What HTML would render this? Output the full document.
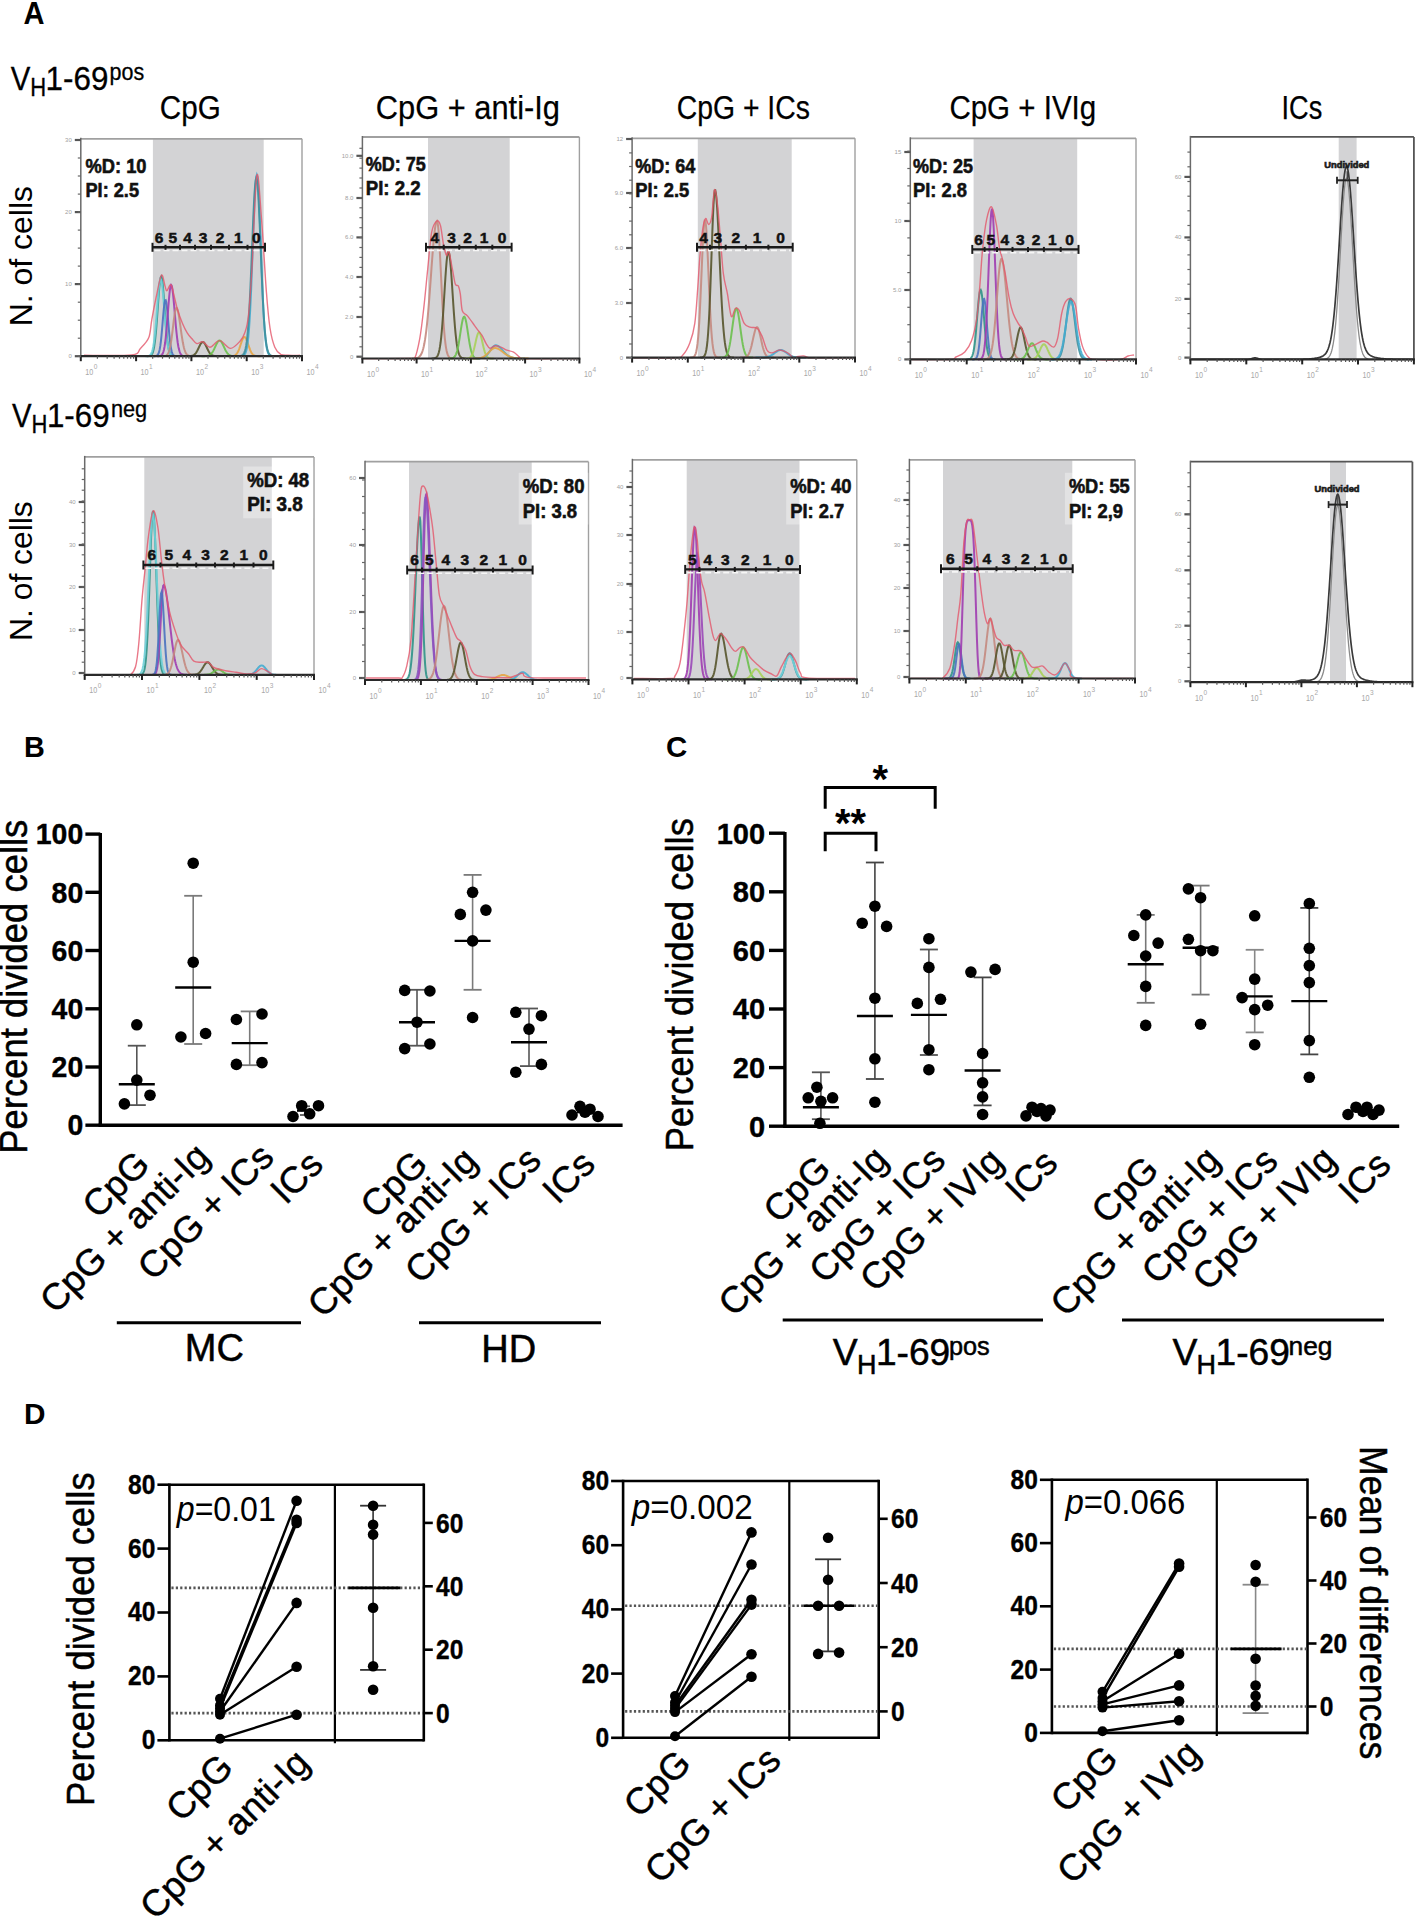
<!DOCTYPE html>
<html><head><meta charset="utf-8"><title>Figure</title>
<style>
html,body{margin:0;padding:0;background:#fff;}
body{width:1417px;height:1917px;overflow:hidden;}
svg{display:block;font-family:"Liberation Sans", sans-serif;}
</style></head>
<body>
<svg width="1417" height="1917" viewBox="0 0 1417 1917">
<rect width="1417" height="1917" fill="#fff"/>
<text x="23.6" y="24.0" font-size="30.5" font-weight="bold" text-anchor="start" fill="#000" textLength="21" lengthAdjust="spacingAndGlyphs">A</text>
<text x="10.8" y="90.2" font-size="33" text-anchor="start" fill="#000" textLength="19.6" lengthAdjust="spacingAndGlyphs" stroke="#000" stroke-width="0.3">V</text>
<text x="30.3" y="96.3" font-size="25" text-anchor="start" fill="#000" textLength="15.9" lengthAdjust="spacingAndGlyphs" stroke="#000" stroke-width="0.3">H</text>
<text x="45.6" y="90.2" font-size="33" text-anchor="start" fill="#000" textLength="62.8" lengthAdjust="spacingAndGlyphs" stroke="#000" stroke-width="0.3">1-69</text>
<text x="109.6" y="80.0" font-size="23.4" text-anchor="start" fill="#000" textLength="34.6" lengthAdjust="spacingAndGlyphs" stroke="#000" stroke-width="0.3">pos</text>
<text x="12.1" y="427.2" font-size="33" text-anchor="start" fill="#000" textLength="19.6" lengthAdjust="spacingAndGlyphs" stroke="#000" stroke-width="0.3">V</text>
<text x="31.6" y="433.3" font-size="25" text-anchor="start" fill="#000" textLength="15.9" lengthAdjust="spacingAndGlyphs" stroke="#000" stroke-width="0.3">H</text>
<text x="46.9" y="427.2" font-size="33" text-anchor="start" fill="#000" textLength="62.8" lengthAdjust="spacingAndGlyphs" stroke="#000" stroke-width="0.3">1-69</text>
<text x="110.9" y="417.0" font-size="23.4" text-anchor="start" fill="#000" textLength="36.3" lengthAdjust="spacingAndGlyphs" stroke="#000" stroke-width="0.3">neg</text>
<text x="159.8" y="118.9" font-size="34" text-anchor="start" fill="#000" textLength="60.9" lengthAdjust="spacingAndGlyphs" stroke="#000" stroke-width="0.25">CpG</text>
<text x="375.8" y="118.9" font-size="34" text-anchor="start" fill="#000" textLength="184.19999999999996" lengthAdjust="spacingAndGlyphs" stroke="#000" stroke-width="0.25">CpG + anti-Ig</text>
<text x="676.7" y="118.9" font-size="34" text-anchor="start" fill="#000" textLength="133.20000000000007" lengthAdjust="spacingAndGlyphs" stroke="#000" stroke-width="0.25">CpG + ICs</text>
<text x="949.4" y="118.9" font-size="34" text-anchor="start" fill="#000" textLength="146.79999999999998" lengthAdjust="spacingAndGlyphs" stroke="#000" stroke-width="0.25">CpG + IVIg</text>
<text x="1281.5" y="118.9" font-size="34" text-anchor="start" fill="#000" textLength="40.69999999999995" lengthAdjust="spacingAndGlyphs" stroke="#000" stroke-width="0.25">ICs</text>
<text transform="translate(32.3,326.2) rotate(-90)" font-size="31" fill="#000" textLength="140.2" lengthAdjust="spacingAndGlyphs">N. of cells</text>
<text transform="translate(32.3,641) rotate(-90)" font-size="31" fill="#000" textLength="139.8" lengthAdjust="spacingAndGlyphs">N. of cells</text>
<rect x="152.9" y="138.8" width="110.8" height="217.4" fill="#d3d3d5"/>
<line x1="80.8" y1="138.8" x2="302.0" y2="138.8" stroke="#a0a0a0" stroke-width="1.8"/>
<line x1="302.0" y1="138.8" x2="302.0" y2="356.2" stroke="#a0a0a0" stroke-width="1.4"/>
<path d="M146.9,356.2 L147.5,356.2 L148.1,356.2 L148.7,356.1 L149.3,356.0 L149.9,355.9 L150.5,355.6 L151.1,355.2 L151.7,354.6 L152.3,353.6 L152.9,352.1 L153.5,350.0 L154.1,347.1 L154.7,343.2 L155.3,338.3 L155.9,332.3 L156.5,325.3 L157.1,317.4 L157.7,309.0 L158.3,300.5 L158.9,292.5 L159.5,285.7 L160.1,280.4 L160.7,277.3 L161.3,276.5 L161.9,278.3 L162.5,282.3 L163.1,288.2 L163.7,295.6 L164.3,303.9 L164.9,312.4 L165.5,320.6 L166.1,328.2 L166.7,334.9 L167.3,340.4 L167.9,344.9 L168.5,348.3 L169.1,350.9 L169.7,352.7 L170.3,354.0 L170.9,354.9 L171.5,355.4 L172.1,355.7 L172.7,355.9 L173.3,356.1 L173.9,356.1 L174.5,356.2 L175.1,356.2" fill="none" stroke="#2f9488" stroke-width="2.0" opacity="0.9"/>
<path d="M145.5,356.2 L146.1,356.2 L146.7,356.2 L147.3,356.1 L147.9,356.0 L148.5,355.9 L149.1,355.7 L149.7,355.4 L150.3,354.9 L150.9,354.2 L151.5,353.1 L152.1,351.5 L152.7,349.3 L153.3,346.4 L153.9,342.7 L154.5,338.0 L155.1,332.4 L155.7,325.9 L156.3,318.6 L156.9,310.9 L157.5,303.2 L158.1,295.8 L158.7,289.2 L159.3,284.0 L159.9,280.5 L160.5,279.0 L161.1,279.7 L161.7,282.4 L162.3,287.0 L162.9,293.0 L163.5,300.1 L164.1,307.8 L164.7,315.6 L165.3,323.0 L165.9,329.9 L166.5,335.9 L167.1,340.9 L167.7,345.0 L168.3,348.3 L168.9,350.7 L169.5,352.5 L170.1,353.8 L170.7,354.7 L171.3,355.3 L171.9,355.6 L172.5,355.9 L173.1,356.0 L173.7,356.1 L174.3,356.1 L174.9,356.2 L175.5,356.2" fill="none" stroke="#6fd0d8" stroke-width="2.0" opacity="0.9"/>
<path d="M153.7,356.2 L154.3,356.2 L154.9,356.2 L155.5,356.1 L156.1,356.0 L156.7,355.8 L157.3,355.4 L157.9,354.7 L158.5,353.6 L159.1,351.9 L159.7,349.4 L160.3,345.9 L160.9,341.3 L161.5,335.5 L162.1,328.8 L162.7,321.6 L163.3,314.5 L163.9,308.1 L164.5,303.2 L165.1,300.5 L165.7,300.2 L166.3,302.5 L166.9,307.0 L167.5,313.1 L168.1,320.2 L168.7,327.4 L169.3,334.3 L169.9,340.2 L170.5,345.1 L171.1,348.8 L171.7,351.5 L172.3,353.4 L172.9,354.6 L173.5,355.3 L174.1,355.7 L174.7,356.0 L175.3,356.1 L175.9,356.1 L176.5,356.2 L177.1,356.2" fill="none" stroke="#4a72c0" stroke-width="2.0" opacity="0.9"/>
<path d="M157.3,356.2 L157.9,356.2 L158.5,356.2 L159.1,356.1 L159.7,356.0 L160.3,355.9 L160.9,355.6 L161.5,355.2 L162.1,354.6 L162.7,353.5 L163.3,352.0 L163.9,349.9 L164.5,346.9 L165.1,343.0 L165.7,338.1 L166.3,332.1 L166.9,325.3 L167.5,317.7 L168.1,309.9 L168.7,302.3 L169.3,295.5 L169.9,290.0 L170.5,286.4 L171.1,285.0 L171.7,285.8 L172.3,288.5 L172.9,292.8 L173.5,298.6 L174.1,305.2 L174.7,312.3 L175.3,319.4 L175.9,326.3 L176.5,332.5 L177.1,337.9 L177.7,342.5 L178.3,346.2 L178.9,349.1 L179.5,351.3 L180.1,352.9 L180.7,354.1 L181.3,354.9 L181.9,355.4 L182.5,355.7 L183.1,355.9 L183.7,356.0 L184.3,356.1 L184.9,356.2 L185.5,356.2 L186.1,356.2" fill="none" stroke="#a03cb0" stroke-width="2.0" opacity="0.9"/>
<path d="M161.8,356.2 L162.4,356.2 L163.0,356.2 L163.6,356.1 L164.2,356.1 L164.8,356.0 L165.4,355.9 L166.0,355.7 L166.6,355.3 L167.2,354.8 L167.8,354.0 L168.4,352.9 L169.0,351.3 L169.6,349.3 L170.2,346.7 L170.8,343.4 L171.4,339.5 L172.0,335.1 L172.6,330.3 L173.2,325.3 L173.8,320.4 L174.4,315.9 L175.0,312.2 L175.6,309.6 L176.2,308.2 L176.8,308.1 L177.4,309.2 L178.0,311.3 L178.6,314.2 L179.2,317.8 L179.8,321.9 L180.4,326.2 L181.0,330.6 L181.6,334.8 L182.2,338.7 L182.8,342.3 L183.4,345.3 L184.0,347.9 L184.6,350.0 L185.2,351.7 L185.8,353.0 L186.4,353.9 L187.0,354.7 L187.6,355.2 L188.2,355.5 L188.8,355.8 L189.4,355.9 L190.0,356.0 L190.6,356.1 L191.2,356.1 L191.8,356.2 L192.4,356.2 L193.0,356.2" fill="none" stroke="#c48a80" stroke-width="2.0" opacity="0.9"/>
<path d="M186.0,356.2 L186.6,356.2 L187.2,356.2 L187.8,356.2 L188.4,356.2 L189.0,356.2 L189.6,356.1 L190.2,356.1 L190.8,356.0 L191.4,356.0 L192.0,355.8 L192.6,355.7 L193.2,355.4 L193.8,355.1 L194.4,354.6 L195.0,354.1 L195.6,353.4 L196.2,352.6 L196.8,351.6 L197.4,350.5 L198.0,349.3 L198.6,348.0 L199.2,346.7 L199.8,345.5 L200.4,344.3 L201.0,343.4 L201.6,342.6 L202.2,342.2 L202.8,342.0 L203.4,342.2 L204.0,342.6 L204.6,343.4 L205.2,344.3 L205.8,345.5 L206.4,346.7 L207.0,348.0 L207.6,349.3 L208.2,350.5 L208.8,351.6 L209.4,352.6 L210.0,353.4 L210.6,354.1 L211.2,354.6 L211.8,355.1 L212.4,355.4 L213.0,355.7 L213.6,355.8 L214.2,356.0 L214.8,356.0 L215.4,356.1 L216.0,356.1 L216.6,356.2 L217.2,356.2 L217.8,356.2 L218.4,356.2 L219.0,356.2 L219.6,356.2" fill="none" stroke="#56542c" stroke-width="2.0" opacity="0.9"/>
<path d="M201.5,356.2 L202.1,356.2 L202.7,356.2 L203.3,356.2 L203.9,356.2 L204.5,356.2 L205.1,356.1 L205.7,356.1 L206.3,356.1 L206.9,356.0 L207.5,355.9 L208.1,355.7 L208.7,355.6 L209.3,355.3 L209.9,354.9 L210.5,354.5 L211.1,353.9 L211.7,353.2 L212.3,352.4 L212.9,351.5 L213.5,350.4 L214.1,349.2 L214.7,347.9 L215.3,346.6 L215.9,345.3 L216.5,344.0 L217.1,342.9 L217.7,341.9 L218.3,341.2 L218.9,340.7 L219.5,340.5 L220.1,340.6 L220.7,341.0 L221.3,341.7 L221.9,342.7 L222.5,343.8 L223.1,345.0 L223.7,346.3 L224.3,347.6 L224.9,348.9 L225.5,350.2 L226.1,351.3 L226.7,352.2 L227.3,353.1 L227.9,353.8 L228.5,354.4 L229.1,354.9 L229.7,355.2 L230.3,355.5 L230.9,355.7 L231.5,355.9 L232.1,356.0 L232.7,356.1 L233.3,356.1 L233.9,356.1 L234.5,356.2 L235.1,356.2 L235.7,356.2 L236.3,356.2 L236.9,356.2 L237.5,356.2" fill="none" stroke="#6cc04e" stroke-width="2.0" opacity="0.9"/>
<path d="M228.5,356.2 L229.1,356.2 L229.7,356.2 L230.3,356.2 L230.9,356.2 L231.5,356.1 L232.1,356.1 L232.7,356.0 L233.3,355.9 L233.9,355.8 L234.5,355.6 L235.1,355.3 L235.7,354.9 L236.3,354.3 L236.9,353.5 L237.5,352.6 L238.1,351.5 L238.7,350.1 L239.3,348.6 L239.9,346.9 L240.5,345.0 L241.1,343.2 L241.7,341.5 L242.3,339.9 L242.9,338.6 L243.5,337.6 L244.1,337.1 L244.7,337.0 L245.3,337.5 L245.9,338.3 L246.5,339.6 L247.1,341.1 L247.7,342.9 L248.3,344.7 L248.9,346.5 L249.5,348.2 L250.1,349.8 L250.7,351.2 L251.3,352.4 L251.9,353.4 L252.5,354.2 L253.1,354.8 L253.7,355.2 L254.3,355.5 L254.9,355.8 L255.5,355.9 L256.1,356.0 L256.7,356.1 L257.3,356.1 L257.9,356.2 L258.5,356.2 L259.1,356.2 L259.7,356.2 L260.3,356.2" fill="none" stroke="#e6a545" stroke-width="2.0" opacity="0.9"/>
<path d="M240.0,356.2 L240.6,356.2 L241.2,356.1 L241.8,356.0 L242.4,355.9 L243.0,355.7 L243.6,355.4 L244.2,354.9 L244.8,354.2 L245.4,353.1 L246.0,351.5 L246.6,349.2 L247.2,346.0 L247.8,341.8 L248.4,336.2 L249.0,329.1 L249.6,320.3 L250.2,309.8 L250.8,297.4 L251.4,283.4 L252.0,268.0 L252.6,251.8 L253.2,235.3 L253.8,219.4 L254.4,204.8 L255.0,192.4 L255.6,183.0 L256.2,177.0 L256.8,175.0 L257.4,177.0 L258.0,183.0 L258.6,192.4 L259.2,204.8 L259.8,219.4 L260.4,235.3 L261.0,251.8 L261.6,268.0 L262.2,283.4 L262.8,297.4 L263.4,309.8 L264.0,320.3 L264.6,329.1 L265.2,336.2 L265.8,341.8 L266.4,346.0 L267.0,349.2 L267.6,351.5 L268.2,353.1 L268.8,354.2 L269.4,354.9 L270.0,355.4 L270.6,355.7 L271.2,355.9 L271.8,356.0 L272.4,356.1 L273.0,356.2 L273.6,356.2" fill="none" stroke="#45acd0" stroke-width="2.0" opacity="0.9"/>
<path d="M238.3,356.2 L238.9,356.2 L239.5,356.1 L240.1,356.1 L240.7,356.0 L241.3,355.8 L241.9,355.6 L242.5,355.2 L243.1,354.7 L243.7,353.9 L244.3,352.7 L244.9,351.1 L245.5,348.9 L246.1,345.9 L246.7,341.9 L247.3,336.8 L247.9,330.5 L248.5,322.7 L249.1,313.4 L249.7,302.5 L250.3,290.2 L250.9,276.6 L251.5,262.1 L252.1,247.1 L252.7,232.2 L253.3,217.9 L253.9,204.9 L254.5,193.9 L255.1,185.5 L255.7,180.1 L256.3,178.0 L256.9,179.4 L257.5,184.2 L258.1,192.0 L258.7,202.5 L259.3,215.1 L259.9,229.2 L260.5,244.1 L261.1,259.1 L261.7,273.8 L262.3,287.6 L262.9,300.1 L263.5,311.3 L264.1,320.9 L264.7,329.0 L265.3,335.7 L265.9,341.0 L266.5,345.1 L267.1,348.3 L267.7,350.7 L268.3,352.4 L268.9,353.7 L269.5,354.5 L270.1,355.1 L270.7,355.5 L271.3,355.8 L271.9,355.9 L272.5,356.0 L273.1,356.1 L273.7,356.1 L274.3,356.2" fill="none" stroke="#3f8f9c" stroke-width="2.0" opacity="0.9"/>
<path d="M84.0,355.3 C91.9,355.3 122.0,356.1 131.4,355.0 C140.8,353.8 137.5,351.3 140.4,348.4 C143.3,345.5 146.9,342.4 148.8,337.6 C150.7,332.8 150.6,326.2 151.8,319.6 C153.0,313.0 154.4,305.4 156.0,298.0 C157.6,290.6 159.9,277.2 161.4,275.2 C162.9,273.2 164.1,283.4 165.0,286.0 C165.9,288.6 165.8,291.0 166.8,290.8 C167.8,290.6 169.7,283.6 171.0,284.8 C172.3,286.0 173.5,293.8 174.6,298.0 C175.7,302.2 176.3,305.8 177.6,310.0 C178.9,314.2 180.8,319.4 182.4,323.2 C184.0,327.0 185.6,330.2 187.2,332.8 C188.8,335.4 190.4,337.0 192.0,338.8 C193.6,340.6 195.0,343.1 196.8,343.6 C198.6,344.1 200.6,341.2 202.8,341.8 C205.0,342.4 207.2,347.4 210.0,347.2 C212.8,347.0 216.2,340.4 219.6,340.6 C223.0,340.8 227.0,348.3 230.4,348.4 C233.8,348.5 237.6,343.8 240.0,341.2 C242.4,338.6 243.4,337.0 244.8,332.8 C246.2,328.6 247.2,326.8 248.4,316.0 C249.6,305.2 250.6,291.4 252.0,268.0 C253.4,244.6 255.2,183.6 256.8,175.6 C258.4,167.6 260.0,200.6 261.6,220.0 C263.2,239.4 265.0,274.0 266.4,292.0 C267.8,310.0 268.6,318.8 270.0,328.0 C271.4,337.2 273.0,342.8 274.8,347.2 C276.6,351.6 278.6,353.0 280.8,354.4 C283.0,355.7 284.8,355.2 288.0,355.3 C291.2,355.5 298.0,355.3 300.0,355.3" fill="none" stroke="#e4566a" stroke-width="1.4" opacity="0.8"/>
<line x1="80.8" y1="137.8" x2="80.8" y2="357.2" stroke="#6a6a6a" stroke-width="1.5"/>
<line x1="79.8" y1="356.2" x2="303.0" y2="356.2" stroke="#2a2a2a" stroke-width="2.2"/>
<line x1="80.8" y1="356.2" x2="80.8" y2="361.2" stroke="#222" stroke-width="2"/>
<text x="85.3" y="374.7" font-size="9" fill="#a8a8a8" text-anchor="start" textLength="8" lengthAdjust="spacingAndGlyphs">10</text>
<text x="93.8" y="369.2" font-size="6.5" fill="#a8a8a8">0</text>
<line x1="97.4" y1="356.2" x2="97.4" y2="358.7" stroke="#555" stroke-width="1.2"/>
<line x1="107.2" y1="356.2" x2="107.2" y2="358.7" stroke="#555" stroke-width="1.2"/>
<line x1="114.1" y1="356.2" x2="114.1" y2="358.7" stroke="#555" stroke-width="1.2"/>
<line x1="119.5" y1="356.2" x2="119.5" y2="358.7" stroke="#555" stroke-width="1.2"/>
<line x1="123.8" y1="356.2" x2="123.8" y2="358.7" stroke="#555" stroke-width="1.2"/>
<line x1="127.5" y1="356.2" x2="127.5" y2="358.7" stroke="#555" stroke-width="1.2"/>
<line x1="130.7" y1="356.2" x2="130.7" y2="358.7" stroke="#555" stroke-width="1.2"/>
<line x1="133.6" y1="356.2" x2="133.6" y2="358.7" stroke="#555" stroke-width="1.2"/>
<line x1="136.1" y1="356.2" x2="136.1" y2="361.2" stroke="#222" stroke-width="2"/>
<text x="140.6" y="374.7" font-size="9" fill="#a8a8a8" text-anchor="start" textLength="8" lengthAdjust="spacingAndGlyphs">10</text>
<text x="149.1" y="369.2" font-size="6.5" fill="#a8a8a8">1</text>
<line x1="152.7" y1="356.2" x2="152.7" y2="358.7" stroke="#555" stroke-width="1.2"/>
<line x1="162.5" y1="356.2" x2="162.5" y2="358.7" stroke="#555" stroke-width="1.2"/>
<line x1="169.4" y1="356.2" x2="169.4" y2="358.7" stroke="#555" stroke-width="1.2"/>
<line x1="174.8" y1="356.2" x2="174.8" y2="358.7" stroke="#555" stroke-width="1.2"/>
<line x1="179.1" y1="356.2" x2="179.1" y2="358.7" stroke="#555" stroke-width="1.2"/>
<line x1="182.8" y1="356.2" x2="182.8" y2="358.7" stroke="#555" stroke-width="1.2"/>
<line x1="186.0" y1="356.2" x2="186.0" y2="358.7" stroke="#555" stroke-width="1.2"/>
<line x1="188.9" y1="356.2" x2="188.9" y2="358.7" stroke="#555" stroke-width="1.2"/>
<line x1="191.4" y1="356.2" x2="191.4" y2="361.2" stroke="#222" stroke-width="2"/>
<text x="195.9" y="374.7" font-size="9" fill="#a8a8a8" text-anchor="start" textLength="8" lengthAdjust="spacingAndGlyphs">10</text>
<text x="204.4" y="369.2" font-size="6.5" fill="#a8a8a8">2</text>
<line x1="208.0" y1="356.2" x2="208.0" y2="358.7" stroke="#555" stroke-width="1.2"/>
<line x1="217.8" y1="356.2" x2="217.8" y2="358.7" stroke="#555" stroke-width="1.2"/>
<line x1="224.7" y1="356.2" x2="224.7" y2="358.7" stroke="#555" stroke-width="1.2"/>
<line x1="230.1" y1="356.2" x2="230.1" y2="358.7" stroke="#555" stroke-width="1.2"/>
<line x1="234.4" y1="356.2" x2="234.4" y2="358.7" stroke="#555" stroke-width="1.2"/>
<line x1="238.1" y1="356.2" x2="238.1" y2="358.7" stroke="#555" stroke-width="1.2"/>
<line x1="241.3" y1="356.2" x2="241.3" y2="358.7" stroke="#555" stroke-width="1.2"/>
<line x1="244.2" y1="356.2" x2="244.2" y2="358.7" stroke="#555" stroke-width="1.2"/>
<line x1="246.7" y1="356.2" x2="246.7" y2="361.2" stroke="#222" stroke-width="2"/>
<text x="251.2" y="374.7" font-size="9" fill="#a8a8a8" text-anchor="start" textLength="8" lengthAdjust="spacingAndGlyphs">10</text>
<text x="259.7" y="369.2" font-size="6.5" fill="#a8a8a8">3</text>
<line x1="263.3" y1="356.2" x2="263.3" y2="358.7" stroke="#555" stroke-width="1.2"/>
<line x1="273.1" y1="356.2" x2="273.1" y2="358.7" stroke="#555" stroke-width="1.2"/>
<line x1="280.0" y1="356.2" x2="280.0" y2="358.7" stroke="#555" stroke-width="1.2"/>
<line x1="285.4" y1="356.2" x2="285.4" y2="358.7" stroke="#555" stroke-width="1.2"/>
<line x1="289.7" y1="356.2" x2="289.7" y2="358.7" stroke="#555" stroke-width="1.2"/>
<line x1="293.4" y1="356.2" x2="293.4" y2="358.7" stroke="#555" stroke-width="1.2"/>
<line x1="296.6" y1="356.2" x2="296.6" y2="358.7" stroke="#555" stroke-width="1.2"/>
<line x1="299.5" y1="356.2" x2="299.5" y2="358.7" stroke="#555" stroke-width="1.2"/>
<line x1="302.0" y1="356.2" x2="302.0" y2="361.2" stroke="#222" stroke-width="2"/>
<text x="306.5" y="374.7" font-size="9" fill="#a8a8a8" text-anchor="start" textLength="8" lengthAdjust="spacingAndGlyphs">10</text>
<text x="315.0" y="369.2" font-size="6.5" fill="#a8a8a8">4</text>
<line x1="74.8" y1="356.2" x2="80.8" y2="356.2" stroke="#555" stroke-width="2.2"/>
<text x="71.8" y="358.2" font-size="6" fill="#a0a0a0" text-anchor="end">0</text>
<line x1="74.8" y1="284.1" x2="80.8" y2="284.1" stroke="#555" stroke-width="2.2"/>
<text x="71.8" y="286.1" font-size="6" fill="#a0a0a0" text-anchor="end">10</text>
<line x1="74.8" y1="212.1" x2="80.8" y2="212.1" stroke="#555" stroke-width="2.2"/>
<text x="71.8" y="214.1" font-size="6" fill="#a0a0a0" text-anchor="end">20</text>
<line x1="74.8" y1="140.0" x2="80.8" y2="140.0" stroke="#555" stroke-width="2.2"/>
<text x="71.8" y="142.0" font-size="6" fill="#a0a0a0" text-anchor="end">30</text>
<line x1="77.8" y1="356.2" x2="80.8" y2="356.2" stroke="#666" stroke-width="1.2"/>
<line x1="77.8" y1="338.2" x2="80.8" y2="338.2" stroke="#666" stroke-width="1.2"/>
<line x1="77.8" y1="320.2" x2="80.8" y2="320.2" stroke="#666" stroke-width="1.2"/>
<line x1="77.8" y1="302.2" x2="80.8" y2="302.2" stroke="#666" stroke-width="1.2"/>
<line x1="77.8" y1="284.1" x2="80.8" y2="284.1" stroke="#666" stroke-width="1.2"/>
<line x1="77.8" y1="266.1" x2="80.8" y2="266.1" stroke="#666" stroke-width="1.2"/>
<line x1="77.8" y1="248.1" x2="80.8" y2="248.1" stroke="#666" stroke-width="1.2"/>
<line x1="77.8" y1="230.1" x2="80.8" y2="230.1" stroke="#666" stroke-width="1.2"/>
<line x1="77.8" y1="212.1" x2="80.8" y2="212.1" stroke="#666" stroke-width="1.2"/>
<line x1="77.8" y1="194.1" x2="80.8" y2="194.1" stroke="#666" stroke-width="1.2"/>
<line x1="77.8" y1="176.0" x2="80.8" y2="176.0" stroke="#666" stroke-width="1.2"/>
<line x1="77.8" y1="158.0" x2="80.8" y2="158.0" stroke="#666" stroke-width="1.2"/>
<line x1="152.5" y1="247.3" x2="265.0" y2="247.3" stroke="#1a1a1a" stroke-width="2.4"/>
<line x1="154.5" y1="250.5" x2="263.0" y2="250.5" stroke="#f6f6f6" stroke-width="1.6" stroke-dasharray="6 3"/>
<line x1="152.5" y1="242.8" x2="152.5" y2="251.8" stroke="#1a1a1a" stroke-width="2.0"/>
<line x1="165.5" y1="244.8" x2="165.5" y2="249.8" stroke="#1a1a1a" stroke-width="2.0"/>
<line x1="180.0" y1="244.8" x2="180.0" y2="249.8" stroke="#1a1a1a" stroke-width="2.0"/>
<line x1="195.0" y1="244.8" x2="195.0" y2="249.8" stroke="#1a1a1a" stroke-width="2.0"/>
<line x1="211.0" y1="244.8" x2="211.0" y2="249.8" stroke="#1a1a1a" stroke-width="2.0"/>
<line x1="229.0" y1="244.8" x2="229.0" y2="249.8" stroke="#1a1a1a" stroke-width="2.0"/>
<line x1="247.5" y1="244.8" x2="247.5" y2="249.8" stroke="#1a1a1a" stroke-width="2.0"/>
<line x1="265.0" y1="242.8" x2="265.0" y2="251.8" stroke="#1a1a1a" stroke-width="2.0"/>
<text x="159.0" y="242.7" font-size="15.5" font-weight="bold" text-anchor="middle" fill="#111" stroke="#111" stroke-width="0.5">6</text>
<text x="172.8" y="242.7" font-size="15.5" font-weight="bold" text-anchor="middle" fill="#111" stroke="#111" stroke-width="0.5">5</text>
<text x="187.5" y="242.7" font-size="15.5" font-weight="bold" text-anchor="middle" fill="#111" stroke="#111" stroke-width="0.5">4</text>
<text x="203.0" y="242.7" font-size="15.5" font-weight="bold" text-anchor="middle" fill="#111" stroke="#111" stroke-width="0.5">3</text>
<text x="220.0" y="242.7" font-size="15.5" font-weight="bold" text-anchor="middle" fill="#111" stroke="#111" stroke-width="0.5">2</text>
<text x="238.2" y="242.7" font-size="15.5" font-weight="bold" text-anchor="middle" fill="#111" stroke="#111" stroke-width="0.5">1</text>
<text x="256.2" y="242.7" font-size="15.5" font-weight="bold" text-anchor="middle" fill="#111" stroke="#111" stroke-width="0.5">0</text>
<text x="85.5" y="173.0" font-size="20.4" font-weight="bold" text-anchor="start" fill="#111" textLength="61" lengthAdjust="spacingAndGlyphs" stroke="#111" stroke-width="0.6">%D: 10</text>
<text x="85.5" y="197.2" font-size="20.4" font-weight="bold" text-anchor="start" fill="#111" textLength="53.5" lengthAdjust="spacingAndGlyphs" stroke="#111" stroke-width="0.6">PI: 2.5</text>
<rect x="428.0" y="137.0" width="81.7" height="221.5" fill="#d3d3d5"/>
<line x1="362.4" y1="137.0" x2="579.4" y2="137.0" stroke="#a0a0a0" stroke-width="1.8"/>
<line x1="579.4" y1="137.0" x2="579.4" y2="358.5" stroke="#a0a0a0" stroke-width="1.4"/>
<path d="M411.8,358.5 L412.4,358.5 L413.0,358.5 L413.6,358.4 L414.2,358.4 L414.8,358.4 L415.4,358.3 L416.0,358.2 L416.6,358.1 L417.2,357.9 L417.8,357.7 L418.4,357.4 L419.0,357.0 L419.6,356.4 L420.2,355.8 L420.8,354.9 L421.4,353.8 L422.0,352.5 L422.6,350.8 L423.2,348.7 L423.8,346.3 L424.4,343.3 L425.0,339.9 L425.6,335.9 L426.2,331.3 L426.8,326.1 L427.4,320.3 L428.0,313.9 L428.6,306.9 L429.2,299.4 L429.8,291.6 L430.4,283.4 L431.0,275.1 L431.6,266.8 L432.2,258.7 L432.8,250.9 L433.4,243.7 L434.0,237.2 L434.6,231.6 L435.2,227.1 L435.8,223.7 L436.4,221.7 L437.0,221.0 L437.6,222.5 L438.2,227.1 L438.8,234.2 L439.4,243.7 L440.0,254.7 L440.6,266.8 L441.2,279.3 L441.8,291.6 L442.4,303.2 L443.0,313.9 L443.6,323.3 L444.2,331.3 L444.8,338.0 L445.4,343.3 L446.0,347.6 L446.6,350.8 L447.2,353.2 L447.8,354.9 L448.4,356.1 L449.0,357.0 L449.6,357.5 L450.2,357.9 L450.8,358.1 L451.4,358.3 L452.0,358.4 L452.6,358.4 L453.2,358.5 L453.8,358.5" fill="none" stroke="#c48a80" stroke-width="2.0" opacity="0.9"/>
<path d="M431.6,358.5 L432.2,358.5 L432.8,358.4 L433.4,358.4 L434.0,358.3 L434.6,358.2 L435.2,358.0 L435.8,357.7 L436.4,357.3 L437.0,356.7 L437.6,355.7 L438.2,354.4 L438.8,352.5 L439.4,350.0 L440.0,346.7 L440.6,342.5 L441.2,337.3 L441.8,331.0 L442.4,323.7 L443.0,315.4 L443.6,306.4 L444.2,296.8 L444.8,287.1 L445.4,277.7 L446.0,269.0 L446.6,261.7 L447.2,256.1 L447.8,252.6 L448.4,251.4 L449.0,252.5 L449.6,255.7 L450.2,260.8 L450.8,267.5 L451.4,275.5 L452.0,284.3 L452.6,293.5 L453.2,302.8 L453.8,311.6 L454.4,319.9 L455.0,327.3 L455.6,333.9 L456.2,339.4 L456.8,344.0 L457.4,347.7 L458.0,350.6 L458.6,352.9 L459.2,354.6 L459.8,355.8 L460.4,356.7 L461.0,357.3 L461.6,357.7 L462.2,358.0 L462.8,358.2 L463.4,358.3 L464.0,358.4 L464.6,358.4 L465.2,358.5 L465.8,358.5" fill="none" stroke="#56542c" stroke-width="2.0" opacity="0.9"/>
<path d="M448.2,358.5 L448.8,358.5 L449.4,358.5 L450.0,358.5 L450.6,358.4 L451.2,358.4 L451.8,358.3 L452.4,358.2 L453.0,357.9 L453.6,357.6 L454.2,357.1 L454.8,356.5 L455.4,355.6 L456.0,354.3 L456.6,352.7 L457.2,350.7 L457.8,348.2 L458.4,345.2 L459.0,341.8 L459.6,338.1 L460.2,334.2 L460.8,330.2 L461.4,326.3 L462.0,322.9 L462.6,320.0 L463.2,317.9 L463.8,316.8 L464.4,316.7 L465.0,317.6 L465.6,319.5 L466.2,322.2 L466.8,325.6 L467.4,329.4 L468.0,333.4 L468.6,337.3 L469.2,341.1 L469.8,344.6 L470.4,347.6 L471.0,350.2 L471.6,352.3 L472.2,354.0 L472.8,355.3 L473.4,356.3 L474.0,357.0 L474.6,357.5 L475.2,357.9 L475.8,358.1 L476.4,358.3 L477.0,358.4 L477.6,358.4 L478.2,358.5 L478.8,358.5 L479.4,358.5 L480.0,358.5" fill="none" stroke="#6cc04e" stroke-width="2.0" opacity="0.9"/>
<path d="M464.3,358.5 L464.9,358.5 L465.5,358.5 L466.1,358.5 L466.7,358.4 L467.3,358.4 L467.9,358.3 L468.5,358.2 L469.1,358.0 L469.7,357.7 L470.3,357.3 L470.9,356.7 L471.5,355.9 L472.1,354.8 L472.7,353.3 L473.3,351.6 L473.9,349.5 L474.5,347.1 L475.1,344.5 L475.7,341.8 L476.3,339.1 L476.9,336.7 L477.5,334.7 L478.1,333.2 L478.7,332.5 L479.3,332.5 L479.9,333.2 L480.5,334.7 L481.1,336.7 L481.7,339.1 L482.3,341.8 L482.9,344.5 L483.5,347.1 L484.1,349.5 L484.7,351.6 L485.3,353.3 L485.9,354.8 L486.5,355.9 L487.1,356.7 L487.7,357.3 L488.3,357.7 L488.9,358.0 L489.5,358.2 L490.1,358.3 L490.7,358.4 L491.3,358.4 L491.9,358.5 L492.5,358.5 L493.1,358.5 L493.7,358.5" fill="none" stroke="#a8d05a" stroke-width="2.0" opacity="0.9"/>
<path d="M472.7,358.5 L473.3,358.5 L473.9,358.5 L474.5,358.5 L475.1,358.5 L475.7,358.5 L476.3,358.5 L476.9,358.5 L477.5,358.4 L478.1,358.4 L478.7,358.4 L479.3,358.4 L479.9,358.3 L480.5,358.2 L481.1,358.1 L481.7,358.0 L482.3,357.9 L482.9,357.7 L483.5,357.4 L484.1,357.1 L484.7,356.8 L485.3,356.4 L485.9,355.9 L486.5,355.3 L487.1,354.7 L487.7,354.0 L488.3,353.3 L488.9,352.5 L489.5,351.7 L490.1,350.8 L490.7,349.9 L491.3,349.1 L491.9,348.2 L492.5,347.5 L493.1,346.8 L493.7,346.2 L494.3,345.8 L494.9,345.5 L495.5,345.3 L496.1,345.3 L496.7,345.4 L497.3,345.6 L497.9,345.9 L498.5,346.2 L499.1,346.7 L499.7,347.2 L500.3,347.8 L500.9,348.4 L501.5,349.0 L502.1,349.7 L502.7,350.4 L503.3,351.1 L503.9,351.7 L504.5,352.4 L505.1,353.0 L505.7,353.6 L506.3,354.2 L506.9,354.7 L507.5,355.2 L508.1,355.7 L508.7,356.1 L509.3,356.4 L509.9,356.8 L510.5,357.0 L511.1,357.3 L511.7,357.5 L512.3,357.7 L512.9,357.8 L513.5,358.0 L514.1,358.1 L514.7,358.2 L515.3,358.2 L515.9,358.3 L516.5,358.3 L517.1,358.4 L517.7,358.4 L518.3,358.4 L518.9,358.4 L519.5,358.5 L520.1,358.5 L520.7,358.5 L521.3,358.5 L521.9,358.5 L522.5,358.5 L523.1,358.5 L523.7,358.5 L524.3,358.5 L524.9,358.5" fill="none" stroke="#45acd0" stroke-width="2.0" opacity="0.9"/>
<path d="M469.8,358.5 L470.4,358.5 L471.0,358.5 L471.6,358.5 L472.2,358.5 L472.8,358.5 L473.4,358.5 L474.0,358.5 L474.6,358.5 L475.2,358.5 L475.8,358.4 L476.4,358.4 L477.0,358.4 L477.6,358.3 L478.2,358.3 L478.8,358.2 L479.4,358.1 L480.0,358.0 L480.6,357.9 L481.2,357.8 L481.8,357.6 L482.4,357.3 L483.0,357.1 L483.6,356.8 L484.2,356.4 L484.8,356.0 L485.4,355.6 L486.0,355.1 L486.6,354.6 L487.2,354.0 L487.8,353.4 L488.4,352.8 L489.0,352.1 L489.6,351.5 L490.2,350.9 L490.8,350.3 L491.4,349.7 L492.0,349.2 L492.6,348.8 L493.2,348.5 L493.8,348.2 L494.4,348.1 L495.0,348.0 L495.6,348.0 L496.2,348.1 L496.8,348.3 L497.4,348.5 L498.0,348.7 L498.6,349.0 L499.2,349.4 L499.8,349.7 L500.4,350.1 L501.0,350.6 L501.6,351.0 L502.2,351.5 L502.8,352.0 L503.4,352.4 L504.0,352.9 L504.6,353.4 L505.2,353.8 L505.8,354.3 L506.4,354.7 L507.0,355.1 L507.6,355.5 L508.2,355.8 L508.8,356.1 L509.4,356.4 L510.0,356.7 L510.6,356.9 L511.2,357.1 L511.8,357.3 L512.4,357.5 L513.0,357.7 L513.6,357.8 L514.2,357.9 L514.8,358.0 L515.4,358.1 L516.0,358.2 L516.6,358.2 L517.2,358.3 L517.8,358.3 L518.4,358.4 L519.0,358.4 L519.6,358.4 L520.2,358.4 L520.8,358.4 L521.4,358.5 L522.0,358.5 L522.6,358.5 L523.2,358.5 L523.8,358.5 L524.4,358.5 L525.0,358.5 L525.6,358.5 L526.2,358.5 L526.8,358.5 L527.4,358.5 L528.0,358.5 L528.6,358.5" fill="none" stroke="#e6a545" stroke-width="2.0" opacity="0.9"/>
<path d="M364.0,358.6 C371.7,358.6 401.5,358.6 410.0,358.5 C418.5,358.4 413.2,361.5 414.8,358.1 C416.4,354.7 418.3,346.5 419.8,338.3 C421.3,330.1 422.4,320.2 423.7,308.7 C425.0,297.2 426.4,281.9 427.7,269.2 C429.0,256.5 430.1,240.6 431.6,232.6 C433.1,224.6 435.1,222.3 436.6,221.2 C438.1,220.0 439.4,221.8 440.5,225.7 C441.6,229.6 442.5,239.6 443.5,244.5 C444.5,249.4 445.5,254.2 446.4,255.3 C447.3,256.4 447.9,249.1 448.9,251.4 C449.9,253.7 451.3,263.8 452.4,269.2 C453.5,274.6 454.3,281.2 455.3,284.0 C456.3,286.8 457.5,284.4 458.3,286.0 C459.1,287.6 459.6,289.8 460.3,293.9 C461.0,298.0 461.2,307.1 462.3,310.7 C463.4,314.3 465.4,313.5 467.2,315.6 C469.0,317.7 471.3,321.0 473.1,323.5 C474.9,326.0 476.6,328.4 478.1,330.4 C479.6,332.4 480.7,333.2 482.0,335.4 C483.3,337.5 484.7,341.2 486.0,343.3 C487.3,345.4 488.4,347.8 489.9,348.2 C491.4,348.6 493.1,346.0 494.9,345.8 C496.7,345.6 498.8,346.5 500.8,347.2 C502.8,347.9 504.6,349.4 506.7,350.2 C508.8,351.0 511.5,351.0 513.6,352.2 C515.8,353.4 518.0,356.0 519.6,357.1 C521.2,358.2 513.8,358.4 523.5,358.6 C533.2,358.9 568.9,358.6 578.0,358.6" fill="none" stroke="#e4566a" stroke-width="1.4" opacity="0.8"/>
<line x1="362.4" y1="136.0" x2="362.4" y2="359.5" stroke="#6a6a6a" stroke-width="1.5"/>
<line x1="361.4" y1="358.5" x2="580.4" y2="358.5" stroke="#2a2a2a" stroke-width="2.2"/>
<line x1="362.4" y1="358.5" x2="362.4" y2="363.5" stroke="#222" stroke-width="2"/>
<text x="366.9" y="377.0" font-size="9" fill="#a8a8a8" text-anchor="start" textLength="8" lengthAdjust="spacingAndGlyphs">10</text>
<text x="375.4" y="371.5" font-size="6.5" fill="#a8a8a8">0</text>
<line x1="378.7" y1="358.5" x2="378.7" y2="361.0" stroke="#555" stroke-width="1.2"/>
<line x1="388.3" y1="358.5" x2="388.3" y2="361.0" stroke="#555" stroke-width="1.2"/>
<line x1="395.1" y1="358.5" x2="395.1" y2="361.0" stroke="#555" stroke-width="1.2"/>
<line x1="400.3" y1="358.5" x2="400.3" y2="361.0" stroke="#555" stroke-width="1.2"/>
<line x1="404.6" y1="358.5" x2="404.6" y2="361.0" stroke="#555" stroke-width="1.2"/>
<line x1="408.2" y1="358.5" x2="408.2" y2="361.0" stroke="#555" stroke-width="1.2"/>
<line x1="411.4" y1="358.5" x2="411.4" y2="361.0" stroke="#555" stroke-width="1.2"/>
<line x1="414.2" y1="358.5" x2="414.2" y2="361.0" stroke="#555" stroke-width="1.2"/>
<line x1="416.6" y1="358.5" x2="416.6" y2="363.5" stroke="#222" stroke-width="2"/>
<text x="421.1" y="377.0" font-size="9" fill="#a8a8a8" text-anchor="start" textLength="8" lengthAdjust="spacingAndGlyphs">10</text>
<text x="429.6" y="371.5" font-size="6.5" fill="#a8a8a8">1</text>
<line x1="433.0" y1="358.5" x2="433.0" y2="361.0" stroke="#555" stroke-width="1.2"/>
<line x1="442.5" y1="358.5" x2="442.5" y2="361.0" stroke="#555" stroke-width="1.2"/>
<line x1="449.3" y1="358.5" x2="449.3" y2="361.0" stroke="#555" stroke-width="1.2"/>
<line x1="454.6" y1="358.5" x2="454.6" y2="361.0" stroke="#555" stroke-width="1.2"/>
<line x1="458.9" y1="358.5" x2="458.9" y2="361.0" stroke="#555" stroke-width="1.2"/>
<line x1="462.5" y1="358.5" x2="462.5" y2="361.0" stroke="#555" stroke-width="1.2"/>
<line x1="465.6" y1="358.5" x2="465.6" y2="361.0" stroke="#555" stroke-width="1.2"/>
<line x1="468.4" y1="358.5" x2="468.4" y2="361.0" stroke="#555" stroke-width="1.2"/>
<line x1="470.9" y1="358.5" x2="470.9" y2="363.5" stroke="#222" stroke-width="2"/>
<text x="475.4" y="377.0" font-size="9" fill="#a8a8a8" text-anchor="start" textLength="8" lengthAdjust="spacingAndGlyphs">10</text>
<text x="483.9" y="371.5" font-size="6.5" fill="#a8a8a8">2</text>
<line x1="487.2" y1="358.5" x2="487.2" y2="361.0" stroke="#555" stroke-width="1.2"/>
<line x1="496.8" y1="358.5" x2="496.8" y2="361.0" stroke="#555" stroke-width="1.2"/>
<line x1="503.6" y1="358.5" x2="503.6" y2="361.0" stroke="#555" stroke-width="1.2"/>
<line x1="508.8" y1="358.5" x2="508.8" y2="361.0" stroke="#555" stroke-width="1.2"/>
<line x1="513.1" y1="358.5" x2="513.1" y2="361.0" stroke="#555" stroke-width="1.2"/>
<line x1="516.7" y1="358.5" x2="516.7" y2="361.0" stroke="#555" stroke-width="1.2"/>
<line x1="519.9" y1="358.5" x2="519.9" y2="361.0" stroke="#555" stroke-width="1.2"/>
<line x1="522.7" y1="358.5" x2="522.7" y2="361.0" stroke="#555" stroke-width="1.2"/>
<line x1="525.1" y1="358.5" x2="525.1" y2="363.5" stroke="#222" stroke-width="2"/>
<text x="529.6" y="377.0" font-size="9" fill="#a8a8a8" text-anchor="start" textLength="8" lengthAdjust="spacingAndGlyphs">10</text>
<text x="538.1" y="371.5" font-size="6.5" fill="#a8a8a8">3</text>
<line x1="541.5" y1="358.5" x2="541.5" y2="361.0" stroke="#555" stroke-width="1.2"/>
<line x1="551.0" y1="358.5" x2="551.0" y2="361.0" stroke="#555" stroke-width="1.2"/>
<line x1="557.8" y1="358.5" x2="557.8" y2="361.0" stroke="#555" stroke-width="1.2"/>
<line x1="563.1" y1="358.5" x2="563.1" y2="361.0" stroke="#555" stroke-width="1.2"/>
<line x1="567.4" y1="358.5" x2="567.4" y2="361.0" stroke="#555" stroke-width="1.2"/>
<line x1="571.0" y1="358.5" x2="571.0" y2="361.0" stroke="#555" stroke-width="1.2"/>
<line x1="574.1" y1="358.5" x2="574.1" y2="361.0" stroke="#555" stroke-width="1.2"/>
<line x1="576.9" y1="358.5" x2="576.9" y2="361.0" stroke="#555" stroke-width="1.2"/>
<line x1="579.4" y1="358.5" x2="579.4" y2="363.5" stroke="#222" stroke-width="2"/>
<text x="583.9" y="377.0" font-size="9" fill="#a8a8a8" text-anchor="start" textLength="8" lengthAdjust="spacingAndGlyphs">10</text>
<text x="592.4" y="371.5" font-size="6.5" fill="#a8a8a8">4</text>
<line x1="356.4" y1="356.7" x2="362.4" y2="356.7" stroke="#555" stroke-width="2.2"/>
<text x="353.4" y="358.7" font-size="6" fill="#a0a0a0" text-anchor="end">0</text>
<line x1="356.4" y1="317.0" x2="362.4" y2="317.0" stroke="#555" stroke-width="2.2"/>
<text x="353.4" y="319.0" font-size="6" fill="#a0a0a0" text-anchor="end">2.0</text>
<line x1="356.4" y1="277.0" x2="362.4" y2="277.0" stroke="#555" stroke-width="2.2"/>
<text x="353.4" y="279.0" font-size="6" fill="#a0a0a0" text-anchor="end">4.0</text>
<line x1="356.4" y1="237.4" x2="362.4" y2="237.4" stroke="#555" stroke-width="2.2"/>
<text x="353.4" y="239.4" font-size="6" fill="#a0a0a0" text-anchor="end">6.0</text>
<line x1="356.4" y1="198.0" x2="362.4" y2="198.0" stroke="#555" stroke-width="2.2"/>
<text x="353.4" y="200.0" font-size="6" fill="#a0a0a0" text-anchor="end">8.0</text>
<line x1="356.4" y1="155.8" x2="362.4" y2="155.8" stroke="#555" stroke-width="2.2"/>
<text x="353.4" y="157.8" font-size="6" fill="#a0a0a0" text-anchor="end">10.0</text>
<line x1="359.4" y1="356.7" x2="362.4" y2="356.7" stroke="#666" stroke-width="1.2"/>
<line x1="359.4" y1="346.8" x2="362.4" y2="346.8" stroke="#666" stroke-width="1.2"/>
<line x1="359.4" y1="336.8" x2="362.4" y2="336.8" stroke="#666" stroke-width="1.2"/>
<line x1="359.4" y1="326.9" x2="362.4" y2="326.9" stroke="#666" stroke-width="1.2"/>
<line x1="359.4" y1="317.0" x2="362.4" y2="317.0" stroke="#666" stroke-width="1.2"/>
<line x1="359.4" y1="307.1" x2="362.4" y2="307.1" stroke="#666" stroke-width="1.2"/>
<line x1="359.4" y1="297.1" x2="362.4" y2="297.1" stroke="#666" stroke-width="1.2"/>
<line x1="359.4" y1="287.2" x2="362.4" y2="287.2" stroke="#666" stroke-width="1.2"/>
<line x1="359.4" y1="277.3" x2="362.4" y2="277.3" stroke="#666" stroke-width="1.2"/>
<line x1="359.4" y1="267.4" x2="362.4" y2="267.4" stroke="#666" stroke-width="1.2"/>
<line x1="359.4" y1="257.4" x2="362.4" y2="257.4" stroke="#666" stroke-width="1.2"/>
<line x1="359.4" y1="247.5" x2="362.4" y2="247.5" stroke="#666" stroke-width="1.2"/>
<line x1="359.4" y1="237.6" x2="362.4" y2="237.6" stroke="#666" stroke-width="1.2"/>
<line x1="359.4" y1="227.7" x2="362.4" y2="227.7" stroke="#666" stroke-width="1.2"/>
<line x1="359.4" y1="217.7" x2="362.4" y2="217.7" stroke="#666" stroke-width="1.2"/>
<line x1="359.4" y1="207.8" x2="362.4" y2="207.8" stroke="#666" stroke-width="1.2"/>
<line x1="359.4" y1="197.9" x2="362.4" y2="197.9" stroke="#666" stroke-width="1.2"/>
<line x1="359.4" y1="188.0" x2="362.4" y2="188.0" stroke="#666" stroke-width="1.2"/>
<line x1="359.4" y1="178.0" x2="362.4" y2="178.0" stroke="#666" stroke-width="1.2"/>
<line x1="359.4" y1="168.1" x2="362.4" y2="168.1" stroke="#666" stroke-width="1.2"/>
<line x1="359.4" y1="158.2" x2="362.4" y2="158.2" stroke="#666" stroke-width="1.2"/>
<line x1="359.4" y1="148.3" x2="362.4" y2="148.3" stroke="#666" stroke-width="1.2"/>
<line x1="426.0" y1="247.2" x2="511.6" y2="247.2" stroke="#1a1a1a" stroke-width="2.4"/>
<line x1="428.0" y1="250.4" x2="509.6" y2="250.4" stroke="#f6f6f6" stroke-width="1.6" stroke-dasharray="6 3"/>
<line x1="426.0" y1="242.7" x2="426.0" y2="251.7" stroke="#1a1a1a" stroke-width="2.0"/>
<line x1="443.7" y1="244.7" x2="443.7" y2="249.7" stroke="#1a1a1a" stroke-width="2.0"/>
<line x1="459.3" y1="244.7" x2="459.3" y2="249.7" stroke="#1a1a1a" stroke-width="2.0"/>
<line x1="475.8" y1="244.7" x2="475.8" y2="249.7" stroke="#1a1a1a" stroke-width="2.0"/>
<line x1="492.3" y1="244.7" x2="492.3" y2="249.7" stroke="#1a1a1a" stroke-width="2.0"/>
<line x1="511.6" y1="242.7" x2="511.6" y2="251.7" stroke="#1a1a1a" stroke-width="2.0"/>
<text x="434.9" y="242.6" font-size="15.5" font-weight="bold" text-anchor="middle" fill="#111" stroke="#111" stroke-width="0.5">4</text>
<text x="451.5" y="242.6" font-size="15.5" font-weight="bold" text-anchor="middle" fill="#111" stroke="#111" stroke-width="0.5">3</text>
<text x="467.6" y="242.6" font-size="15.5" font-weight="bold" text-anchor="middle" fill="#111" stroke="#111" stroke-width="0.5">2</text>
<text x="484.1" y="242.6" font-size="15.5" font-weight="bold" text-anchor="middle" fill="#111" stroke="#111" stroke-width="0.5">1</text>
<text x="502.0" y="242.6" font-size="15.5" font-weight="bold" text-anchor="middle" fill="#111" stroke="#111" stroke-width="0.5">0</text>
<text x="365.7" y="170.5" font-size="20.4" font-weight="bold" text-anchor="start" fill="#111" textLength="60" lengthAdjust="spacingAndGlyphs" stroke="#111" stroke-width="0.6">%D: 75</text>
<text x="365.7" y="195.2" font-size="20.4" font-weight="bold" text-anchor="start" fill="#111" textLength="55" lengthAdjust="spacingAndGlyphs" stroke="#111" stroke-width="0.6">PI: 2.2</text>
<rect x="697.8" y="138.3" width="93.9" height="219.3" fill="#d3d3d5"/>
<line x1="632.1" y1="138.3" x2="855.0" y2="138.3" stroke="#a0a0a0" stroke-width="1.8"/>
<line x1="855.0" y1="138.3" x2="855.0" y2="357.6" stroke="#a0a0a0" stroke-width="1.4"/>
<path d="M690.3,357.6 L690.9,357.6 L691.5,357.5 L692.1,357.4 L692.7,357.3 L693.3,357.1 L693.9,356.7 L694.5,356.1 L695.1,355.1 L695.7,353.6 L696.3,351.3 L696.9,348.1 L697.5,343.7 L698.1,337.9 L698.7,330.4 L699.3,321.1 L699.9,310.0 L700.5,297.4 L701.1,283.6 L701.7,269.4 L702.3,255.4 L702.9,242.7 L703.5,232.1 L704.1,224.5 L704.7,220.5 L705.3,220.5 L705.9,224.5 L706.5,232.1 L707.1,242.7 L707.7,255.4 L708.3,269.4 L708.9,283.6 L709.5,297.4 L710.1,310.0 L710.7,321.1 L711.3,330.4 L711.9,337.9 L712.5,343.7 L713.1,348.1 L713.7,351.3 L714.3,353.6 L714.9,355.1 L715.5,356.1 L716.1,356.7 L716.7,357.1 L717.3,357.3 L717.9,357.4 L718.5,357.5 L719.1,357.6 L719.7,357.6" fill="none" stroke="#c48a80" stroke-width="2.0" opacity="0.9"/>
<path d="M700.3,357.6 L700.9,357.5 L701.5,357.5 L702.1,357.4 L702.7,357.3 L703.3,357.0 L703.9,356.5 L704.5,355.7 L705.1,354.5 L705.7,352.7 L706.3,350.0 L706.9,346.1 L707.5,340.7 L708.1,333.6 L708.7,324.4 L709.3,313.1 L709.9,299.6 L710.5,284.3 L711.1,267.5 L711.7,250.1 L712.3,233.1 L712.9,217.6 L713.5,204.7 L714.1,195.5 L714.7,190.6 L715.3,190.4 L715.9,193.3 L716.5,199.1 L717.1,207.3 L717.7,217.6 L718.3,229.5 L718.9,242.5 L719.5,255.9 L720.1,269.4 L720.7,282.5 L721.3,294.7 L721.9,305.9 L722.5,315.8 L723.1,324.4 L723.7,331.7 L724.3,337.8 L724.9,342.7 L725.5,346.6 L726.1,349.6 L726.7,351.9 L727.3,353.6 L727.9,354.8 L728.5,355.7 L729.1,356.4 L729.7,356.8 L730.3,357.1 L730.9,357.3 L731.5,357.4 L732.1,357.5 L732.7,357.5 L733.3,357.6 L733.9,357.6" fill="none" stroke="#56542c" stroke-width="2.0" opacity="0.9"/>
<path d="M719.5,357.6 L720.1,357.6 L720.7,357.6 L721.3,357.6 L721.9,357.5 L722.5,357.5 L723.1,357.4 L723.7,357.3 L724.3,357.1 L724.9,356.8 L725.5,356.3 L726.1,355.7 L726.7,354.8 L727.3,353.7 L727.9,352.2 L728.5,350.3 L729.1,347.9 L729.7,345.0 L730.3,341.7 L730.9,337.9 L731.5,333.7 L732.1,329.3 L732.7,324.9 L733.3,320.5 L733.9,316.6 L734.5,313.2 L735.1,310.7 L735.7,309.0 L736.3,308.5 L736.9,309.0 L737.5,310.7 L738.1,313.2 L738.7,316.6 L739.3,320.5 L739.9,324.9 L740.5,329.3 L741.1,333.7 L741.7,337.9 L742.3,341.7 L742.9,345.0 L743.5,347.9 L744.1,350.3 L744.7,352.2 L745.3,353.7 L745.9,354.8 L746.5,355.7 L747.1,356.3 L747.7,356.8 L748.3,357.1 L748.9,357.3 L749.5,357.4 L750.1,357.5 L750.7,357.5 L751.3,357.6 L751.9,357.6 L752.5,357.6 L753.1,357.6" fill="none" stroke="#6cc04e" stroke-width="2.0" opacity="0.9"/>
<path d="M740.2,357.6 L740.8,357.6 L741.4,357.6 L742.0,357.6 L742.6,357.6 L743.2,357.5 L743.8,357.5 L744.4,357.4 L745.0,357.3 L745.6,357.1 L746.2,356.8 L746.8,356.4 L747.4,355.9 L748.0,355.2 L748.6,354.2 L749.2,353.1 L749.8,351.6 L750.4,349.8 L751.0,347.7 L751.6,345.4 L752.2,342.8 L752.8,340.1 L753.4,337.3 L754.0,334.7 L754.6,332.2 L755.2,330.1 L755.8,328.5 L756.4,327.5 L757.0,327.2 L757.6,327.5 L758.2,328.5 L758.8,330.1 L759.4,332.2 L760.0,334.7 L760.6,337.3 L761.2,340.1 L761.8,342.8 L762.4,345.4 L763.0,347.7 L763.6,349.8 L764.2,351.6 L764.8,353.1 L765.4,354.2 L766.0,355.2 L766.6,355.9 L767.2,356.4 L767.8,356.8 L768.4,357.1 L769.0,357.3 L769.6,357.4 L770.2,357.5 L770.8,357.5 L771.4,357.6 L772.0,357.6 L772.6,357.6 L773.2,357.6 L773.8,357.6" fill="none" stroke="#c48a80" stroke-width="2.0" opacity="0.9"/>
<path d="M755.5,357.6 L756.1,357.6 L756.7,357.6 L757.3,357.6 L757.9,357.6 L758.5,357.6 L759.1,357.6 L759.7,357.6 L760.3,357.6 L760.9,357.6 L761.5,357.6 L762.1,357.5 L762.7,357.5 L763.3,357.5 L763.9,357.4 L764.5,357.4 L765.1,357.3 L765.7,357.3 L766.3,357.2 L766.9,357.1 L767.5,356.9 L768.1,356.8 L768.7,356.6 L769.3,356.3 L769.9,356.1 L770.5,355.8 L771.1,355.5 L771.7,355.1 L772.3,354.7 L772.9,354.3 L773.5,353.9 L774.1,353.4 L774.7,353.0 L775.3,352.5 L775.9,352.1 L776.5,351.7 L777.1,351.3 L777.7,350.9 L778.3,350.6 L778.9,350.3 L779.5,350.2 L780.1,350.0 L780.7,350.0 L781.3,350.0 L781.9,350.2 L782.5,350.3 L783.1,350.6 L783.7,350.9 L784.3,351.3 L784.9,351.7 L785.5,352.1 L786.1,352.5 L786.7,353.0 L787.3,353.4 L787.9,353.9 L788.5,354.3 L789.1,354.7 L789.7,355.1 L790.3,355.5 L790.9,355.8 L791.5,356.1 L792.1,356.3 L792.7,356.6 L793.3,356.8 L793.9,356.9 L794.5,357.1 L795.1,357.2 L795.7,357.3 L796.3,357.3 L796.9,357.4 L797.5,357.4 L798.1,357.5 L798.7,357.5 L799.3,357.5 L799.9,357.6 L800.5,357.6 L801.1,357.6 L801.7,357.6 L802.3,357.6 L802.9,357.6 L803.5,357.6 L804.1,357.6 L804.7,357.6 L805.3,357.6 L805.9,357.6" fill="none" stroke="#45acd0" stroke-width="2.0" opacity="0.9"/>
<path d="M634.0,357.8 C640.8,357.8 666.9,358.3 675.0,357.8 C683.1,357.3 680.4,357.4 682.9,354.9 C685.4,352.4 687.8,348.3 689.8,343.0 C691.8,337.7 693.5,332.4 694.8,323.3 C696.1,314.2 696.9,299.4 697.7,288.7 C698.5,278.0 698.9,268.9 699.7,259.0 C700.5,249.1 701.7,236.2 702.7,229.4 C703.7,222.7 704.6,219.3 705.6,218.5 C706.6,217.7 707.6,224.7 708.6,224.5 C709.6,224.3 710.6,223.3 711.6,217.5 C712.6,211.7 713.5,192.0 714.5,189.9 C715.5,187.8 716.5,196.5 717.5,204.7 C718.5,212.9 719.5,227.8 720.5,239.3 C721.5,250.8 722.2,264.8 723.4,273.9 C724.5,282.9 726.1,286.5 727.4,293.6 C728.7,300.7 730.0,313.9 731.3,316.4 C732.6,318.9 734.0,309.5 735.3,308.5 C736.6,307.5 737.7,307.9 739.2,310.4 C740.7,312.9 742.4,320.5 744.2,323.3 C746.0,326.1 748.0,326.4 750.1,327.2 C752.2,328.0 755.0,326.7 757.0,328.2 C759.0,329.7 760.4,332.5 762.0,336.1 C763.6,339.7 765.3,347.2 766.9,350.0 C768.5,352.8 769.7,352.9 771.8,352.9 C773.9,352.9 777.1,350.0 779.7,350.0 C782.3,350.0 785.3,351.6 787.6,352.9 C789.9,354.2 791.9,357.3 793.6,357.9 C795.3,358.5 796.4,356.8 798.0,356.5 C799.6,356.2 801.8,355.7 803.5,355.9 C805.2,356.1 806.4,357.2 808.0,357.5 C809.6,357.8 805.8,357.8 813.3,357.9 C820.8,357.9 846.4,357.8 853.0,357.8" fill="none" stroke="#e4566a" stroke-width="1.4" opacity="0.8"/>
<line x1="632.1" y1="137.3" x2="632.1" y2="358.6" stroke="#6a6a6a" stroke-width="1.5"/>
<line x1="631.1" y1="357.6" x2="856.0" y2="357.6" stroke="#2a2a2a" stroke-width="2.2"/>
<line x1="632.1" y1="357.6" x2="632.1" y2="362.6" stroke="#222" stroke-width="2"/>
<text x="636.6" y="376.1" font-size="9" fill="#a8a8a8" text-anchor="start" textLength="8" lengthAdjust="spacingAndGlyphs">10</text>
<text x="645.1" y="370.6" font-size="6.5" fill="#a8a8a8">0</text>
<line x1="648.9" y1="357.6" x2="648.9" y2="360.1" stroke="#555" stroke-width="1.2"/>
<line x1="658.7" y1="357.6" x2="658.7" y2="360.1" stroke="#555" stroke-width="1.2"/>
<line x1="665.6" y1="357.6" x2="665.6" y2="360.1" stroke="#555" stroke-width="1.2"/>
<line x1="671.1" y1="357.6" x2="671.1" y2="360.1" stroke="#555" stroke-width="1.2"/>
<line x1="675.5" y1="357.6" x2="675.5" y2="360.1" stroke="#555" stroke-width="1.2"/>
<line x1="679.2" y1="357.6" x2="679.2" y2="360.1" stroke="#555" stroke-width="1.2"/>
<line x1="682.4" y1="357.6" x2="682.4" y2="360.1" stroke="#555" stroke-width="1.2"/>
<line x1="685.3" y1="357.6" x2="685.3" y2="360.1" stroke="#555" stroke-width="1.2"/>
<line x1="687.8" y1="357.6" x2="687.8" y2="362.6" stroke="#222" stroke-width="2"/>
<text x="692.3" y="376.1" font-size="9" fill="#a8a8a8" text-anchor="start" textLength="8" lengthAdjust="spacingAndGlyphs">10</text>
<text x="700.8" y="370.6" font-size="6.5" fill="#a8a8a8">1</text>
<line x1="704.6" y1="357.6" x2="704.6" y2="360.1" stroke="#555" stroke-width="1.2"/>
<line x1="714.4" y1="357.6" x2="714.4" y2="360.1" stroke="#555" stroke-width="1.2"/>
<line x1="721.4" y1="357.6" x2="721.4" y2="360.1" stroke="#555" stroke-width="1.2"/>
<line x1="726.8" y1="357.6" x2="726.8" y2="360.1" stroke="#555" stroke-width="1.2"/>
<line x1="731.2" y1="357.6" x2="731.2" y2="360.1" stroke="#555" stroke-width="1.2"/>
<line x1="734.9" y1="357.6" x2="734.9" y2="360.1" stroke="#555" stroke-width="1.2"/>
<line x1="738.1" y1="357.6" x2="738.1" y2="360.1" stroke="#555" stroke-width="1.2"/>
<line x1="741.0" y1="357.6" x2="741.0" y2="360.1" stroke="#555" stroke-width="1.2"/>
<line x1="743.5" y1="357.6" x2="743.5" y2="362.6" stroke="#222" stroke-width="2"/>
<text x="748.0" y="376.1" font-size="9" fill="#a8a8a8" text-anchor="start" textLength="8" lengthAdjust="spacingAndGlyphs">10</text>
<text x="756.5" y="370.6" font-size="6.5" fill="#a8a8a8">2</text>
<line x1="760.3" y1="357.6" x2="760.3" y2="360.1" stroke="#555" stroke-width="1.2"/>
<line x1="770.1" y1="357.6" x2="770.1" y2="360.1" stroke="#555" stroke-width="1.2"/>
<line x1="777.1" y1="357.6" x2="777.1" y2="360.1" stroke="#555" stroke-width="1.2"/>
<line x1="782.5" y1="357.6" x2="782.5" y2="360.1" stroke="#555" stroke-width="1.2"/>
<line x1="786.9" y1="357.6" x2="786.9" y2="360.1" stroke="#555" stroke-width="1.2"/>
<line x1="790.6" y1="357.6" x2="790.6" y2="360.1" stroke="#555" stroke-width="1.2"/>
<line x1="793.9" y1="357.6" x2="793.9" y2="360.1" stroke="#555" stroke-width="1.2"/>
<line x1="796.7" y1="357.6" x2="796.7" y2="360.1" stroke="#555" stroke-width="1.2"/>
<line x1="799.3" y1="357.6" x2="799.3" y2="362.6" stroke="#222" stroke-width="2"/>
<text x="803.8" y="376.1" font-size="9" fill="#a8a8a8" text-anchor="start" textLength="8" lengthAdjust="spacingAndGlyphs">10</text>
<text x="812.3" y="370.6" font-size="6.5" fill="#a8a8a8">3</text>
<line x1="816.0" y1="357.6" x2="816.0" y2="360.1" stroke="#555" stroke-width="1.2"/>
<line x1="825.9" y1="357.6" x2="825.9" y2="360.1" stroke="#555" stroke-width="1.2"/>
<line x1="832.8" y1="357.6" x2="832.8" y2="360.1" stroke="#555" stroke-width="1.2"/>
<line x1="838.2" y1="357.6" x2="838.2" y2="360.1" stroke="#555" stroke-width="1.2"/>
<line x1="842.6" y1="357.6" x2="842.6" y2="360.1" stroke="#555" stroke-width="1.2"/>
<line x1="846.4" y1="357.6" x2="846.4" y2="360.1" stroke="#555" stroke-width="1.2"/>
<line x1="849.6" y1="357.6" x2="849.6" y2="360.1" stroke="#555" stroke-width="1.2"/>
<line x1="852.5" y1="357.6" x2="852.5" y2="360.1" stroke="#555" stroke-width="1.2"/>
<line x1="855.0" y1="357.6" x2="855.0" y2="362.6" stroke="#222" stroke-width="2"/>
<text x="859.5" y="376.1" font-size="9" fill="#a8a8a8" text-anchor="start" textLength="8" lengthAdjust="spacingAndGlyphs">10</text>
<text x="868.0" y="370.6" font-size="6.5" fill="#a8a8a8">4</text>
<line x1="626.1" y1="357.6" x2="632.1" y2="357.6" stroke="#555" stroke-width="2.2"/>
<text x="623.1" y="359.6" font-size="6" fill="#a0a0a0" text-anchor="end">0</text>
<line x1="626.1" y1="303.0" x2="632.1" y2="303.0" stroke="#555" stroke-width="2.2"/>
<text x="623.1" y="305.0" font-size="6" fill="#a0a0a0" text-anchor="end">3.0</text>
<line x1="626.1" y1="248.0" x2="632.1" y2="248.0" stroke="#555" stroke-width="2.2"/>
<text x="623.1" y="250.0" font-size="6" fill="#a0a0a0" text-anchor="end">6.0</text>
<line x1="626.1" y1="193.0" x2="632.1" y2="193.0" stroke="#555" stroke-width="2.2"/>
<text x="623.1" y="195.0" font-size="6" fill="#a0a0a0" text-anchor="end">9.0</text>
<line x1="626.1" y1="139.0" x2="632.1" y2="139.0" stroke="#555" stroke-width="2.2"/>
<text x="623.1" y="141.0" font-size="6" fill="#a0a0a0" text-anchor="end">12</text>
<line x1="629.1" y1="357.6" x2="632.1" y2="357.6" stroke="#666" stroke-width="1.2"/>
<line x1="629.1" y1="344.0" x2="632.1" y2="344.0" stroke="#666" stroke-width="1.2"/>
<line x1="629.1" y1="330.3" x2="632.1" y2="330.3" stroke="#666" stroke-width="1.2"/>
<line x1="629.1" y1="316.7" x2="632.1" y2="316.7" stroke="#666" stroke-width="1.2"/>
<line x1="629.1" y1="303.0" x2="632.1" y2="303.0" stroke="#666" stroke-width="1.2"/>
<line x1="629.1" y1="289.4" x2="632.1" y2="289.4" stroke="#666" stroke-width="1.2"/>
<line x1="629.1" y1="275.7" x2="632.1" y2="275.7" stroke="#666" stroke-width="1.2"/>
<line x1="629.1" y1="262.1" x2="632.1" y2="262.1" stroke="#666" stroke-width="1.2"/>
<line x1="629.1" y1="248.4" x2="632.1" y2="248.4" stroke="#666" stroke-width="1.2"/>
<line x1="629.1" y1="234.8" x2="632.1" y2="234.8" stroke="#666" stroke-width="1.2"/>
<line x1="629.1" y1="221.1" x2="632.1" y2="221.1" stroke="#666" stroke-width="1.2"/>
<line x1="629.1" y1="207.5" x2="632.1" y2="207.5" stroke="#666" stroke-width="1.2"/>
<line x1="629.1" y1="193.8" x2="632.1" y2="193.8" stroke="#666" stroke-width="1.2"/>
<line x1="629.1" y1="180.2" x2="632.1" y2="180.2" stroke="#666" stroke-width="1.2"/>
<line x1="629.1" y1="166.5" x2="632.1" y2="166.5" stroke="#666" stroke-width="1.2"/>
<line x1="629.1" y1="152.9" x2="632.1" y2="152.9" stroke="#666" stroke-width="1.2"/>
<line x1="697.0" y1="247.2" x2="792.7" y2="247.2" stroke="#1a1a1a" stroke-width="2.4"/>
<line x1="699.0" y1="250.4" x2="790.7" y2="250.4" stroke="#f6f6f6" stroke-width="1.6" stroke-dasharray="6 3"/>
<line x1="697.0" y1="242.7" x2="697.0" y2="251.7" stroke="#1a1a1a" stroke-width="2.0"/>
<line x1="710.0" y1="244.7" x2="710.0" y2="249.7" stroke="#1a1a1a" stroke-width="2.0"/>
<line x1="725.7" y1="244.7" x2="725.7" y2="249.7" stroke="#1a1a1a" stroke-width="2.0"/>
<line x1="745.9" y1="244.7" x2="745.9" y2="249.7" stroke="#1a1a1a" stroke-width="2.0"/>
<line x1="768.4" y1="244.7" x2="768.4" y2="249.7" stroke="#1a1a1a" stroke-width="2.0"/>
<line x1="792.7" y1="242.7" x2="792.7" y2="251.7" stroke="#1a1a1a" stroke-width="2.0"/>
<text x="703.5" y="242.6" font-size="15.5" font-weight="bold" text-anchor="middle" fill="#111" stroke="#111" stroke-width="0.5">4</text>
<text x="717.9" y="242.6" font-size="15.5" font-weight="bold" text-anchor="middle" fill="#111" stroke="#111" stroke-width="0.5">3</text>
<text x="735.8" y="242.6" font-size="15.5" font-weight="bold" text-anchor="middle" fill="#111" stroke="#111" stroke-width="0.5">2</text>
<text x="757.1" y="242.6" font-size="15.5" font-weight="bold" text-anchor="middle" fill="#111" stroke="#111" stroke-width="0.5">1</text>
<text x="780.5" y="242.6" font-size="15.5" font-weight="bold" text-anchor="middle" fill="#111" stroke="#111" stroke-width="0.5">0</text>
<text x="635.2" y="173.2" font-size="20.4" font-weight="bold" text-anchor="start" fill="#111" textLength="60" lengthAdjust="spacingAndGlyphs" stroke="#111" stroke-width="0.6">%D: 64</text>
<text x="635.2" y="197.0" font-size="20.4" font-weight="bold" text-anchor="start" fill="#111" textLength="54" lengthAdjust="spacingAndGlyphs" stroke="#111" stroke-width="0.6">PI: 2.5</text>
<rect x="973.6" y="138.3" width="103.6" height="221.1" fill="#d3d3d5"/>
<line x1="910.3" y1="138.3" x2="1136.0" y2="138.3" stroke="#a0a0a0" stroke-width="1.8"/>
<line x1="1136.0" y1="138.3" x2="1136.0" y2="359.4" stroke="#a0a0a0" stroke-width="1.4"/>
<path d="M966.3,359.4 L966.9,359.4 L967.5,359.4 L968.1,359.3 L968.7,359.2 L969.3,359.1 L969.9,358.9 L970.5,358.5 L971.1,358.0 L971.7,357.1 L972.3,355.8 L972.9,354.0 L973.5,351.4 L974.1,348.1 L974.7,343.8 L975.3,338.6 L975.9,332.4 L976.5,325.5 L977.1,318.2 L977.7,310.8 L978.3,303.8 L978.9,297.8 L979.5,293.2 L980.1,290.5 L980.7,289.8 L981.3,291.3 L981.9,294.9 L982.5,300.1 L983.1,306.5 L983.7,313.7 L984.3,321.1 L984.9,328.4 L985.5,335.0 L986.1,340.8 L986.7,345.6 L987.3,349.5 L987.9,352.5 L988.5,354.8 L989.1,356.4 L989.7,357.5 L990.3,358.2 L990.9,358.7 L991.5,359.0 L992.1,359.2 L992.7,359.3 L993.3,359.3 L993.9,359.4 L994.5,359.4" fill="none" stroke="#2f9488" stroke-width="2.0" opacity="0.9"/>
<path d="M972.2,359.4 L972.8,359.4 L973.4,359.4 L974.0,359.3 L974.6,359.2 L975.2,358.9 L975.8,358.5 L976.4,357.8 L977.0,356.6 L977.6,354.8 L978.2,352.1 L978.8,348.3 L979.4,343.3 L980.0,337.1 L980.6,329.9 L981.2,322.1 L981.8,314.3 L982.4,307.4 L983.0,302.2 L983.6,299.2 L984.2,298.9 L984.8,301.4 L985.4,306.2 L986.0,312.8 L986.6,320.5 L987.2,328.3 L987.8,335.7 L988.4,342.1 L989.0,347.4 L989.6,351.4 L990.2,354.3 L990.8,356.3 L991.4,357.6 L992.0,358.4 L992.6,358.9 L993.2,359.1 L993.8,359.3 L994.4,359.3 L995.0,359.4 L995.6,359.4" fill="none" stroke="#4a72c0" stroke-width="2.0" opacity="0.9"/>
<path d="M978.1,359.4 L978.7,359.4 L979.3,359.3 L979.9,359.2 L980.5,359.0 L981.1,358.7 L981.7,358.2 L982.3,357.3 L982.9,355.9 L983.5,353.8 L984.1,350.6 L984.7,346.0 L985.3,339.7 L985.9,331.5 L986.5,321.1 L987.1,308.5 L987.7,293.9 L988.3,278.0 L988.9,261.4 L989.5,245.3 L990.1,230.9 L990.7,219.4 L991.3,211.8 L991.9,208.8 L992.5,210.8 L993.1,217.5 L993.7,228.3 L994.3,242.3 L994.9,258.1 L995.5,274.7 L996.1,290.8 L996.7,305.7 L997.3,318.7 L997.9,329.6 L998.5,338.3 L999.1,344.9 L999.7,349.8 L1000.3,353.2 L1000.9,355.6 L1001.5,357.1 L1002.1,358.1 L1002.7,358.6 L1003.3,359.0 L1003.9,359.2 L1004.5,359.3 L1005.1,359.3 L1005.7,359.4" fill="none" stroke="#a03cb0" stroke-width="2.0" opacity="0.9"/>
<path d="M982.5,359.4 L983.1,359.4 L983.7,359.4 L984.3,359.3 L984.9,359.3 L985.5,359.2 L986.1,359.1 L986.7,358.9 L987.3,358.7 L987.9,358.3 L988.5,357.8 L989.1,357.0 L989.7,356.0 L990.3,354.6 L990.9,352.8 L991.5,350.5 L992.1,347.5 L992.7,343.9 L993.3,339.5 L993.9,334.4 L994.5,328.4 L995.1,321.7 L995.7,314.4 L996.3,306.6 L996.9,298.5 L997.5,290.4 L998.1,282.7 L998.7,275.5 L999.3,269.4 L999.9,264.4 L1000.5,261.0 L1001.1,259.2 L1001.7,259.1 L1002.3,260.3 L1002.9,262.7 L1003.5,266.1 L1004.1,270.4 L1004.7,275.5 L1005.3,281.3 L1005.9,287.6 L1006.5,294.1 L1007.1,300.7 L1007.7,307.3 L1008.3,313.7 L1008.9,319.8 L1009.5,325.5 L1010.1,330.7 L1010.7,335.4 L1011.3,339.5 L1011.9,343.2 L1012.5,346.3 L1013.1,349.0 L1013.7,351.2 L1014.3,353.0 L1014.9,354.5 L1015.5,355.6 L1016.1,356.6 L1016.7,357.3 L1017.3,357.9 L1017.9,358.3 L1018.5,358.6 L1019.1,358.8 L1019.7,359.0 L1020.3,359.1 L1020.9,359.2 L1021.5,359.3 L1022.1,359.3 L1022.7,359.3 L1023.3,359.4 L1023.9,359.4 L1024.5,359.4" fill="none" stroke="#c48a80" stroke-width="2.0" opacity="0.9"/>
<path d="M1004.7,359.4 L1005.3,359.4 L1005.9,359.4 L1006.5,359.4 L1007.1,359.3 L1007.7,359.3 L1008.3,359.2 L1008.9,359.1 L1009.5,359.0 L1010.1,358.7 L1010.7,358.4 L1011.3,357.9 L1011.9,357.2 L1012.5,356.2 L1013.1,355.0 L1013.7,353.4 L1014.3,351.5 L1014.9,349.3 L1015.5,346.7 L1016.1,343.8 L1016.7,340.8 L1017.3,337.8 L1017.9,334.8 L1018.5,332.2 L1019.1,330.0 L1019.7,328.4 L1020.3,327.5 L1020.9,327.5 L1021.5,328.2 L1022.1,329.6 L1022.7,331.7 L1023.3,334.3 L1023.9,337.2 L1024.5,340.2 L1025.1,343.2 L1025.7,346.1 L1026.3,348.8 L1026.9,351.1 L1027.5,353.1 L1028.1,354.7 L1028.7,356.0 L1029.3,357.0 L1029.9,357.7 L1030.5,358.3 L1031.1,358.7 L1031.7,358.9 L1032.3,359.1 L1032.9,359.2 L1033.5,359.3 L1034.1,359.3 L1034.7,359.4 L1035.3,359.4 L1035.9,359.4 L1036.5,359.4" fill="none" stroke="#56542c" stroke-width="2.0" opacity="0.9"/>
<path d="M1015.2,359.4 L1015.8,359.4 L1016.4,359.4 L1017.0,359.4 L1017.6,359.4 L1018.2,359.4 L1018.8,359.3 L1019.4,359.3 L1020.0,359.2 L1020.6,359.1 L1021.2,359.0 L1021.8,358.8 L1022.4,358.5 L1023.0,358.1 L1023.6,357.6 L1024.2,357.0 L1024.8,356.2 L1025.4,355.2 L1026.0,354.1 L1026.6,352.9 L1027.2,351.5 L1027.8,350.1 L1028.4,348.6 L1029.0,347.2 L1029.6,345.9 L1030.2,344.8 L1030.8,343.9 L1031.4,343.4 L1032.0,343.2 L1032.6,343.4 L1033.2,343.9 L1033.8,344.8 L1034.4,345.9 L1035.0,347.2 L1035.6,348.6 L1036.2,350.1 L1036.8,351.5 L1037.4,352.9 L1038.0,354.1 L1038.6,355.2 L1039.2,356.2 L1039.8,357.0 L1040.4,357.6 L1041.0,358.1 L1041.6,358.5 L1042.2,358.8 L1042.8,359.0 L1043.4,359.1 L1044.0,359.2 L1044.6,359.3 L1045.2,359.3 L1045.8,359.4 L1046.4,359.4 L1047.0,359.4 L1047.6,359.4 L1048.2,359.4 L1048.8,359.4" fill="none" stroke="#6cc04e" stroke-width="2.0" opacity="0.9"/>
<path d="M1027.1,359.4 L1027.7,359.4 L1028.3,359.4 L1028.9,359.4 L1029.5,359.4 L1030.1,359.4 L1030.7,359.3 L1031.3,359.3 L1031.9,359.2 L1032.5,359.1 L1033.1,359.0 L1033.7,358.8 L1034.3,358.5 L1034.9,358.2 L1035.5,357.7 L1036.1,357.1 L1036.7,356.4 L1037.3,355.5 L1037.9,354.5 L1038.5,353.3 L1039.1,352.0 L1039.7,350.6 L1040.3,349.3 L1040.9,347.9 L1041.5,346.7 L1042.1,345.7 L1042.7,344.9 L1043.3,344.4 L1043.9,344.2 L1044.5,344.4 L1045.1,344.9 L1045.7,345.7 L1046.3,346.7 L1046.9,347.9 L1047.5,349.3 L1048.1,350.6 L1048.7,352.0 L1049.3,353.3 L1049.9,354.5 L1050.5,355.5 L1051.1,356.4 L1051.7,357.1 L1052.3,357.7 L1052.9,358.2 L1053.5,358.5 L1054.1,358.8 L1054.7,359.0 L1055.3,359.1 L1055.9,359.2 L1056.5,359.3 L1057.1,359.3 L1057.7,359.4 L1058.3,359.4 L1058.9,359.4 L1059.5,359.4 L1060.1,359.4 L1060.7,359.4" fill="none" stroke="#a8d05a" stroke-width="2.0" opacity="0.9"/>
<path d="M1052.1,359.4 L1052.7,359.4 L1053.3,359.4 L1053.9,359.4 L1054.5,359.3 L1055.1,359.3 L1055.7,359.2 L1056.3,359.1 L1056.9,358.9 L1057.5,358.7 L1058.1,358.3 L1058.7,357.8 L1059.3,357.1 L1059.9,356.2 L1060.5,355.0 L1061.1,353.4 L1061.7,351.5 L1062.3,349.1 L1062.9,346.2 L1063.5,342.8 L1064.1,338.9 L1064.7,334.5 L1065.3,329.9 L1065.9,324.9 L1066.5,319.9 L1067.1,315.0 L1067.7,310.4 L1068.3,306.3 L1068.9,303.0 L1069.5,300.5 L1070.1,299.1 L1070.7,298.7 L1071.3,299.5 L1071.9,301.4 L1072.5,304.2 L1073.1,307.9 L1073.7,312.2 L1074.3,316.9 L1074.9,321.9 L1075.5,326.9 L1076.1,331.8 L1076.7,336.3 L1077.3,340.5 L1077.9,344.2 L1078.5,347.4 L1079.1,350.1 L1079.7,352.3 L1080.3,354.1 L1080.9,355.5 L1081.5,356.6 L1082.1,357.4 L1082.7,358.0 L1083.3,358.5 L1083.9,358.8 L1084.5,359.0 L1085.1,359.1 L1085.7,359.2 L1086.3,359.3 L1086.9,359.3 L1087.5,359.4 L1088.1,359.4 L1088.7,359.4" fill="none" stroke="#3f8f9c" stroke-width="2.0" opacity="0.9"/>
<path d="M1050.0,359.4 L1050.6,359.4 L1051.2,359.4 L1051.8,359.4 L1052.4,359.3 L1053.0,359.3 L1053.6,359.3 L1054.2,359.2 L1054.8,359.1 L1055.4,359.0 L1056.0,358.8 L1056.6,358.5 L1057.2,358.1 L1057.8,357.6 L1058.4,357.0 L1059.0,356.2 L1059.6,355.1 L1060.2,353.8 L1060.8,352.2 L1061.4,350.3 L1062.0,348.0 L1062.6,345.4 L1063.2,342.4 L1063.8,339.0 L1064.4,335.4 L1065.0,331.5 L1065.6,327.4 L1066.2,323.2 L1066.8,319.1 L1067.4,315.1 L1068.0,311.5 L1068.6,308.2 L1069.2,305.6 L1069.8,303.6 L1070.4,302.4 L1071.0,302.0 L1071.6,302.4 L1072.2,303.6 L1072.8,305.6 L1073.4,308.2 L1074.0,311.5 L1074.6,315.1 L1075.2,319.1 L1075.8,323.2 L1076.4,327.4 L1077.0,331.5 L1077.6,335.4 L1078.2,339.0 L1078.8,342.4 L1079.4,345.4 L1080.0,348.0 L1080.6,350.3 L1081.2,352.2 L1081.8,353.8 L1082.4,355.1 L1083.0,356.2 L1083.6,357.0 L1084.2,357.6 L1084.8,358.1 L1085.4,358.5 L1086.0,358.8 L1086.6,359.0 L1087.2,359.1 L1087.8,359.2 L1088.4,359.3 L1089.0,359.3 L1089.6,359.3 L1090.2,359.4 L1090.8,359.4 L1091.4,359.4 L1092.0,359.4" fill="none" stroke="#45acd0" stroke-width="2.0" opacity="0.9"/>
<path d="M912.0,359.5 C918.3,359.5 942.7,359.9 950.0,359.5 C957.3,359.1 953.4,358.2 955.9,357.0 C958.4,355.8 962.2,354.8 964.8,352.0 C967.4,349.2 969.7,345.8 971.7,340.2 C973.7,334.6 975.4,327.1 976.7,318.5 C978.0,309.9 978.6,300.3 979.6,288.8 C980.6,277.3 981.4,260.8 982.6,249.3 C983.8,237.8 985.1,226.7 986.6,219.6 C988.1,212.5 989.9,206.0 991.5,206.8 C993.1,207.6 995.1,217.8 996.4,224.6 C997.7,231.3 998.4,241.5 999.4,247.3 C1000.4,253.1 1001.4,254.8 1002.4,259.2 C1003.4,263.6 1004.1,267.4 1005.3,274.0 C1006.4,280.6 1008.0,292.1 1009.3,298.7 C1010.6,305.3 1011.7,309.4 1013.2,313.5 C1014.7,317.6 1016.9,321.1 1018.2,323.4 C1019.5,325.7 1020.0,325.3 1021.1,327.4 C1022.2,329.5 1023.8,333.1 1025.1,336.2 C1026.4,339.3 1027.5,344.6 1029.0,346.1 C1030.5,347.6 1031.8,345.9 1034.0,345.1 C1036.2,344.3 1039.8,341.7 1041.9,341.2 C1044.0,340.7 1044.8,341.2 1046.8,342.2 C1048.8,343.2 1052.0,347.8 1053.8,347.1 C1055.6,346.4 1056.4,343.8 1057.7,338.2 C1059.0,332.6 1060.4,319.6 1061.7,313.5 C1063.0,307.4 1064.1,304.2 1065.6,301.7 C1067.1,299.2 1068.9,298.0 1070.6,298.7 C1072.2,299.4 1074.2,300.7 1075.5,305.6 C1076.8,310.5 1077.3,321.6 1078.5,328.3 C1079.7,335.1 1080.8,341.3 1082.4,346.1 C1084.0,350.9 1086.2,354.8 1088.3,357.0 C1090.4,359.2 1089.7,359.0 1095.0,359.4 C1100.3,359.8 1114.5,360.0 1120.0,359.4 C1125.5,358.8 1125.7,356.7 1128.0,356.0 C1130.3,355.3 1133.0,355.2 1134.0,355.0" fill="none" stroke="#e4566a" stroke-width="1.4" opacity="0.8"/>
<line x1="910.3" y1="137.3" x2="910.3" y2="360.4" stroke="#6a6a6a" stroke-width="1.5"/>
<line x1="909.3" y1="359.4" x2="1137.0" y2="359.4" stroke="#2a2a2a" stroke-width="2.2"/>
<line x1="910.3" y1="359.4" x2="910.3" y2="364.4" stroke="#222" stroke-width="2"/>
<text x="914.8" y="377.9" font-size="9" fill="#a8a8a8" text-anchor="start" textLength="8" lengthAdjust="spacingAndGlyphs">10</text>
<text x="923.3" y="372.4" font-size="6.5" fill="#a8a8a8">0</text>
<line x1="927.3" y1="359.4" x2="927.3" y2="361.9" stroke="#555" stroke-width="1.2"/>
<line x1="937.2" y1="359.4" x2="937.2" y2="361.9" stroke="#555" stroke-width="1.2"/>
<line x1="944.3" y1="359.4" x2="944.3" y2="361.9" stroke="#555" stroke-width="1.2"/>
<line x1="949.7" y1="359.4" x2="949.7" y2="361.9" stroke="#555" stroke-width="1.2"/>
<line x1="954.2" y1="359.4" x2="954.2" y2="361.9" stroke="#555" stroke-width="1.2"/>
<line x1="958.0" y1="359.4" x2="958.0" y2="361.9" stroke="#555" stroke-width="1.2"/>
<line x1="961.3" y1="359.4" x2="961.3" y2="361.9" stroke="#555" stroke-width="1.2"/>
<line x1="964.1" y1="359.4" x2="964.1" y2="361.9" stroke="#555" stroke-width="1.2"/>
<line x1="966.7" y1="359.4" x2="966.7" y2="364.4" stroke="#222" stroke-width="2"/>
<text x="971.2" y="377.9" font-size="9" fill="#a8a8a8" text-anchor="start" textLength="8" lengthAdjust="spacingAndGlyphs">10</text>
<text x="979.7" y="372.4" font-size="6.5" fill="#a8a8a8">1</text>
<line x1="983.7" y1="359.4" x2="983.7" y2="361.9" stroke="#555" stroke-width="1.2"/>
<line x1="993.6" y1="359.4" x2="993.6" y2="361.9" stroke="#555" stroke-width="1.2"/>
<line x1="1000.7" y1="359.4" x2="1000.7" y2="361.9" stroke="#555" stroke-width="1.2"/>
<line x1="1006.2" y1="359.4" x2="1006.2" y2="361.9" stroke="#555" stroke-width="1.2"/>
<line x1="1010.6" y1="359.4" x2="1010.6" y2="361.9" stroke="#555" stroke-width="1.2"/>
<line x1="1014.4" y1="359.4" x2="1014.4" y2="361.9" stroke="#555" stroke-width="1.2"/>
<line x1="1017.7" y1="359.4" x2="1017.7" y2="361.9" stroke="#555" stroke-width="1.2"/>
<line x1="1020.6" y1="359.4" x2="1020.6" y2="361.9" stroke="#555" stroke-width="1.2"/>
<line x1="1023.1" y1="359.4" x2="1023.1" y2="364.4" stroke="#222" stroke-width="2"/>
<text x="1027.7" y="377.9" font-size="9" fill="#a8a8a8" text-anchor="start" textLength="8" lengthAdjust="spacingAndGlyphs">10</text>
<text x="1036.2" y="372.4" font-size="6.5" fill="#a8a8a8">2</text>
<line x1="1040.1" y1="359.4" x2="1040.1" y2="361.9" stroke="#555" stroke-width="1.2"/>
<line x1="1050.1" y1="359.4" x2="1050.1" y2="361.9" stroke="#555" stroke-width="1.2"/>
<line x1="1057.1" y1="359.4" x2="1057.1" y2="361.9" stroke="#555" stroke-width="1.2"/>
<line x1="1062.6" y1="359.4" x2="1062.6" y2="361.9" stroke="#555" stroke-width="1.2"/>
<line x1="1067.1" y1="359.4" x2="1067.1" y2="361.9" stroke="#555" stroke-width="1.2"/>
<line x1="1070.8" y1="359.4" x2="1070.8" y2="361.9" stroke="#555" stroke-width="1.2"/>
<line x1="1074.1" y1="359.4" x2="1074.1" y2="361.9" stroke="#555" stroke-width="1.2"/>
<line x1="1077.0" y1="359.4" x2="1077.0" y2="361.9" stroke="#555" stroke-width="1.2"/>
<line x1="1079.6" y1="359.4" x2="1079.6" y2="364.4" stroke="#222" stroke-width="2"/>
<text x="1084.1" y="377.9" font-size="9" fill="#a8a8a8" text-anchor="start" textLength="8" lengthAdjust="spacingAndGlyphs">10</text>
<text x="1092.6" y="372.4" font-size="6.5" fill="#a8a8a8">3</text>
<line x1="1096.6" y1="359.4" x2="1096.6" y2="361.9" stroke="#555" stroke-width="1.2"/>
<line x1="1106.5" y1="359.4" x2="1106.5" y2="361.9" stroke="#555" stroke-width="1.2"/>
<line x1="1113.5" y1="359.4" x2="1113.5" y2="361.9" stroke="#555" stroke-width="1.2"/>
<line x1="1119.0" y1="359.4" x2="1119.0" y2="361.9" stroke="#555" stroke-width="1.2"/>
<line x1="1123.5" y1="359.4" x2="1123.5" y2="361.9" stroke="#555" stroke-width="1.2"/>
<line x1="1127.3" y1="359.4" x2="1127.3" y2="361.9" stroke="#555" stroke-width="1.2"/>
<line x1="1130.5" y1="359.4" x2="1130.5" y2="361.9" stroke="#555" stroke-width="1.2"/>
<line x1="1133.4" y1="359.4" x2="1133.4" y2="361.9" stroke="#555" stroke-width="1.2"/>
<line x1="1136.0" y1="359.4" x2="1136.0" y2="364.4" stroke="#222" stroke-width="2"/>
<text x="1140.5" y="377.9" font-size="9" fill="#a8a8a8" text-anchor="start" textLength="8" lengthAdjust="spacingAndGlyphs">10</text>
<text x="1149.0" y="372.4" font-size="6.5" fill="#a8a8a8">4</text>
<line x1="904.3" y1="359.4" x2="910.3" y2="359.4" stroke="#555" stroke-width="2.2"/>
<text x="901.3" y="361.4" font-size="6" fill="#a0a0a0" text-anchor="end">0</text>
<line x1="904.3" y1="290.0" x2="910.3" y2="290.0" stroke="#555" stroke-width="2.2"/>
<text x="901.3" y="292.0" font-size="6" fill="#a0a0a0" text-anchor="end">5.0</text>
<line x1="904.3" y1="221.0" x2="910.3" y2="221.0" stroke="#555" stroke-width="2.2"/>
<text x="901.3" y="223.0" font-size="6" fill="#a0a0a0" text-anchor="end">10</text>
<line x1="904.3" y1="152.0" x2="910.3" y2="152.0" stroke="#555" stroke-width="2.2"/>
<text x="901.3" y="154.0" font-size="6" fill="#a0a0a0" text-anchor="end">15</text>
<line x1="907.3" y1="359.4" x2="910.3" y2="359.4" stroke="#666" stroke-width="1.2"/>
<line x1="907.3" y1="342.0" x2="910.3" y2="342.0" stroke="#666" stroke-width="1.2"/>
<line x1="907.3" y1="324.7" x2="910.3" y2="324.7" stroke="#666" stroke-width="1.2"/>
<line x1="907.3" y1="307.3" x2="910.3" y2="307.3" stroke="#666" stroke-width="1.2"/>
<line x1="907.3" y1="290.0" x2="910.3" y2="290.0" stroke="#666" stroke-width="1.2"/>
<line x1="907.3" y1="272.6" x2="910.3" y2="272.6" stroke="#666" stroke-width="1.2"/>
<line x1="907.3" y1="255.3" x2="910.3" y2="255.3" stroke="#666" stroke-width="1.2"/>
<line x1="907.3" y1="237.9" x2="910.3" y2="237.9" stroke="#666" stroke-width="1.2"/>
<line x1="907.3" y1="220.6" x2="910.3" y2="220.6" stroke="#666" stroke-width="1.2"/>
<line x1="907.3" y1="203.2" x2="910.3" y2="203.2" stroke="#666" stroke-width="1.2"/>
<line x1="907.3" y1="185.9" x2="910.3" y2="185.9" stroke="#666" stroke-width="1.2"/>
<line x1="907.3" y1="168.5" x2="910.3" y2="168.5" stroke="#666" stroke-width="1.2"/>
<line x1="907.3" y1="151.2" x2="910.3" y2="151.2" stroke="#666" stroke-width="1.2"/>
<line x1="972.3" y1="249.4" x2="1078.5" y2="249.4" stroke="#1a1a1a" stroke-width="2.4"/>
<line x1="974.3" y1="252.6" x2="1076.5" y2="252.6" stroke="#f6f6f6" stroke-width="1.6" stroke-dasharray="6 3"/>
<line x1="972.3" y1="244.9" x2="972.3" y2="253.9" stroke="#1a1a1a" stroke-width="2.0"/>
<line x1="984.6" y1="246.9" x2="984.6" y2="251.9" stroke="#1a1a1a" stroke-width="2.0"/>
<line x1="997.0" y1="246.9" x2="997.0" y2="251.9" stroke="#1a1a1a" stroke-width="2.0"/>
<line x1="1012.5" y1="246.9" x2="1012.5" y2="251.9" stroke="#1a1a1a" stroke-width="2.0"/>
<line x1="1028.0" y1="246.9" x2="1028.0" y2="251.9" stroke="#1a1a1a" stroke-width="2.0"/>
<line x1="1043.9" y1="246.9" x2="1043.9" y2="251.9" stroke="#1a1a1a" stroke-width="2.0"/>
<line x1="1060.7" y1="246.9" x2="1060.7" y2="251.9" stroke="#1a1a1a" stroke-width="2.0"/>
<line x1="1078.5" y1="244.9" x2="1078.5" y2="253.9" stroke="#1a1a1a" stroke-width="2.0"/>
<text x="978.5" y="244.8" font-size="15.5" font-weight="bold" text-anchor="middle" fill="#111" stroke="#111" stroke-width="0.5">6</text>
<text x="990.8" y="244.8" font-size="15.5" font-weight="bold" text-anchor="middle" fill="#111" stroke="#111" stroke-width="0.5">5</text>
<text x="1004.8" y="244.8" font-size="15.5" font-weight="bold" text-anchor="middle" fill="#111" stroke="#111" stroke-width="0.5">4</text>
<text x="1020.2" y="244.8" font-size="15.5" font-weight="bold" text-anchor="middle" fill="#111" stroke="#111" stroke-width="0.5">3</text>
<text x="1036.0" y="244.8" font-size="15.5" font-weight="bold" text-anchor="middle" fill="#111" stroke="#111" stroke-width="0.5">2</text>
<text x="1052.3" y="244.8" font-size="15.5" font-weight="bold" text-anchor="middle" fill="#111" stroke="#111" stroke-width="0.5">1</text>
<text x="1069.6" y="244.8" font-size="15.5" font-weight="bold" text-anchor="middle" fill="#111" stroke="#111" stroke-width="0.5">0</text>
<text x="913.0" y="172.8" font-size="20.4" font-weight="bold" text-anchor="start" fill="#111" textLength="60" lengthAdjust="spacingAndGlyphs" stroke="#111" stroke-width="0.6">%D: 25</text>
<text x="913.0" y="197.0" font-size="20.4" font-weight="bold" text-anchor="start" fill="#111" textLength="54" lengthAdjust="spacingAndGlyphs" stroke="#111" stroke-width="0.6">PI: 2.8</text>
<rect x="1338.7" y="136.9" width="17.9" height="222.5" fill="#d3d3d5"/>
<line x1="1190.4" y1="136.9" x2="1413.9" y2="136.9" stroke="#555" stroke-width="1.8"/>
<line x1="1413.9" y1="136.9" x2="1413.9" y2="359.4" stroke="#555" stroke-width="1.8"/>
<path d="M1191.4,359.4 L1192.0,359.4 L1192.6,359.4 L1193.2,359.4 L1193.8,359.4 L1194.4,359.4 L1195.0,359.4 L1195.6,359.4 L1196.2,359.4 L1196.8,359.4 L1197.4,359.4 L1198.0,359.4 L1198.6,359.4 L1199.2,359.4 L1199.8,359.4 L1200.4,359.4 L1201.0,359.4 L1201.6,359.4 L1202.2,359.4 L1202.8,359.4 L1203.4,359.4 L1204.0,359.4 L1204.6,359.4 L1205.2,359.4 L1205.8,359.4 L1206.4,359.4 L1207.0,359.4 L1207.6,359.4 L1208.2,359.4 L1208.8,359.4 L1209.4,359.4 L1210.0,359.4 L1210.6,359.4 L1211.2,359.4 L1211.8,359.4 L1212.4,359.4 L1213.0,359.4 L1213.6,359.4 L1214.2,359.4 L1214.8,359.4 L1215.4,359.4 L1216.0,359.4 L1216.6,359.4 L1217.2,359.4 L1217.8,359.4 L1218.4,359.4 L1219.0,359.4 L1219.6,359.4 L1220.2,359.4 L1220.8,359.4 L1221.4,359.4 L1222.0,359.4 L1222.6,359.4 L1223.2,359.4 L1223.8,359.4 L1224.4,359.4 L1225.0,359.4 L1225.6,359.4 L1226.2,359.4 L1226.8,359.4 L1227.4,359.4 L1228.0,359.4 L1228.6,359.4 L1229.2,359.4 L1229.8,359.4 L1230.4,359.4 L1231.0,359.4 L1231.6,359.4 L1232.2,359.4 L1232.8,359.4 L1233.4,359.4 L1234.0,359.4 L1234.6,359.4 L1235.2,359.4 L1235.8,359.4 L1236.4,359.4 L1237.0,359.4 L1237.6,359.4 L1238.2,359.4 L1238.8,359.4 L1239.4,359.4 L1240.0,359.4 L1240.6,359.4 L1241.2,359.4 L1241.8,359.4 L1242.4,359.4 L1243.0,359.4 L1243.6,359.4 L1244.2,359.4 L1244.8,359.4 L1245.4,359.4 L1246.0,359.4 L1246.6,359.4 L1247.2,359.3 L1247.8,359.3 L1248.4,359.3 L1249.0,359.2 L1249.6,359.1 L1250.2,359.0 L1250.8,358.8 L1251.4,358.7 L1252.0,358.5 L1252.6,358.3 L1253.2,358.1 L1253.8,358.0 L1254.4,357.9 L1255.0,357.9 L1255.6,357.9 L1256.2,358.0 L1256.8,358.1 L1257.4,358.3 L1258.0,358.5 L1258.6,358.7 L1259.2,358.8 L1259.8,359.0 L1260.4,359.1 L1261.0,359.2 L1261.6,359.3 L1262.2,359.3 L1262.8,359.3 L1263.4,359.4 L1264.0,359.4 L1264.6,359.4 L1265.2,359.4 L1265.8,359.4 L1266.4,359.4 L1267.0,359.4 L1267.6,359.4 L1268.2,359.4 L1268.8,359.4 L1269.4,359.4 L1270.0,359.4 L1270.6,359.4 L1271.2,359.4 L1271.8,359.4 L1272.4,359.4 L1273.0,359.4 L1273.6,359.4 L1274.2,359.4 L1274.8,359.4 L1275.4,359.4 L1276.0,359.4 L1276.6,359.4 L1277.2,359.4 L1277.8,359.4 L1278.4,359.4 L1279.0,359.4 L1279.6,359.4 L1280.2,359.4 L1280.8,359.4 L1281.4,359.4 L1282.0,359.4 L1282.6,359.4 L1283.2,359.4 L1283.8,359.4 L1284.4,359.4 L1285.0,359.4 L1285.6,359.4 L1286.2,359.4 L1286.8,359.4 L1287.4,359.4 L1288.0,359.4 L1288.6,359.4 L1289.2,359.4 L1289.8,359.4 L1290.4,359.4 L1291.0,359.4 L1291.6,359.4 L1292.2,359.4 L1292.8,359.4 L1293.4,359.4 L1294.0,359.4 L1294.6,359.4 L1295.2,359.4 L1295.8,359.4 L1296.4,359.4 L1297.0,359.4 L1297.6,359.4 L1298.2,359.3 L1298.8,359.3 L1299.4,359.3 L1300.0,359.3 L1300.6,359.3 L1301.2,359.3 L1301.8,359.3 L1302.4,359.3 L1303.0,359.3 L1303.6,359.2 L1304.2,359.2 L1304.8,359.2 L1305.4,359.2 L1306.0,359.1 L1306.6,359.1 L1307.2,359.1 L1307.8,359.1 L1308.4,359.0 L1309.0,359.0 L1309.6,358.9 L1310.2,358.9 L1310.8,358.8 L1311.4,358.8 L1312.0,358.7 L1312.6,358.6 L1313.2,358.6 L1313.8,358.5 L1314.4,358.4 L1315.0,358.3 L1315.6,358.2 L1316.2,358.1 L1316.8,358.0 L1317.4,357.9 L1318.0,357.8 L1318.6,357.6 L1319.2,357.5 L1319.8,357.3 L1320.4,357.1 L1321.0,356.9 L1321.6,356.6 L1322.2,356.4 L1322.8,356.0 L1323.4,355.7 L1324.0,355.2 L1324.6,354.7 L1325.2,354.1 L1325.8,353.4 L1326.4,352.5 L1327.0,351.5 L1327.6,350.2 L1328.2,348.8 L1328.8,347.1 L1329.4,345.1 L1330.0,342.7 L1330.6,340.0 L1331.2,336.8 L1331.8,333.2 L1332.4,329.1 L1333.0,324.4 L1333.6,319.2 L1334.2,313.3 L1334.8,306.9 L1335.4,299.9 L1336.0,292.3 L1336.6,284.2 L1337.2,275.6 L1337.8,266.5 L1338.4,257.2 L1339.0,247.6 L1339.6,237.9 L1340.2,228.3 L1340.8,218.8 L1341.4,209.7 L1342.0,201.1 L1342.6,193.1 L1343.2,185.9 L1343.8,179.7 L1344.4,174.6 L1345.0,170.6 L1345.6,167.9 L1346.2,166.6 L1346.8,166.6 L1347.4,167.8 L1348.0,170.4 L1348.6,174.1 L1349.2,179.0 L1349.8,184.9 L1350.4,191.7 L1351.0,199.3 L1351.6,207.6 L1352.2,216.3 L1352.8,225.4 L1353.4,234.8 L1354.0,244.2 L1354.6,253.5 L1355.2,262.7 L1355.8,271.6 L1356.4,280.2 L1357.0,288.3 L1357.6,295.9 L1358.2,303.0 L1358.8,309.6 L1359.4,315.6 L1360.0,321.0 L1360.6,325.9 L1361.2,330.3 L1361.8,334.1 L1362.4,337.5 L1363.0,340.5 L1363.6,343.0 L1364.2,345.2 L1364.8,347.1 L1365.4,348.7 L1366.0,350.1 L1366.6,351.3 L1367.2,352.3 L1367.8,353.1 L1368.4,353.8 L1369.0,354.4 L1369.6,354.9 L1370.2,355.4 L1370.8,355.7 L1371.4,356.1 L1372.0,356.3 L1372.6,356.6 L1373.2,356.8 L1373.8,357.0 L1374.4,357.2 L1375.0,357.4 L1375.6,357.5 L1376.2,357.6 L1376.8,357.8 L1377.4,357.9 L1378.0,358.0 L1378.6,358.1 L1379.2,358.2 L1379.8,358.3 L1380.4,358.4 L1381.0,358.5 L1381.6,358.5 L1382.2,358.6 L1382.8,358.7 L1383.4,358.7 L1384.0,358.8 L1384.6,358.8 L1385.2,358.9 L1385.8,358.9 L1386.4,359.0 L1387.0,359.0 L1387.6,359.0 L1388.2,359.1 L1388.8,359.1 L1389.4,359.1 L1390.0,359.2 L1390.6,359.2 L1391.2,359.2 L1391.8,359.2 L1392.4,359.2 L1393.0,359.3 L1393.6,359.3 L1394.2,359.3 L1394.8,359.3 L1395.4,359.3 L1396.0,359.3 L1396.6,359.3 L1397.2,359.3 L1397.8,359.3 L1398.4,359.3 L1399.0,359.4 L1399.6,359.4 L1400.2,359.4 L1400.8,359.4 L1401.4,359.4 L1402.0,359.4 L1402.6,359.4 L1403.2,359.4 L1403.8,359.4 L1404.4,359.4 L1405.0,359.4 L1405.6,359.4 L1406.2,359.4 L1406.8,359.4 L1407.4,359.4 L1408.0,359.4 L1408.6,359.4 L1409.2,359.4 L1409.8,359.4 L1410.4,359.4 L1411.0,359.4 L1411.6,359.4 L1412.2,359.4 L1412.8,359.4" fill="none" stroke="#3a3a3a" stroke-width="1.7"/>
<path d="M1324.5,359.2 L1325.1,359.1 L1325.7,359.0 L1326.3,358.8 L1326.9,358.5 L1327.5,358.2 L1328.1,357.8 L1328.7,357.2 L1329.3,356.4 L1329.9,355.5 L1330.5,354.2 L1331.1,352.7 L1331.7,350.7 L1332.3,348.4 L1332.9,345.5 L1333.5,342.0 L1334.1,338.0 L1334.7,333.2 L1335.3,327.6 L1335.9,321.3 L1336.5,314.2 L1337.1,306.2 L1337.7,297.5 L1338.3,288.1 L1338.9,278.1 L1339.5,267.5 L1340.1,256.7 L1340.7,245.7 L1341.3,234.8 L1341.9,224.2 L1342.5,214.1 L1343.1,204.9 L1343.7,196.7 L1344.3,189.8 L1344.9,184.3 L1345.5,180.5 L1346.1,178.4 L1346.7,178.1 L1347.3,179.5 L1347.9,182.5 L1348.5,187.2 L1349.1,193.3 L1349.7,200.6 L1350.3,209.0 L1350.9,218.4 L1351.5,228.3 L1352.1,238.7 L1352.7,249.4 L1353.3,260.0 L1353.9,270.4 L1354.5,280.5 L1355.1,290.1 L1355.7,299.1 L1356.3,307.4 L1356.9,315.0 L1357.5,321.8 L1358.1,327.9 L1358.7,333.2 L1359.3,337.9 L1359.9,341.8 L1360.5,345.2 L1361.1,348.1 L1361.7,350.4 L1362.3,352.3 L1362.9,353.9 L1363.5,355.2 L1364.1,356.2 L1364.7,357.0 L1365.3,357.6 L1365.9,358.0 L1366.5,358.4 L1367.1,358.7 L1367.7,358.9 L1368.3,359.0" fill="none" stroke="#8a8a8a" stroke-width="1.3"/>
<line x1="1190.4" y1="135.9" x2="1190.4" y2="360.4" stroke="#6a6a6a" stroke-width="1.5"/>
<line x1="1189.4" y1="359.4" x2="1414.9" y2="359.4" stroke="#2a2a2a" stroke-width="2.2"/>
<line x1="1190.4" y1="359.4" x2="1190.4" y2="364.4" stroke="#222" stroke-width="2"/>
<text x="1194.9" y="377.9" font-size="9" fill="#a8a8a8" text-anchor="start" textLength="8" lengthAdjust="spacingAndGlyphs">10</text>
<text x="1203.4" y="372.4" font-size="6.5" fill="#a8a8a8">0</text>
<line x1="1207.2" y1="359.4" x2="1207.2" y2="361.9" stroke="#555" stroke-width="1.2"/>
<line x1="1217.1" y1="359.4" x2="1217.1" y2="361.9" stroke="#555" stroke-width="1.2"/>
<line x1="1224.0" y1="359.4" x2="1224.0" y2="361.9" stroke="#555" stroke-width="1.2"/>
<line x1="1229.5" y1="359.4" x2="1229.5" y2="361.9" stroke="#555" stroke-width="1.2"/>
<line x1="1233.9" y1="359.4" x2="1233.9" y2="361.9" stroke="#555" stroke-width="1.2"/>
<line x1="1237.6" y1="359.4" x2="1237.6" y2="361.9" stroke="#555" stroke-width="1.2"/>
<line x1="1240.9" y1="359.4" x2="1240.9" y2="361.9" stroke="#555" stroke-width="1.2"/>
<line x1="1243.7" y1="359.4" x2="1243.7" y2="361.9" stroke="#555" stroke-width="1.2"/>
<line x1="1246.3" y1="359.4" x2="1246.3" y2="364.4" stroke="#222" stroke-width="2"/>
<text x="1250.8" y="377.9" font-size="9" fill="#a8a8a8" text-anchor="start" textLength="8" lengthAdjust="spacingAndGlyphs">10</text>
<text x="1259.3" y="372.4" font-size="6.5" fill="#a8a8a8">1</text>
<line x1="1263.1" y1="359.4" x2="1263.1" y2="361.9" stroke="#555" stroke-width="1.2"/>
<line x1="1272.9" y1="359.4" x2="1272.9" y2="361.9" stroke="#555" stroke-width="1.2"/>
<line x1="1279.9" y1="359.4" x2="1279.9" y2="361.9" stroke="#555" stroke-width="1.2"/>
<line x1="1285.3" y1="359.4" x2="1285.3" y2="361.9" stroke="#555" stroke-width="1.2"/>
<line x1="1289.8" y1="359.4" x2="1289.8" y2="361.9" stroke="#555" stroke-width="1.2"/>
<line x1="1293.5" y1="359.4" x2="1293.5" y2="361.9" stroke="#555" stroke-width="1.2"/>
<line x1="1296.7" y1="359.4" x2="1296.7" y2="361.9" stroke="#555" stroke-width="1.2"/>
<line x1="1299.6" y1="359.4" x2="1299.6" y2="361.9" stroke="#555" stroke-width="1.2"/>
<line x1="1302.2" y1="359.4" x2="1302.2" y2="364.4" stroke="#222" stroke-width="2"/>
<text x="1306.7" y="377.9" font-size="9" fill="#a8a8a8" text-anchor="start" textLength="8" lengthAdjust="spacingAndGlyphs">10</text>
<text x="1315.2" y="372.4" font-size="6.5" fill="#a8a8a8">2</text>
<line x1="1319.0" y1="359.4" x2="1319.0" y2="361.9" stroke="#555" stroke-width="1.2"/>
<line x1="1328.8" y1="359.4" x2="1328.8" y2="361.9" stroke="#555" stroke-width="1.2"/>
<line x1="1335.8" y1="359.4" x2="1335.8" y2="361.9" stroke="#555" stroke-width="1.2"/>
<line x1="1341.2" y1="359.4" x2="1341.2" y2="361.9" stroke="#555" stroke-width="1.2"/>
<line x1="1345.6" y1="359.4" x2="1345.6" y2="361.9" stroke="#555" stroke-width="1.2"/>
<line x1="1349.4" y1="359.4" x2="1349.4" y2="361.9" stroke="#555" stroke-width="1.2"/>
<line x1="1352.6" y1="359.4" x2="1352.6" y2="361.9" stroke="#555" stroke-width="1.2"/>
<line x1="1355.5" y1="359.4" x2="1355.5" y2="361.9" stroke="#555" stroke-width="1.2"/>
<line x1="1358.0" y1="359.4" x2="1358.0" y2="364.4" stroke="#222" stroke-width="2"/>
<text x="1362.5" y="377.9" font-size="9" fill="#a8a8a8" text-anchor="start" textLength="8" lengthAdjust="spacingAndGlyphs">10</text>
<text x="1371.0" y="372.4" font-size="6.5" fill="#a8a8a8">3</text>
<line x1="1374.8" y1="359.4" x2="1374.8" y2="361.9" stroke="#555" stroke-width="1.2"/>
<line x1="1384.7" y1="359.4" x2="1384.7" y2="361.9" stroke="#555" stroke-width="1.2"/>
<line x1="1391.7" y1="359.4" x2="1391.7" y2="361.9" stroke="#555" stroke-width="1.2"/>
<line x1="1397.1" y1="359.4" x2="1397.1" y2="361.9" stroke="#555" stroke-width="1.2"/>
<line x1="1401.5" y1="359.4" x2="1401.5" y2="361.9" stroke="#555" stroke-width="1.2"/>
<line x1="1405.2" y1="359.4" x2="1405.2" y2="361.9" stroke="#555" stroke-width="1.2"/>
<line x1="1408.5" y1="359.4" x2="1408.5" y2="361.9" stroke="#555" stroke-width="1.2"/>
<line x1="1411.3" y1="359.4" x2="1411.3" y2="361.9" stroke="#555" stroke-width="1.2"/>
<line x1="1413.9" y1="359.4" x2="1413.9" y2="364.4" stroke="#222" stroke-width="2"/>
<text x="1418.4" y="377.9" font-size="9" fill="#a8a8a8" text-anchor="start" textLength="8" lengthAdjust="spacingAndGlyphs">10</text>
<text x="1426.9" y="372.4" font-size="6.5" fill="#a8a8a8">4</text>
<line x1="1184.4" y1="357.6" x2="1190.4" y2="357.6" stroke="#555" stroke-width="2.2"/>
<text x="1181.4" y="359.6" font-size="6" fill="#a0a0a0" text-anchor="end">0</text>
<line x1="1184.4" y1="298.9" x2="1190.4" y2="298.9" stroke="#555" stroke-width="2.2"/>
<text x="1181.4" y="300.9" font-size="6" fill="#a0a0a0" text-anchor="end">20</text>
<line x1="1184.4" y1="237.4" x2="1190.4" y2="237.4" stroke="#555" stroke-width="2.2"/>
<text x="1181.4" y="239.4" font-size="6" fill="#a0a0a0" text-anchor="end">40</text>
<line x1="1184.4" y1="176.9" x2="1190.4" y2="176.9" stroke="#555" stroke-width="2.2"/>
<text x="1181.4" y="178.9" font-size="6" fill="#a0a0a0" text-anchor="end">60</text>
<line x1="1187.4" y1="357.6" x2="1190.4" y2="357.6" stroke="#666" stroke-width="1.2"/>
<line x1="1187.4" y1="342.9" x2="1190.4" y2="342.9" stroke="#666" stroke-width="1.2"/>
<line x1="1187.4" y1="328.2" x2="1190.4" y2="328.2" stroke="#666" stroke-width="1.2"/>
<line x1="1187.4" y1="313.6" x2="1190.4" y2="313.6" stroke="#666" stroke-width="1.2"/>
<line x1="1187.4" y1="298.9" x2="1190.4" y2="298.9" stroke="#666" stroke-width="1.2"/>
<line x1="1187.4" y1="284.2" x2="1190.4" y2="284.2" stroke="#666" stroke-width="1.2"/>
<line x1="1187.4" y1="269.5" x2="1190.4" y2="269.5" stroke="#666" stroke-width="1.2"/>
<line x1="1187.4" y1="254.9" x2="1190.4" y2="254.9" stroke="#666" stroke-width="1.2"/>
<line x1="1187.4" y1="240.2" x2="1190.4" y2="240.2" stroke="#666" stroke-width="1.2"/>
<line x1="1187.4" y1="225.5" x2="1190.4" y2="225.5" stroke="#666" stroke-width="1.2"/>
<line x1="1187.4" y1="210.8" x2="1190.4" y2="210.8" stroke="#666" stroke-width="1.2"/>
<line x1="1187.4" y1="196.2" x2="1190.4" y2="196.2" stroke="#666" stroke-width="1.2"/>
<line x1="1187.4" y1="181.5" x2="1190.4" y2="181.5" stroke="#666" stroke-width="1.2"/>
<line x1="1187.4" y1="166.8" x2="1190.4" y2="166.8" stroke="#666" stroke-width="1.2"/>
<line x1="1187.4" y1="152.1" x2="1190.4" y2="152.1" stroke="#666" stroke-width="1.2"/>
<text x="1346.8" y="168.3" font-size="8.5" font-weight="bold" text-anchor="middle" fill="#1a1a1a" textLength="45" lengthAdjust="spacingAndGlyphs" stroke="#1a1a1a" stroke-width="0.6">Undivided</text>
<line x1="1337.0" y1="180.3" x2="1357.7" y2="180.3" stroke="#222" stroke-width="2.0"/>
<line x1="1337.0" y1="176.8" x2="1337.0" y2="183.8" stroke="#222" stroke-width="1.8"/>
<line x1="1357.7" y1="176.8" x2="1357.7" y2="183.8" stroke="#222" stroke-width="1.8"/>
<line x1="1347.3" y1="171.3" x2="1347.3" y2="180.3" stroke="#444" stroke-width="1.4"/>
<rect x="144.3" y="456.9" width="127.5" height="218.0" fill="#d3d3d5"/>
<line x1="84.7" y1="456.9" x2="314.0" y2="456.9" stroke="#a0a0a0" stroke-width="1.8"/>
<line x1="314.0" y1="456.9" x2="314.0" y2="674.9" stroke="#a0a0a0" stroke-width="1.4"/>
<path d="M139.2,674.9 L139.8,674.8 L140.4,674.8 L141.0,674.7 L141.6,674.5 L142.2,674.2 L142.8,673.6 L143.4,672.6 L144.0,671.1 L144.6,668.8 L145.2,665.3 L145.8,660.3 L146.4,653.5 L147.0,644.5 L147.6,633.2 L148.2,619.5 L148.8,603.6 L149.4,586.2 L150.0,568.2 L150.6,550.7 L151.2,535.0 L151.8,522.4 L152.4,514.1 L153.0,510.9 L153.6,513.1 L154.2,520.4 L154.8,532.2 L155.4,547.4 L156.0,564.6 L156.6,582.7 L157.2,600.2 L157.8,616.4 L158.4,630.6 L159.0,642.4 L159.6,651.9 L160.2,659.1 L160.8,664.4 L161.4,668.2 L162.0,670.7 L162.6,672.4 L163.2,673.4 L163.8,674.1 L164.4,674.5 L165.0,674.7 L165.6,674.8 L166.2,674.8 L166.8,674.9" fill="none" stroke="#2f9488" stroke-width="2.0" opacity="0.9"/>
<path d="M136.0,674.9 L136.6,674.9 L137.2,674.8 L137.8,674.8 L138.4,674.7 L139.0,674.5 L139.6,674.2 L140.2,673.8 L140.8,673.1 L141.4,672.1 L142.0,670.7 L142.6,668.7 L143.2,665.9 L143.8,662.1 L144.4,657.2 L145.0,650.9 L145.6,643.1 L146.2,633.7 L146.8,622.7 L147.4,610.2 L148.0,596.6 L148.6,582.2 L149.2,567.6 L149.8,553.4 L150.4,540.5 L151.0,529.5 L151.6,521.1 L152.2,515.8 L152.8,514.0 L153.4,515.8 L154.0,521.1 L154.6,529.5 L155.2,540.5 L155.8,553.4 L156.4,567.6 L157.0,582.2 L157.6,596.6 L158.2,610.2 L158.8,622.7 L159.4,633.7 L160.0,643.1 L160.6,650.9 L161.2,657.2 L161.8,662.1 L162.4,665.9 L163.0,668.7 L163.6,670.7 L164.2,672.1 L164.8,673.1 L165.4,673.8 L166.0,674.2 L166.6,674.5 L167.2,674.7 L167.8,674.8 L168.4,674.8 L169.0,674.9 L169.6,674.9" fill="none" stroke="#6fd0d8" stroke-width="2.0" opacity="0.9"/>
<path d="M151.8,674.9 L152.4,674.9 L153.0,674.8 L153.6,674.7 L154.2,674.6 L154.8,674.2 L155.4,673.6 L156.0,672.6 L156.6,670.8 L157.2,668.1 L157.8,664.1 L158.4,658.4 L159.0,651.0 L159.6,641.8 L160.2,631.1 L160.8,619.6 L161.4,608.1 L162.0,597.9 L162.6,590.1 L163.2,585.7 L163.8,585.1 L164.4,585.9 L165.0,587.6 L165.6,590.0 L166.2,593.3 L166.8,597.2 L167.4,601.6 L168.0,606.5 L168.6,611.7 L169.2,617.1 L169.8,622.6 L170.4,628.0 L171.0,633.2 L171.6,638.3 L172.2,643.0 L172.8,647.4 L173.4,651.5 L174.0,655.1 L174.6,658.4 L175.2,661.2 L175.8,663.7 L176.4,665.8 L177.0,667.6 L177.6,669.1 L178.2,670.3 L178.8,671.3 L179.4,672.1 L180.0,672.8 L180.6,673.3 L181.2,673.7 L181.8,674.0 L182.4,674.3 L183.0,674.4 L183.6,674.6 L184.2,674.7 L184.8,674.7 L185.4,674.8 L186.0,674.8 L186.6,674.8 L187.2,674.9 L187.8,674.9 L188.4,674.9" fill="none" stroke="#a03cb0" stroke-width="2.0" opacity="0.9"/>
<path d="M151.4,674.9 L152.0,674.9 L152.6,674.8 L153.2,674.7 L153.8,674.4 L154.4,673.8 L155.0,672.7 L155.6,670.8 L156.2,667.5 L156.8,662.5 L157.4,655.4 L158.0,645.9 L158.6,634.5 L159.2,622.1 L159.8,610.0 L160.4,600.0 L161.0,593.6 L161.6,592.1 L162.2,595.1 L162.8,602.0 L163.4,611.8 L164.0,623.1 L164.6,634.5 L165.2,645.1 L165.8,654.1 L166.4,661.1 L167.0,666.2 L167.6,669.7 L168.2,672.0 L168.8,673.3 L169.4,674.1 L170.0,674.5 L170.6,674.7 L171.2,674.8 L171.8,674.9 L172.4,674.9" fill="none" stroke="#4a72c0" stroke-width="2.0" opacity="0.9"/>
<path d="M161.2,674.9 L161.8,674.9 L162.4,674.9 L163.0,674.9 L163.6,674.8 L164.2,674.8 L164.8,674.7 L165.4,674.7 L166.0,674.5 L166.6,674.3 L167.2,674.0 L167.8,673.5 L168.4,672.9 L169.0,672.1 L169.6,671.1 L170.2,669.7 L170.8,668.0 L171.4,666.0 L172.0,663.6 L172.6,660.9 L173.2,657.9 L173.8,654.8 L174.4,651.6 L175.0,648.6 L175.6,645.7 L176.2,643.4 L176.8,641.5 L177.4,640.4 L178.0,640.0 L178.6,640.3 L179.2,641.2 L179.8,642.7 L180.4,644.6 L181.0,647.0 L181.6,649.6 L182.2,652.3 L182.8,655.1 L183.4,657.9 L184.0,660.6 L184.6,663.0 L185.2,665.2 L185.8,667.1 L186.4,668.8 L187.0,670.2 L187.6,671.3 L188.2,672.2 L188.8,672.9 L189.4,673.5 L190.0,673.9 L190.6,674.2 L191.2,674.4 L191.8,674.6 L192.4,674.7 L193.0,674.8 L193.6,674.8 L194.2,674.8 L194.8,674.9 L195.4,674.9 L196.0,674.9 L196.6,674.9" fill="none" stroke="#c48a80" stroke-width="2.0" opacity="0.9"/>
<path d="M188.7,674.9 L189.3,674.9 L189.9,674.9 L190.5,674.9 L191.1,674.9 L191.7,674.9 L192.3,674.9 L192.9,674.8 L193.5,674.8 L194.1,674.8 L194.7,674.7 L195.3,674.6 L195.9,674.5 L196.5,674.3 L197.1,674.1 L197.7,673.8 L198.3,673.4 L198.9,673.0 L199.5,672.4 L200.1,671.8 L200.7,671.0 L201.3,670.2 L201.9,669.3 L202.5,668.3 L203.1,667.3 L203.7,666.2 L204.3,665.3 L204.9,664.4 L205.5,663.6 L206.1,663.0 L206.7,662.5 L207.3,662.3 L207.9,662.3 L208.5,662.5 L209.1,663.0 L209.7,663.6 L210.3,664.4 L210.9,665.3 L211.5,666.2 L212.1,667.3 L212.7,668.3 L213.3,669.3 L213.9,670.2 L214.5,671.0 L215.1,671.8 L215.7,672.4 L216.3,673.0 L216.9,673.4 L217.5,673.8 L218.1,674.1 L218.7,674.3 L219.3,674.5 L219.9,674.6 L220.5,674.7 L221.1,674.8 L221.7,674.8 L222.3,674.8 L222.9,674.9 L223.5,674.9 L224.1,674.9 L224.7,674.9 L225.3,674.9 L225.9,674.9 L226.5,674.9" fill="none" stroke="#56542c" stroke-width="2.0" opacity="0.9"/>
<path d="M199.3,674.9 L199.9,674.9 L200.5,674.9 L201.1,674.9 L201.7,674.9 L202.3,674.9 L202.9,674.9 L203.5,674.9 L204.1,674.9 L204.7,674.8 L205.3,674.8 L205.9,674.8 L206.5,674.7 L207.1,674.6 L207.7,674.6 L208.3,674.4 L208.9,674.3 L209.5,674.1 L210.1,673.9 L210.7,673.6 L211.3,673.3 L211.9,672.9 L212.5,672.5 L213.1,672.1 L213.7,671.7 L214.3,671.3 L214.9,670.8 L215.5,670.5 L216.1,670.1 L216.7,669.9 L217.3,669.7 L217.9,669.6 L218.5,669.6 L219.1,669.7 L219.7,669.9 L220.3,670.1 L220.9,670.5 L221.5,670.8 L222.1,671.3 L222.7,671.7 L223.3,672.1 L223.9,672.5 L224.5,672.9 L225.1,673.3 L225.7,673.6 L226.3,673.9 L226.9,674.1 L227.5,674.3 L228.1,674.4 L228.7,674.6 L229.3,674.6 L229.9,674.7 L230.5,674.8 L231.1,674.8 L231.7,674.8 L232.3,674.9 L232.9,674.9 L233.5,674.9 L234.1,674.9 L234.7,674.9 L235.3,674.9 L235.9,674.9 L236.5,674.9 L237.1,674.9" fill="none" stroke="#6cc04e" stroke-width="2.0" opacity="0.9"/>
<path d="M242.7,674.9 L243.3,674.9 L243.9,674.9 L244.5,674.9 L245.1,674.9 L245.7,674.9 L246.3,674.9 L246.9,674.9 L247.5,674.8 L248.1,674.8 L248.7,674.7 L249.3,674.7 L249.9,674.6 L250.5,674.4 L251.1,674.3 L251.7,674.1 L252.3,673.8 L252.9,673.4 L253.5,673.0 L254.1,672.5 L254.7,672.0 L255.3,671.3 L255.9,670.6 L256.5,669.9 L257.1,669.1 L257.7,668.4 L258.3,667.6 L258.9,667.0 L259.5,666.4 L260.1,665.9 L260.7,665.6 L261.3,665.4 L261.9,665.4 L262.5,665.6 L263.1,665.9 L263.7,666.4 L264.3,667.0 L264.9,667.6 L265.5,668.4 L266.1,669.1 L266.7,669.9 L267.3,670.6 L267.9,671.3 L268.5,672.0 L269.1,672.5 L269.7,673.0 L270.3,673.4 L270.9,673.8 L271.5,674.1 L272.1,674.3 L272.7,674.4 L273.3,674.6 L273.9,674.7 L274.5,674.7 L275.1,674.8 L275.7,674.8 L276.3,674.9 L276.9,674.9 L277.5,674.9 L278.1,674.9 L278.7,674.9 L279.3,674.9 L279.9,674.9 L280.5,674.9" fill="none" stroke="#45acd0" stroke-width="2.0" opacity="0.9"/>
<path d="M86.0,675.0 C92.5,675.0 117.6,675.0 125.0,675.0 C132.4,675.0 128.5,676.4 130.3,675.0 C132.1,673.6 134.2,671.8 135.6,666.5 C137.0,661.2 137.8,654.1 138.8,643.2 C139.9,632.3 140.9,613.2 141.9,600.9 C142.9,588.5 144.0,579.7 145.1,569.1 C146.2,558.5 147.0,547.0 148.3,537.3 C149.6,527.6 151.5,512.6 153.1,510.9 C154.7,509.1 156.4,518.5 157.8,526.8 C159.2,535.1 160.4,551.4 161.5,560.6 C162.6,569.8 162.9,573.3 164.2,581.8 C165.5,590.3 167.6,602.9 169.5,611.4 C171.4,619.9 173.9,627.0 175.8,632.6 C177.7,638.2 179.0,641.8 181.1,645.3 C183.2,648.8 186.4,651.1 188.5,653.8 C190.6,656.4 191.7,659.8 193.8,661.2 C195.9,662.6 198.7,662.1 201.2,662.3 C203.7,662.5 206.5,661.4 208.6,662.3 C210.7,663.2 211.1,666.1 213.9,667.5 C216.7,668.9 221.9,669.9 225.6,670.7 C229.3,671.5 232.6,671.8 236.1,672.3 C239.6,672.8 243.5,673.8 246.7,673.9 C249.9,674.0 252.7,673.7 255.2,672.8 C257.7,671.9 259.1,668.6 261.6,668.6 C264.1,668.6 267.6,671.7 270.0,672.8 C272.4,673.9 269.0,674.6 276.0,675.0 C283.0,675.4 306.0,675.0 312.0,675.0" fill="none" stroke="#e4566a" stroke-width="1.4" opacity="0.8"/>
<line x1="84.7" y1="455.9" x2="84.7" y2="675.9" stroke="#6a6a6a" stroke-width="1.5"/>
<line x1="83.7" y1="674.9" x2="315.0" y2="674.9" stroke="#2a2a2a" stroke-width="2.2"/>
<line x1="84.7" y1="674.9" x2="84.7" y2="679.9" stroke="#222" stroke-width="2"/>
<text x="89.2" y="693.4" font-size="9" fill="#a8a8a8" text-anchor="start" textLength="8" lengthAdjust="spacingAndGlyphs">10</text>
<text x="97.7" y="687.9" font-size="6.5" fill="#a8a8a8">0</text>
<line x1="102.0" y1="674.9" x2="102.0" y2="677.4" stroke="#555" stroke-width="1.2"/>
<line x1="112.1" y1="674.9" x2="112.1" y2="677.4" stroke="#555" stroke-width="1.2"/>
<line x1="119.2" y1="674.9" x2="119.2" y2="677.4" stroke="#555" stroke-width="1.2"/>
<line x1="124.8" y1="674.9" x2="124.8" y2="677.4" stroke="#555" stroke-width="1.2"/>
<line x1="129.3" y1="674.9" x2="129.3" y2="677.4" stroke="#555" stroke-width="1.2"/>
<line x1="133.1" y1="674.9" x2="133.1" y2="677.4" stroke="#555" stroke-width="1.2"/>
<line x1="136.5" y1="674.9" x2="136.5" y2="677.4" stroke="#555" stroke-width="1.2"/>
<line x1="139.4" y1="674.9" x2="139.4" y2="677.4" stroke="#555" stroke-width="1.2"/>
<line x1="142.0" y1="674.9" x2="142.0" y2="679.9" stroke="#222" stroke-width="2"/>
<text x="146.5" y="693.4" font-size="9" fill="#a8a8a8" text-anchor="start" textLength="8" lengthAdjust="spacingAndGlyphs">10</text>
<text x="155.0" y="687.9" font-size="6.5" fill="#a8a8a8">1</text>
<line x1="159.3" y1="674.9" x2="159.3" y2="677.4" stroke="#555" stroke-width="1.2"/>
<line x1="169.4" y1="674.9" x2="169.4" y2="677.4" stroke="#555" stroke-width="1.2"/>
<line x1="176.5" y1="674.9" x2="176.5" y2="677.4" stroke="#555" stroke-width="1.2"/>
<line x1="182.1" y1="674.9" x2="182.1" y2="677.4" stroke="#555" stroke-width="1.2"/>
<line x1="186.6" y1="674.9" x2="186.6" y2="677.4" stroke="#555" stroke-width="1.2"/>
<line x1="190.5" y1="674.9" x2="190.5" y2="677.4" stroke="#555" stroke-width="1.2"/>
<line x1="193.8" y1="674.9" x2="193.8" y2="677.4" stroke="#555" stroke-width="1.2"/>
<line x1="196.7" y1="674.9" x2="196.7" y2="677.4" stroke="#555" stroke-width="1.2"/>
<line x1="199.4" y1="674.9" x2="199.4" y2="679.9" stroke="#222" stroke-width="2"/>
<text x="203.9" y="693.4" font-size="9" fill="#a8a8a8" text-anchor="start" textLength="8" lengthAdjust="spacingAndGlyphs">10</text>
<text x="212.4" y="687.9" font-size="6.5" fill="#a8a8a8">2</text>
<line x1="216.6" y1="674.9" x2="216.6" y2="677.4" stroke="#555" stroke-width="1.2"/>
<line x1="226.7" y1="674.9" x2="226.7" y2="677.4" stroke="#555" stroke-width="1.2"/>
<line x1="233.9" y1="674.9" x2="233.9" y2="677.4" stroke="#555" stroke-width="1.2"/>
<line x1="239.4" y1="674.9" x2="239.4" y2="677.4" stroke="#555" stroke-width="1.2"/>
<line x1="244.0" y1="674.9" x2="244.0" y2="677.4" stroke="#555" stroke-width="1.2"/>
<line x1="247.8" y1="674.9" x2="247.8" y2="677.4" stroke="#555" stroke-width="1.2"/>
<line x1="251.1" y1="674.9" x2="251.1" y2="677.4" stroke="#555" stroke-width="1.2"/>
<line x1="254.1" y1="674.9" x2="254.1" y2="677.4" stroke="#555" stroke-width="1.2"/>
<line x1="256.7" y1="674.9" x2="256.7" y2="679.9" stroke="#222" stroke-width="2"/>
<text x="261.2" y="693.4" font-size="9" fill="#a8a8a8" text-anchor="start" textLength="8" lengthAdjust="spacingAndGlyphs">10</text>
<text x="269.7" y="687.9" font-size="6.5" fill="#a8a8a8">3</text>
<line x1="273.9" y1="674.9" x2="273.9" y2="677.4" stroke="#555" stroke-width="1.2"/>
<line x1="284.0" y1="674.9" x2="284.0" y2="677.4" stroke="#555" stroke-width="1.2"/>
<line x1="291.2" y1="674.9" x2="291.2" y2="677.4" stroke="#555" stroke-width="1.2"/>
<line x1="296.7" y1="674.9" x2="296.7" y2="677.4" stroke="#555" stroke-width="1.2"/>
<line x1="301.3" y1="674.9" x2="301.3" y2="677.4" stroke="#555" stroke-width="1.2"/>
<line x1="305.1" y1="674.9" x2="305.1" y2="677.4" stroke="#555" stroke-width="1.2"/>
<line x1="308.4" y1="674.9" x2="308.4" y2="677.4" stroke="#555" stroke-width="1.2"/>
<line x1="311.4" y1="674.9" x2="311.4" y2="677.4" stroke="#555" stroke-width="1.2"/>
<line x1="314.0" y1="674.9" x2="314.0" y2="679.9" stroke="#222" stroke-width="2"/>
<text x="318.5" y="693.4" font-size="9" fill="#a8a8a8" text-anchor="start" textLength="8" lengthAdjust="spacingAndGlyphs">10</text>
<text x="327.0" y="687.9" font-size="6.5" fill="#a8a8a8">4</text>
<line x1="78.7" y1="673.0" x2="84.7" y2="673.0" stroke="#555" stroke-width="2.2"/>
<text x="75.7" y="675.0" font-size="6" fill="#a0a0a0" text-anchor="end">0</text>
<line x1="78.7" y1="630.0" x2="84.7" y2="630.0" stroke="#555" stroke-width="2.2"/>
<text x="75.7" y="632.0" font-size="6" fill="#a0a0a0" text-anchor="end">10</text>
<line x1="78.7" y1="587.0" x2="84.7" y2="587.0" stroke="#555" stroke-width="2.2"/>
<text x="75.7" y="589.0" font-size="6" fill="#a0a0a0" text-anchor="end">20</text>
<line x1="78.7" y1="545.0" x2="84.7" y2="545.0" stroke="#555" stroke-width="2.2"/>
<text x="75.7" y="547.0" font-size="6" fill="#a0a0a0" text-anchor="end">30</text>
<line x1="78.7" y1="502.0" x2="84.7" y2="502.0" stroke="#555" stroke-width="2.2"/>
<text x="75.7" y="504.0" font-size="6" fill="#a0a0a0" text-anchor="end">40</text>
<line x1="81.7" y1="673.0" x2="84.7" y2="673.0" stroke="#666" stroke-width="1.2"/>
<line x1="81.7" y1="662.2" x2="84.7" y2="662.2" stroke="#666" stroke-width="1.2"/>
<line x1="81.7" y1="651.5" x2="84.7" y2="651.5" stroke="#666" stroke-width="1.2"/>
<line x1="81.7" y1="640.8" x2="84.7" y2="640.8" stroke="#666" stroke-width="1.2"/>
<line x1="81.7" y1="630.0" x2="84.7" y2="630.0" stroke="#666" stroke-width="1.2"/>
<line x1="81.7" y1="619.2" x2="84.7" y2="619.2" stroke="#666" stroke-width="1.2"/>
<line x1="81.7" y1="608.5" x2="84.7" y2="608.5" stroke="#666" stroke-width="1.2"/>
<line x1="81.7" y1="597.8" x2="84.7" y2="597.8" stroke="#666" stroke-width="1.2"/>
<line x1="81.7" y1="587.0" x2="84.7" y2="587.0" stroke="#666" stroke-width="1.2"/>
<line x1="81.7" y1="576.2" x2="84.7" y2="576.2" stroke="#666" stroke-width="1.2"/>
<line x1="81.7" y1="565.5" x2="84.7" y2="565.5" stroke="#666" stroke-width="1.2"/>
<line x1="81.7" y1="554.8" x2="84.7" y2="554.8" stroke="#666" stroke-width="1.2"/>
<line x1="81.7" y1="544.0" x2="84.7" y2="544.0" stroke="#666" stroke-width="1.2"/>
<line x1="81.7" y1="533.2" x2="84.7" y2="533.2" stroke="#666" stroke-width="1.2"/>
<line x1="81.7" y1="522.5" x2="84.7" y2="522.5" stroke="#666" stroke-width="1.2"/>
<line x1="81.7" y1="511.8" x2="84.7" y2="511.8" stroke="#666" stroke-width="1.2"/>
<line x1="81.7" y1="501.0" x2="84.7" y2="501.0" stroke="#666" stroke-width="1.2"/>
<line x1="81.7" y1="490.2" x2="84.7" y2="490.2" stroke="#666" stroke-width="1.2"/>
<line x1="81.7" y1="479.5" x2="84.7" y2="479.5" stroke="#666" stroke-width="1.2"/>
<line x1="81.7" y1="468.8" x2="84.7" y2="468.8" stroke="#666" stroke-width="1.2"/>
<line x1="143.4" y1="565.0" x2="273.3" y2="565.0" stroke="#1a1a1a" stroke-width="2.4"/>
<line x1="145.4" y1="568.2" x2="271.3" y2="568.2" stroke="#f6f6f6" stroke-width="1.6" stroke-dasharray="6 3"/>
<line x1="143.4" y1="560.5" x2="143.4" y2="569.5" stroke="#1a1a1a" stroke-width="2.0"/>
<line x1="160.5" y1="562.5" x2="160.5" y2="567.5" stroke="#1a1a1a" stroke-width="2.0"/>
<line x1="177.3" y1="562.5" x2="177.3" y2="567.5" stroke="#1a1a1a" stroke-width="2.0"/>
<line x1="196.2" y1="562.5" x2="196.2" y2="567.5" stroke="#1a1a1a" stroke-width="2.0"/>
<line x1="215.0" y1="562.5" x2="215.0" y2="567.5" stroke="#1a1a1a" stroke-width="2.0"/>
<line x1="233.9" y1="562.5" x2="233.9" y2="567.5" stroke="#1a1a1a" stroke-width="2.0"/>
<line x1="253.5" y1="562.5" x2="253.5" y2="567.5" stroke="#1a1a1a" stroke-width="2.0"/>
<line x1="273.3" y1="560.5" x2="273.3" y2="569.5" stroke="#1a1a1a" stroke-width="2.0"/>
<text x="151.9" y="560.4" font-size="15.5" font-weight="bold" text-anchor="middle" fill="#111" stroke="#111" stroke-width="0.5">6</text>
<text x="168.9" y="560.4" font-size="15.5" font-weight="bold" text-anchor="middle" fill="#111" stroke="#111" stroke-width="0.5">5</text>
<text x="186.8" y="560.4" font-size="15.5" font-weight="bold" text-anchor="middle" fill="#111" stroke="#111" stroke-width="0.5">4</text>
<text x="205.6" y="560.4" font-size="15.5" font-weight="bold" text-anchor="middle" fill="#111" stroke="#111" stroke-width="0.5">3</text>
<text x="224.4" y="560.4" font-size="15.5" font-weight="bold" text-anchor="middle" fill="#111" stroke="#111" stroke-width="0.5">2</text>
<text x="243.7" y="560.4" font-size="15.5" font-weight="bold" text-anchor="middle" fill="#111" stroke="#111" stroke-width="0.5">1</text>
<text x="263.4" y="560.4" font-size="15.5" font-weight="bold" text-anchor="middle" fill="#111" stroke="#111" stroke-width="0.5">0</text>
<rect x="243.2" y="466.5" width="70.0" height="51.8" fill="#fff" opacity="0.35"/>
<text x="247.2" y="486.5" font-size="20.4" font-weight="bold" text-anchor="start" fill="#111" textLength="62" lengthAdjust="spacingAndGlyphs" stroke="#111" stroke-width="0.6">%D: 48</text>
<text x="247.2" y="511.3" font-size="20.4" font-weight="bold" text-anchor="start" fill="#111" textLength="55.7" lengthAdjust="spacingAndGlyphs" stroke="#111" stroke-width="0.6">PI: 3.8</text>
<rect x="409.0" y="461.7" width="122.7" height="218.3" fill="#d3d3d5"/>
<line x1="365.0" y1="461.7" x2="588.5" y2="461.7" stroke="#a0a0a0" stroke-width="1.8"/>
<line x1="588.5" y1="461.7" x2="588.5" y2="680.0" stroke="#a0a0a0" stroke-width="1.4"/>
<path d="M402.9,680.0 L403.5,680.0 L404.1,679.9 L404.7,679.9 L405.3,679.7 L405.9,679.6 L406.5,679.3 L407.1,678.9 L407.7,678.2 L408.3,677.2 L408.9,675.7 L409.5,673.7 L410.1,670.8 L410.7,667.0 L411.3,662.0 L411.9,655.6 L412.5,647.7 L413.1,638.1 L413.7,627.0 L414.3,614.3 L414.9,600.5 L415.5,585.8 L416.1,571.0 L416.7,556.7 L417.3,543.5 L417.9,532.3 L418.5,523.8 L419.1,518.4 L419.7,516.6 L420.3,521.2 L420.9,534.4 L421.5,553.9 L422.1,576.9 L422.7,600.5 L423.3,622.1 L423.9,640.2 L424.5,654.1 L425.1,664.1 L425.7,670.8 L426.3,675.0 L426.9,677.4 L427.5,678.7 L428.1,679.4 L428.7,679.7 L429.3,679.9 L429.9,680.0" fill="none" stroke="#2f9488" stroke-width="2.0" opacity="0.9"/>
<path d="M414.5,680.0 L415.1,679.9 L415.7,679.8 L416.3,679.7 L416.9,679.3 L417.5,678.6 L418.1,677.3 L418.7,675.1 L419.3,671.5 L419.9,665.9 L420.5,657.5 L421.1,645.9 L421.7,630.5 L422.3,611.4 L422.9,589.3 L423.5,565.3 L424.1,541.6 L424.7,520.4 L425.3,504.2 L425.9,495.1 L426.5,493.9 L427.1,497.7 L427.7,505.3 L428.3,516.3 L428.9,530.1 L429.5,545.7 L430.1,562.4 L430.7,579.3 L431.3,595.7 L431.9,611.0 L432.5,624.8 L433.1,636.8 L433.7,646.9 L434.3,655.3 L434.9,661.9 L435.5,667.1 L436.1,671.0 L436.7,673.8 L437.3,675.9 L437.9,677.3 L438.5,678.3 L439.1,678.9 L439.7,679.3 L440.3,679.6 L440.9,679.8 L441.5,679.9 L442.1,679.9 L442.7,680.0" fill="none" stroke="#a03cb0" stroke-width="2.0" opacity="0.9"/>
<path d="M412.9,680.0 L413.5,679.9 L414.1,679.9 L414.7,679.7 L415.3,679.4 L415.9,678.9 L416.5,678.0 L417.1,676.4 L417.7,673.8 L418.3,669.7 L418.9,663.7 L419.5,655.2 L420.1,643.8 L420.7,629.1 L421.3,611.3 L421.9,590.9 L422.5,569.0 L423.1,547.1 L423.7,527.1 L424.3,511.1 L424.9,500.6 L425.5,497.0 L426.1,498.9 L426.7,504.3 L427.3,513.1 L427.9,524.6 L428.5,538.2 L429.1,553.3 L429.7,569.0 L430.3,584.8 L430.9,599.9 L431.5,614.0 L432.1,626.8 L432.7,637.9 L433.3,647.4 L433.9,655.2 L434.5,661.6 L435.1,666.6 L435.7,670.4 L436.3,673.3 L436.9,675.4 L437.5,676.9 L438.1,678.0 L438.7,678.7 L439.3,679.2 L439.9,679.5 L440.5,679.7 L441.1,679.8 L441.7,679.9 L442.3,679.9 L442.9,680.0" fill="none" stroke="#8a55c0" stroke-width="2.0" opacity="0.9"/>
<path d="M423.0,680.0 L423.6,680.0 L424.2,680.0 L424.8,680.0 L425.4,679.9 L426.0,679.9 L426.6,679.8 L427.2,679.7 L427.8,679.6 L428.4,679.4 L429.0,679.2 L429.6,678.8 L430.2,678.4 L430.8,677.7 L431.4,676.9 L432.0,675.8 L432.6,674.5 L433.2,672.8 L433.8,670.8 L434.4,668.3 L435.0,665.4 L435.6,662.0 L436.2,658.1 L436.8,653.8 L437.4,649.0 L438.0,644.0 L438.6,638.7 L439.2,633.3 L439.8,628.0 L440.4,622.9 L441.0,618.2 L441.6,614.1 L442.2,610.6 L442.8,608.1 L443.4,606.5 L444.0,606.0 L444.6,606.5 L445.2,608.1 L445.8,610.6 L446.4,614.1 L447.0,618.2 L447.6,622.9 L448.2,628.0 L448.8,633.3 L449.4,638.7 L450.0,644.0 L450.6,649.0 L451.2,653.8 L451.8,658.1 L452.4,662.0 L453.0,665.4 L453.6,668.3 L454.2,670.8 L454.8,672.8 L455.4,674.5 L456.0,675.8 L456.6,676.9 L457.2,677.7 L457.8,678.4 L458.4,678.8 L459.0,679.2 L459.6,679.4 L460.2,679.6 L460.8,679.7 L461.4,679.8 L462.0,679.9 L462.6,679.9 L463.2,680.0 L463.8,680.0 L464.4,680.0 L465.0,680.0" fill="none" stroke="#c48a80" stroke-width="2.0" opacity="0.9"/>
<path d="M444.0,680.0 L444.6,680.0 L445.2,680.0 L445.8,680.0 L446.4,679.9 L447.0,679.9 L447.6,679.8 L448.2,679.7 L448.8,679.6 L449.4,679.4 L450.0,679.0 L450.6,678.6 L451.2,677.9 L451.8,677.0 L452.4,675.9 L453.0,674.4 L453.6,672.6 L454.2,670.4 L454.8,667.9 L455.4,665.0 L456.0,661.8 L456.6,658.4 L457.2,655.1 L457.8,651.8 L458.4,648.8 L459.0,646.2 L459.6,644.2 L460.2,643.0 L460.8,642.6 L461.4,643.0 L462.0,644.2 L462.6,646.2 L463.2,648.8 L463.8,651.8 L464.4,655.1 L465.0,658.4 L465.6,661.8 L466.2,665.0 L466.8,667.9 L467.4,670.4 L468.0,672.6 L468.6,674.4 L469.2,675.9 L469.8,677.0 L470.4,677.9 L471.0,678.6 L471.6,679.0 L472.2,679.4 L472.8,679.6 L473.4,679.7 L474.0,679.8 L474.6,679.9 L475.2,679.9 L475.8,680.0 L476.4,680.0 L477.0,680.0 L477.6,680.0" fill="none" stroke="#56542c" stroke-width="2.0" opacity="0.9"/>
<path d="M477.8,680.0 L478.4,680.0 L479.0,680.0 L479.6,680.0 L480.2,680.0 L480.8,680.0 L481.4,680.0 L482.0,680.0 L482.6,680.0 L483.2,680.0 L483.8,680.0 L484.4,680.0 L485.0,679.9 L485.6,679.9 L486.2,679.9 L486.8,679.9 L487.4,679.8 L488.0,679.8 L488.6,679.7 L489.2,679.6 L489.8,679.6 L490.4,679.4 L491.0,679.3 L491.6,679.2 L492.2,679.0 L492.8,678.8 L493.4,678.6 L494.0,678.4 L494.6,678.1 L495.2,677.9 L495.8,677.6 L496.4,677.3 L497.0,677.0 L497.6,676.7 L498.2,676.4 L498.8,676.1 L499.4,675.8 L500.0,675.6 L500.6,675.4 L501.2,675.2 L501.8,675.1 L502.4,675.0 L503.0,675.0 L503.6,675.0 L504.2,675.1 L504.8,675.2 L505.4,675.4 L506.0,675.6 L506.6,675.8 L507.2,676.1 L507.8,676.4 L508.4,676.7 L509.0,677.0 L509.6,677.3 L510.2,677.6 L510.8,677.9 L511.4,678.1 L512.0,678.4 L512.6,678.6 L513.2,678.8 L513.8,679.0 L514.4,679.2 L515.0,679.3 L515.6,679.4 L516.2,679.6 L516.8,679.6 L517.4,679.7 L518.0,679.8 L518.6,679.8 L519.2,679.9 L519.8,679.9 L520.4,679.9 L521.0,679.9 L521.6,680.0 L522.2,680.0 L522.8,680.0 L523.4,680.0 L524.0,680.0 L524.6,680.0 L525.2,680.0 L525.8,680.0 L526.4,680.0 L527.0,680.0 L527.6,680.0 L528.2,680.0" fill="none" stroke="#e6a545" stroke-width="2.0" opacity="0.9"/>
<path d="M501.7,680.0 L502.3,680.0 L502.9,680.0 L503.5,680.0 L504.1,680.0 L504.7,680.0 L505.3,680.0 L505.9,680.0 L506.5,680.0 L507.1,679.9 L507.7,679.9 L508.3,679.9 L508.9,679.8 L509.5,679.8 L510.1,679.7 L510.7,679.6 L511.3,679.4 L511.9,679.2 L512.5,679.0 L513.1,678.8 L513.7,678.5 L514.3,678.1 L514.9,677.7 L515.5,677.2 L516.1,676.7 L516.7,676.2 L517.3,675.6 L517.9,675.1 L518.5,674.5 L519.1,674.0 L519.7,673.5 L520.3,673.0 L520.9,672.7 L521.5,672.4 L522.1,672.3 L522.7,672.2 L523.3,672.3 L523.9,672.4 L524.5,672.7 L525.1,673.0 L525.7,673.5 L526.3,674.0 L526.9,674.5 L527.5,675.1 L528.1,675.6 L528.7,676.2 L529.3,676.7 L529.9,677.2 L530.5,677.7 L531.1,678.1 L531.7,678.5 L532.3,678.8 L532.9,679.0 L533.5,679.2 L534.1,679.4 L534.7,679.6 L535.3,679.7 L535.9,679.8 L536.5,679.8 L537.1,679.9 L537.7,679.9 L538.3,679.9 L538.9,680.0 L539.5,680.0 L540.1,680.0 L540.7,680.0 L541.3,680.0 L541.9,680.0 L542.5,680.0 L543.1,680.0 L543.7,680.0" fill="none" stroke="#45acd0" stroke-width="2.0" opacity="0.9"/>
<path d="M366.0,678.0 C371.3,678.0 392.0,678.1 398.0,678.0 C404.0,677.9 400.8,679.5 402.2,677.6 C403.6,675.7 405.1,673.1 406.6,666.7 C408.1,660.3 409.6,654.8 411.0,639.3 C412.4,623.8 414.0,593.7 415.3,573.6 C416.6,553.5 417.7,532.5 418.6,518.8 C419.5,505.1 420.1,496.9 420.8,491.4 C421.5,485.9 422.1,486.0 423.0,486.0 C423.9,486.0 425.2,487.8 426.3,491.4 C427.4,495.0 428.5,501.5 429.6,507.9 C430.7,514.3 431.8,520.7 432.9,529.8 C434.0,538.9 435.0,551.6 436.1,562.6 C437.2,573.6 438.1,588.2 439.4,595.5 C440.7,602.8 442.3,602.8 443.8,606.4 C445.3,610.0 446.7,613.7 448.2,617.4 C449.7,621.1 451.1,624.9 452.6,628.4 C454.1,631.9 455.6,636.0 457.0,638.2 C458.4,640.4 459.4,639.5 460.8,641.5 C462.2,643.5 464.1,646.1 465.7,650.3 C467.2,654.5 468.6,662.7 470.1,666.7 C471.6,670.7 472.5,672.8 474.5,674.4 C476.5,676.0 478.2,676.1 482.2,676.6 C486.2,677.1 494.1,677.4 498.6,677.6 C503.2,677.8 506.6,678.0 509.5,677.6 C512.4,677.2 513.9,676.2 516.1,675.5 C518.3,674.8 520.3,672.9 522.7,673.3 C525.1,673.6 519.9,676.8 530.4,677.6 C540.9,678.4 576.7,677.9 586.0,678.0" fill="none" stroke="#e4566a" stroke-width="1.4" opacity="0.8"/>
<line x1="365.0" y1="460.7" x2="365.0" y2="681.0" stroke="#6a6a6a" stroke-width="1.5"/>
<line x1="364.0" y1="680.0" x2="589.5" y2="680.0" stroke="#2a2a2a" stroke-width="2.2"/>
<line x1="365.0" y1="680.0" x2="365.0" y2="685.0" stroke="#222" stroke-width="2"/>
<text x="369.5" y="698.5" font-size="9" fill="#a8a8a8" text-anchor="start" textLength="8" lengthAdjust="spacingAndGlyphs">10</text>
<text x="378.0" y="693.0" font-size="6.5" fill="#a8a8a8">0</text>
<line x1="381.8" y1="680.0" x2="381.8" y2="682.5" stroke="#555" stroke-width="1.2"/>
<line x1="391.7" y1="680.0" x2="391.7" y2="682.5" stroke="#555" stroke-width="1.2"/>
<line x1="398.6" y1="680.0" x2="398.6" y2="682.5" stroke="#555" stroke-width="1.2"/>
<line x1="404.1" y1="680.0" x2="404.1" y2="682.5" stroke="#555" stroke-width="1.2"/>
<line x1="408.5" y1="680.0" x2="408.5" y2="682.5" stroke="#555" stroke-width="1.2"/>
<line x1="412.2" y1="680.0" x2="412.2" y2="682.5" stroke="#555" stroke-width="1.2"/>
<line x1="415.5" y1="680.0" x2="415.5" y2="682.5" stroke="#555" stroke-width="1.2"/>
<line x1="418.3" y1="680.0" x2="418.3" y2="682.5" stroke="#555" stroke-width="1.2"/>
<line x1="420.9" y1="680.0" x2="420.9" y2="685.0" stroke="#222" stroke-width="2"/>
<text x="425.4" y="698.5" font-size="9" fill="#a8a8a8" text-anchor="start" textLength="8" lengthAdjust="spacingAndGlyphs">10</text>
<text x="433.9" y="693.0" font-size="6.5" fill="#a8a8a8">1</text>
<line x1="437.7" y1="680.0" x2="437.7" y2="682.5" stroke="#555" stroke-width="1.2"/>
<line x1="447.5" y1="680.0" x2="447.5" y2="682.5" stroke="#555" stroke-width="1.2"/>
<line x1="454.5" y1="680.0" x2="454.5" y2="682.5" stroke="#555" stroke-width="1.2"/>
<line x1="459.9" y1="680.0" x2="459.9" y2="682.5" stroke="#555" stroke-width="1.2"/>
<line x1="464.4" y1="680.0" x2="464.4" y2="682.5" stroke="#555" stroke-width="1.2"/>
<line x1="468.1" y1="680.0" x2="468.1" y2="682.5" stroke="#555" stroke-width="1.2"/>
<line x1="471.3" y1="680.0" x2="471.3" y2="682.5" stroke="#555" stroke-width="1.2"/>
<line x1="474.2" y1="680.0" x2="474.2" y2="682.5" stroke="#555" stroke-width="1.2"/>
<line x1="476.8" y1="680.0" x2="476.8" y2="685.0" stroke="#222" stroke-width="2"/>
<text x="481.2" y="698.5" font-size="9" fill="#a8a8a8" text-anchor="start" textLength="8" lengthAdjust="spacingAndGlyphs">10</text>
<text x="489.8" y="693.0" font-size="6.5" fill="#a8a8a8">2</text>
<line x1="493.6" y1="680.0" x2="493.6" y2="682.5" stroke="#555" stroke-width="1.2"/>
<line x1="503.4" y1="680.0" x2="503.4" y2="682.5" stroke="#555" stroke-width="1.2"/>
<line x1="510.4" y1="680.0" x2="510.4" y2="682.5" stroke="#555" stroke-width="1.2"/>
<line x1="515.8" y1="680.0" x2="515.8" y2="682.5" stroke="#555" stroke-width="1.2"/>
<line x1="520.2" y1="680.0" x2="520.2" y2="682.5" stroke="#555" stroke-width="1.2"/>
<line x1="524.0" y1="680.0" x2="524.0" y2="682.5" stroke="#555" stroke-width="1.2"/>
<line x1="527.2" y1="680.0" x2="527.2" y2="682.5" stroke="#555" stroke-width="1.2"/>
<line x1="530.1" y1="680.0" x2="530.1" y2="682.5" stroke="#555" stroke-width="1.2"/>
<line x1="532.6" y1="680.0" x2="532.6" y2="685.0" stroke="#222" stroke-width="2"/>
<text x="537.1" y="698.5" font-size="9" fill="#a8a8a8" text-anchor="start" textLength="8" lengthAdjust="spacingAndGlyphs">10</text>
<text x="545.6" y="693.0" font-size="6.5" fill="#a8a8a8">3</text>
<line x1="549.4" y1="680.0" x2="549.4" y2="682.5" stroke="#555" stroke-width="1.2"/>
<line x1="559.3" y1="680.0" x2="559.3" y2="682.5" stroke="#555" stroke-width="1.2"/>
<line x1="566.3" y1="680.0" x2="566.3" y2="682.5" stroke="#555" stroke-width="1.2"/>
<line x1="571.7" y1="680.0" x2="571.7" y2="682.5" stroke="#555" stroke-width="1.2"/>
<line x1="576.1" y1="680.0" x2="576.1" y2="682.5" stroke="#555" stroke-width="1.2"/>
<line x1="579.8" y1="680.0" x2="579.8" y2="682.5" stroke="#555" stroke-width="1.2"/>
<line x1="583.1" y1="680.0" x2="583.1" y2="682.5" stroke="#555" stroke-width="1.2"/>
<line x1="585.9" y1="680.0" x2="585.9" y2="682.5" stroke="#555" stroke-width="1.2"/>
<line x1="588.5" y1="680.0" x2="588.5" y2="685.0" stroke="#222" stroke-width="2"/>
<text x="593.0" y="698.5" font-size="9" fill="#a8a8a8" text-anchor="start" textLength="8" lengthAdjust="spacingAndGlyphs">10</text>
<text x="601.5" y="693.0" font-size="6.5" fill="#a8a8a8">4</text>
<line x1="359.0" y1="678.0" x2="365.0" y2="678.0" stroke="#555" stroke-width="2.2"/>
<text x="356.0" y="680.0" font-size="6" fill="#a0a0a0" text-anchor="end">0</text>
<line x1="359.0" y1="612.0" x2="365.0" y2="612.0" stroke="#555" stroke-width="2.2"/>
<text x="356.0" y="614.0" font-size="6" fill="#a0a0a0" text-anchor="end">20</text>
<line x1="359.0" y1="545.0" x2="365.0" y2="545.0" stroke="#555" stroke-width="2.2"/>
<text x="356.0" y="547.0" font-size="6" fill="#a0a0a0" text-anchor="end">40</text>
<line x1="359.0" y1="478.0" x2="365.0" y2="478.0" stroke="#555" stroke-width="2.2"/>
<text x="356.0" y="480.0" font-size="6" fill="#a0a0a0" text-anchor="end">60</text>
<line x1="362.0" y1="678.0" x2="365.0" y2="678.0" stroke="#666" stroke-width="1.2"/>
<line x1="362.0" y1="661.5" x2="365.0" y2="661.5" stroke="#666" stroke-width="1.2"/>
<line x1="362.0" y1="645.0" x2="365.0" y2="645.0" stroke="#666" stroke-width="1.2"/>
<line x1="362.0" y1="628.5" x2="365.0" y2="628.5" stroke="#666" stroke-width="1.2"/>
<line x1="362.0" y1="612.0" x2="365.0" y2="612.0" stroke="#666" stroke-width="1.2"/>
<line x1="362.0" y1="595.5" x2="365.0" y2="595.5" stroke="#666" stroke-width="1.2"/>
<line x1="362.0" y1="579.0" x2="365.0" y2="579.0" stroke="#666" stroke-width="1.2"/>
<line x1="362.0" y1="562.5" x2="365.0" y2="562.5" stroke="#666" stroke-width="1.2"/>
<line x1="362.0" y1="546.0" x2="365.0" y2="546.0" stroke="#666" stroke-width="1.2"/>
<line x1="362.0" y1="529.5" x2="365.0" y2="529.5" stroke="#666" stroke-width="1.2"/>
<line x1="362.0" y1="513.0" x2="365.0" y2="513.0" stroke="#666" stroke-width="1.2"/>
<line x1="362.0" y1="496.5" x2="365.0" y2="496.5" stroke="#666" stroke-width="1.2"/>
<line x1="362.0" y1="480.0" x2="365.0" y2="480.0" stroke="#666" stroke-width="1.2"/>
<line x1="407.2" y1="570.0" x2="532.6" y2="570.0" stroke="#1a1a1a" stroke-width="2.4"/>
<line x1="409.2" y1="573.2" x2="530.6" y2="573.2" stroke="#f6f6f6" stroke-width="1.6" stroke-dasharray="6 3"/>
<line x1="407.2" y1="565.5" x2="407.2" y2="574.5" stroke="#1a1a1a" stroke-width="2.0"/>
<line x1="422.0" y1="567.5" x2="422.0" y2="572.5" stroke="#1a1a1a" stroke-width="2.0"/>
<line x1="436.6" y1="567.5" x2="436.6" y2="572.5" stroke="#1a1a1a" stroke-width="2.0"/>
<line x1="455.0" y1="567.5" x2="455.0" y2="572.5" stroke="#1a1a1a" stroke-width="2.0"/>
<line x1="474.4" y1="567.5" x2="474.4" y2="572.5" stroke="#1a1a1a" stroke-width="2.0"/>
<line x1="493.0" y1="567.5" x2="493.0" y2="572.5" stroke="#1a1a1a" stroke-width="2.0"/>
<line x1="512.4" y1="567.5" x2="512.4" y2="572.5" stroke="#1a1a1a" stroke-width="2.0"/>
<line x1="532.6" y1="565.5" x2="532.6" y2="574.5" stroke="#1a1a1a" stroke-width="2.0"/>
<text x="414.6" y="565.4" font-size="15.5" font-weight="bold" text-anchor="middle" fill="#111" stroke="#111" stroke-width="0.5">6</text>
<text x="429.3" y="565.4" font-size="15.5" font-weight="bold" text-anchor="middle" fill="#111" stroke="#111" stroke-width="0.5">5</text>
<text x="445.8" y="565.4" font-size="15.5" font-weight="bold" text-anchor="middle" fill="#111" stroke="#111" stroke-width="0.5">4</text>
<text x="464.7" y="565.4" font-size="15.5" font-weight="bold" text-anchor="middle" fill="#111" stroke="#111" stroke-width="0.5">3</text>
<text x="483.7" y="565.4" font-size="15.5" font-weight="bold" text-anchor="middle" fill="#111" stroke="#111" stroke-width="0.5">2</text>
<text x="502.7" y="565.4" font-size="15.5" font-weight="bold" text-anchor="middle" fill="#111" stroke="#111" stroke-width="0.5">1</text>
<text x="522.5" y="565.4" font-size="15.5" font-weight="bold" text-anchor="middle" fill="#111" stroke="#111" stroke-width="0.5">0</text>
<rect x="518.7" y="472.8" width="69.8" height="51.7" fill="#fff" opacity="0.35"/>
<text x="522.7" y="492.8" font-size="20.4" font-weight="bold" text-anchor="start" fill="#111" textLength="61.8" lengthAdjust="spacingAndGlyphs" stroke="#111" stroke-width="0.6">%D: 80</text>
<text x="522.7" y="517.5" font-size="20.4" font-weight="bold" text-anchor="start" fill="#111" textLength="54.4" lengthAdjust="spacingAndGlyphs" stroke="#111" stroke-width="0.6">PI: 3.8</text>
<rect x="686.7" y="459.8" width="112.8" height="219.6" fill="#d3d3d5"/>
<line x1="632.4" y1="459.8" x2="856.8" y2="459.8" stroke="#a0a0a0" stroke-width="1.8"/>
<line x1="856.8" y1="459.8" x2="856.8" y2="679.4" stroke="#a0a0a0" stroke-width="1.4"/>
<path d="M681.4,679.4 L682.0,679.4 L682.6,679.3 L683.2,679.2 L683.8,679.0 L684.4,678.7 L685.0,678.1 L685.6,677.0 L686.2,675.4 L686.8,672.9 L687.4,669.2 L688.0,663.9 L688.6,656.6 L689.2,647.1 L689.8,635.3 L690.4,621.2 L691.0,605.2 L691.6,588.1 L692.2,570.9 L692.8,554.9 L693.4,541.6 L694.0,532.1 L694.6,527.3 L695.2,527.9 L695.8,533.6 L696.4,544.0 L697.0,558.0 L697.6,574.3 L698.2,591.5 L698.8,608.5 L699.4,624.2 L700.0,637.8 L700.6,649.2 L701.2,658.2 L701.8,665.1 L702.4,670.0 L703.0,673.5 L703.6,675.8 L704.2,677.3 L704.8,678.2 L705.4,678.7 L706.0,679.1 L706.6,679.2 L707.2,679.3 L707.8,679.4" fill="none" stroke="#a03cb0" stroke-width="2.0" opacity="0.9"/>
<path d="M684.9,679.4 L685.5,679.4 L686.1,679.3 L686.7,679.2 L687.3,679.0 L687.9,678.7 L688.5,678.0 L689.1,676.9 L689.7,675.2 L690.3,672.4 L690.9,668.3 L691.5,662.6 L692.1,654.8 L692.7,644.8 L693.3,632.7 L693.9,618.8 L694.5,603.9 L695.1,589.1 L695.7,575.5 L696.3,564.6 L696.9,557.5 L697.5,555.0 L698.1,556.8 L698.7,562.1 L699.3,570.4 L699.9,581.1 L700.5,593.2 L701.1,606.1 L701.7,618.8 L702.3,630.8 L702.9,641.6 L703.5,650.8 L704.1,658.4 L704.7,664.4 L705.3,669.0 L705.9,672.4 L706.5,674.8 L707.1,676.5 L707.7,677.6 L708.3,678.3 L708.9,678.8 L709.5,679.1 L710.1,679.2 L710.7,679.3 L711.3,679.3 L711.9,679.4" fill="none" stroke="#9a48b8" stroke-width="2.0" opacity="0.9"/>
<path d="M706.3,679.4 L706.9,679.4 L707.5,679.4 L708.1,679.3 L708.7,679.3 L709.3,679.2 L709.9,679.1 L710.5,678.9 L711.1,678.6 L711.7,678.1 L712.3,677.3 L712.9,676.3 L713.5,674.8 L714.1,672.8 L714.7,670.3 L715.3,667.2 L715.9,663.6 L716.5,659.4 L717.1,654.8 L717.7,650.0 L718.3,645.4 L718.9,641.1 L719.5,637.6 L720.1,635.1 L720.7,633.8 L721.3,633.7 L721.9,634.5 L722.5,636.1 L723.1,638.3 L723.7,641.1 L724.3,644.4 L724.9,647.9 L725.5,651.6 L726.1,655.3 L726.7,658.9 L727.3,662.2 L727.9,665.3 L728.5,668.0 L729.1,670.3 L729.7,672.3 L730.3,674.0 L730.9,675.3 L731.5,676.4 L732.1,677.2 L732.7,677.8 L733.3,678.3 L733.9,678.6 L734.5,678.9 L735.1,679.1 L735.7,679.2 L736.3,679.3 L736.9,679.3 L737.5,679.3 L738.1,679.4 L738.7,679.4 L739.3,679.4 L739.9,679.4" fill="none" stroke="#56542c" stroke-width="2.0" opacity="0.9"/>
<path d="M725.6,679.4 L726.2,679.4 L726.8,679.4 L727.4,679.4 L728.0,679.4 L728.6,679.3 L729.2,679.3 L729.8,679.2 L730.4,679.1 L731.0,678.9 L731.6,678.7 L732.2,678.4 L732.8,677.9 L733.4,677.3 L734.0,676.6 L734.6,675.5 L735.2,674.3 L735.8,672.7 L736.4,670.9 L737.0,668.8 L737.6,666.4 L738.2,663.8 L738.8,661.1 L739.4,658.3 L740.0,655.6 L740.6,653.1 L741.2,651.0 L741.8,649.2 L742.4,648.0 L743.0,647.5 L743.6,647.5 L744.2,648.2 L744.8,649.5 L745.4,651.4 L746.0,653.6 L746.6,656.2 L747.2,658.9 L747.8,661.7 L748.4,664.4 L749.0,666.9 L749.6,669.2 L750.2,671.3 L750.8,673.1 L751.4,674.6 L752.0,675.8 L752.6,676.7 L753.2,677.5 L753.8,678.0 L754.4,678.5 L755.0,678.8 L755.6,679.0 L756.2,679.1 L756.8,679.2 L757.4,679.3 L758.0,679.3 L758.6,679.4 L759.2,679.4 L759.8,679.4 L760.4,679.4" fill="none" stroke="#6cc04e" stroke-width="2.0" opacity="0.9"/>
<path d="M739.2,679.4 L739.8,679.4 L740.4,679.4 L741.0,679.4 L741.6,679.4 L742.2,679.4 L742.8,679.4 L743.4,679.3 L744.0,679.3 L744.6,679.2 L745.2,679.1 L745.8,679.0 L746.4,678.8 L747.0,678.6 L747.6,678.3 L748.2,677.8 L748.8,677.3 L749.4,676.7 L750.0,676.0 L750.6,675.2 L751.2,674.3 L751.8,673.4 L752.4,672.5 L753.0,671.5 L753.6,670.7 L754.2,670.0 L754.8,669.5 L755.4,669.1 L756.0,669.0 L756.6,669.1 L757.2,669.5 L757.8,670.0 L758.4,670.7 L759.0,671.5 L759.6,672.5 L760.2,673.4 L760.8,674.3 L761.4,675.2 L762.0,676.0 L762.6,676.7 L763.2,677.3 L763.8,677.8 L764.4,678.3 L765.0,678.6 L765.6,678.8 L766.2,679.0 L766.8,679.1 L767.4,679.2 L768.0,679.3 L768.6,679.3 L769.2,679.4 L769.8,679.4 L770.4,679.4 L771.0,679.4 L771.6,679.4 L772.2,679.4 L772.8,679.4" fill="none" stroke="#a8d05a" stroke-width="2.0" opacity="0.9"/>
<path d="M772.0,679.4 L772.6,679.4 L773.2,679.4 L773.8,679.4 L774.4,679.4 L775.0,679.3 L775.6,679.3 L776.2,679.2 L776.8,679.2 L777.4,679.0 L778.0,678.8 L778.6,678.6 L779.2,678.2 L779.8,677.7 L780.4,677.1 L781.0,676.3 L781.6,675.2 L782.2,674.0 L782.8,672.5 L783.4,670.7 L784.0,668.8 L784.6,666.7 L785.2,664.5 L785.8,662.2 L786.4,660.0 L787.0,658.0 L787.6,656.2 L788.2,654.8 L788.8,653.8 L789.4,653.3 L790.0,653.4 L790.6,654.0 L791.2,655.0 L791.8,656.5 L792.4,658.4 L793.0,660.4 L793.6,662.7 L794.2,664.9 L794.8,667.1 L795.4,669.2 L796.0,671.1 L796.6,672.8 L797.2,674.2 L797.8,675.4 L798.4,676.4 L799.0,677.2 L799.6,677.8 L800.2,678.3 L800.8,678.6 L801.4,678.9 L802.0,679.1 L802.6,679.2 L803.2,679.3 L803.8,679.3 L804.4,679.3 L805.0,679.4 L805.6,679.4 L806.2,679.4 L806.8,679.4" fill="none" stroke="#3f8f9c" stroke-width="2.0" opacity="0.9"/>
<path d="M770.3,679.4 L770.9,679.4 L771.5,679.4 L772.1,679.4 L772.7,679.4 L773.3,679.4 L773.9,679.3 L774.5,679.3 L775.1,679.2 L775.7,679.2 L776.3,679.0 L776.9,678.9 L777.5,678.7 L778.1,678.4 L778.7,678.0 L779.3,677.5 L779.9,676.9 L780.5,676.1 L781.1,675.2 L781.7,674.1 L782.3,672.8 L782.9,671.4 L783.5,669.7 L784.1,668.0 L784.7,666.2 L785.3,664.3 L785.9,662.5 L786.5,660.8 L787.1,659.3 L787.7,658.0 L788.3,656.9 L788.9,656.3 L789.5,656.0 L790.1,656.1 L790.7,656.6 L791.3,657.5 L791.9,658.7 L792.5,660.2 L793.1,661.8 L793.7,663.6 L794.3,665.5 L794.9,667.3 L795.5,669.1 L796.1,670.7 L796.7,672.2 L797.3,673.6 L797.9,674.8 L798.5,675.8 L799.1,676.6 L799.7,677.3 L800.3,677.8 L800.9,678.2 L801.5,678.6 L802.1,678.8 L802.7,679.0 L803.3,679.1 L803.9,679.2 L804.5,679.3 L805.1,679.3 L805.7,679.3 L806.3,679.4 L806.9,679.4 L807.5,679.4 L808.1,679.4 L808.7,679.4" fill="none" stroke="#6fd0d8" stroke-width="2.0" opacity="0.9"/>
<path d="M634.0,678.5 C640.0,678.5 663.2,678.9 670.0,678.5 C676.8,678.1 673.3,678.5 675.0,676.0 C676.7,673.5 678.5,670.3 680.0,663.2 C681.5,656.1 682.8,643.5 683.9,633.6 C685.0,623.7 685.9,615.4 686.9,603.9 C687.9,592.4 688.8,575.9 689.8,564.4 C690.8,552.9 692.0,541.0 692.8,534.8 C693.6,528.5 694.1,526.1 694.8,526.9 C695.5,527.7 696.5,533.5 697.2,539.7 C697.9,546.0 698.5,557.3 699.2,564.4 C700.0,571.5 700.8,577.6 701.7,582.2 C702.6,586.8 703.5,586.8 704.6,592.1 C705.8,597.4 707.3,606.9 708.6,613.8 C709.9,620.7 711.4,629.1 712.5,633.6 C713.6,638.1 714.2,640.5 715.5,640.5 C716.8,640.5 718.7,633.8 720.5,633.6 C722.3,633.4 724.6,637.2 726.4,639.5 C728.2,641.8 729.8,645.4 731.3,647.4 C732.8,649.4 733.8,651.4 735.3,651.4 C736.8,651.4 738.7,648.1 740.2,647.4 C741.7,646.7 742.6,645.8 744.2,647.4 C745.9,649.0 748.1,654.7 750.1,657.3 C752.1,659.9 753.7,661.1 756.0,663.2 C758.3,665.3 761.3,668.3 763.9,670.1 C766.5,671.9 769.6,673.1 771.8,674.1 C773.9,675.1 775.1,677.3 776.8,676.0 C778.4,674.7 779.6,670.0 781.7,666.2 C783.8,662.4 787.3,654.1 789.6,653.3 C791.9,652.5 793.8,657.9 795.6,661.2 C797.4,664.5 798.5,670.3 800.5,673.1 C802.5,675.9 798.3,677.1 807.4,678.0 C816.5,678.9 847.1,678.4 855.0,678.5" fill="none" stroke="#e4566a" stroke-width="1.4" opacity="0.8"/>
<line x1="632.4" y1="458.8" x2="632.4" y2="680.4" stroke="#6a6a6a" stroke-width="1.5"/>
<line x1="631.4" y1="679.4" x2="857.8" y2="679.4" stroke="#2a2a2a" stroke-width="2.2"/>
<line x1="632.4" y1="679.4" x2="632.4" y2="684.4" stroke="#222" stroke-width="2"/>
<text x="636.9" y="697.9" font-size="9" fill="#a8a8a8" text-anchor="start" textLength="8" lengthAdjust="spacingAndGlyphs">10</text>
<text x="645.4" y="692.4" font-size="6.5" fill="#a8a8a8">0</text>
<line x1="649.3" y1="679.4" x2="649.3" y2="681.9" stroke="#555" stroke-width="1.2"/>
<line x1="659.2" y1="679.4" x2="659.2" y2="681.9" stroke="#555" stroke-width="1.2"/>
<line x1="666.2" y1="679.4" x2="666.2" y2="681.9" stroke="#555" stroke-width="1.2"/>
<line x1="671.6" y1="679.4" x2="671.6" y2="681.9" stroke="#555" stroke-width="1.2"/>
<line x1="676.1" y1="679.4" x2="676.1" y2="681.9" stroke="#555" stroke-width="1.2"/>
<line x1="679.8" y1="679.4" x2="679.8" y2="681.9" stroke="#555" stroke-width="1.2"/>
<line x1="683.1" y1="679.4" x2="683.1" y2="681.9" stroke="#555" stroke-width="1.2"/>
<line x1="685.9" y1="679.4" x2="685.9" y2="681.9" stroke="#555" stroke-width="1.2"/>
<line x1="688.5" y1="679.4" x2="688.5" y2="684.4" stroke="#222" stroke-width="2"/>
<text x="693.0" y="697.9" font-size="9" fill="#a8a8a8" text-anchor="start" textLength="8" lengthAdjust="spacingAndGlyphs">10</text>
<text x="701.5" y="692.4" font-size="6.5" fill="#a8a8a8">1</text>
<line x1="705.4" y1="679.4" x2="705.4" y2="681.9" stroke="#555" stroke-width="1.2"/>
<line x1="715.3" y1="679.4" x2="715.3" y2="681.9" stroke="#555" stroke-width="1.2"/>
<line x1="722.3" y1="679.4" x2="722.3" y2="681.9" stroke="#555" stroke-width="1.2"/>
<line x1="727.7" y1="679.4" x2="727.7" y2="681.9" stroke="#555" stroke-width="1.2"/>
<line x1="732.2" y1="679.4" x2="732.2" y2="681.9" stroke="#555" stroke-width="1.2"/>
<line x1="735.9" y1="679.4" x2="735.9" y2="681.9" stroke="#555" stroke-width="1.2"/>
<line x1="739.2" y1="679.4" x2="739.2" y2="681.9" stroke="#555" stroke-width="1.2"/>
<line x1="742.0" y1="679.4" x2="742.0" y2="681.9" stroke="#555" stroke-width="1.2"/>
<line x1="744.6" y1="679.4" x2="744.6" y2="684.4" stroke="#222" stroke-width="2"/>
<text x="749.1" y="697.9" font-size="9" fill="#a8a8a8" text-anchor="start" textLength="8" lengthAdjust="spacingAndGlyphs">10</text>
<text x="757.6" y="692.4" font-size="6.5" fill="#a8a8a8">2</text>
<line x1="761.5" y1="679.4" x2="761.5" y2="681.9" stroke="#555" stroke-width="1.2"/>
<line x1="771.4" y1="679.4" x2="771.4" y2="681.9" stroke="#555" stroke-width="1.2"/>
<line x1="778.4" y1="679.4" x2="778.4" y2="681.9" stroke="#555" stroke-width="1.2"/>
<line x1="783.8" y1="679.4" x2="783.8" y2="681.9" stroke="#555" stroke-width="1.2"/>
<line x1="788.3" y1="679.4" x2="788.3" y2="681.9" stroke="#555" stroke-width="1.2"/>
<line x1="792.0" y1="679.4" x2="792.0" y2="681.9" stroke="#555" stroke-width="1.2"/>
<line x1="795.3" y1="679.4" x2="795.3" y2="681.9" stroke="#555" stroke-width="1.2"/>
<line x1="798.1" y1="679.4" x2="798.1" y2="681.9" stroke="#555" stroke-width="1.2"/>
<line x1="800.7" y1="679.4" x2="800.7" y2="684.4" stroke="#222" stroke-width="2"/>
<text x="805.2" y="697.9" font-size="9" fill="#a8a8a8" text-anchor="start" textLength="8" lengthAdjust="spacingAndGlyphs">10</text>
<text x="813.7" y="692.4" font-size="6.5" fill="#a8a8a8">3</text>
<line x1="817.6" y1="679.4" x2="817.6" y2="681.9" stroke="#555" stroke-width="1.2"/>
<line x1="827.5" y1="679.4" x2="827.5" y2="681.9" stroke="#555" stroke-width="1.2"/>
<line x1="834.5" y1="679.4" x2="834.5" y2="681.9" stroke="#555" stroke-width="1.2"/>
<line x1="839.9" y1="679.4" x2="839.9" y2="681.9" stroke="#555" stroke-width="1.2"/>
<line x1="844.4" y1="679.4" x2="844.4" y2="681.9" stroke="#555" stroke-width="1.2"/>
<line x1="848.1" y1="679.4" x2="848.1" y2="681.9" stroke="#555" stroke-width="1.2"/>
<line x1="851.4" y1="679.4" x2="851.4" y2="681.9" stroke="#555" stroke-width="1.2"/>
<line x1="854.2" y1="679.4" x2="854.2" y2="681.9" stroke="#555" stroke-width="1.2"/>
<line x1="856.8" y1="679.4" x2="856.8" y2="684.4" stroke="#222" stroke-width="2"/>
<text x="861.3" y="697.9" font-size="9" fill="#a8a8a8" text-anchor="start" textLength="8" lengthAdjust="spacingAndGlyphs">10</text>
<text x="869.8" y="692.4" font-size="6.5" fill="#a8a8a8">4</text>
<line x1="626.4" y1="678.0" x2="632.4" y2="678.0" stroke="#555" stroke-width="2.2"/>
<text x="623.4" y="680.0" font-size="6" fill="#a0a0a0" text-anchor="end">0</text>
<line x1="626.4" y1="632.0" x2="632.4" y2="632.0" stroke="#555" stroke-width="2.2"/>
<text x="623.4" y="634.0" font-size="6" fill="#a0a0a0" text-anchor="end">10</text>
<line x1="626.4" y1="584.0" x2="632.4" y2="584.0" stroke="#555" stroke-width="2.2"/>
<text x="623.4" y="586.0" font-size="6" fill="#a0a0a0" text-anchor="end">20</text>
<line x1="626.4" y1="535.0" x2="632.4" y2="535.0" stroke="#555" stroke-width="2.2"/>
<text x="623.4" y="537.0" font-size="6" fill="#a0a0a0" text-anchor="end">30</text>
<line x1="626.4" y1="487.0" x2="632.4" y2="487.0" stroke="#555" stroke-width="2.2"/>
<text x="623.4" y="489.0" font-size="6" fill="#a0a0a0" text-anchor="end">40</text>
<line x1="629.4" y1="678.0" x2="632.4" y2="678.0" stroke="#666" stroke-width="1.2"/>
<line x1="629.4" y1="666.5" x2="632.4" y2="666.5" stroke="#666" stroke-width="1.2"/>
<line x1="629.4" y1="655.0" x2="632.4" y2="655.0" stroke="#666" stroke-width="1.2"/>
<line x1="629.4" y1="643.5" x2="632.4" y2="643.5" stroke="#666" stroke-width="1.2"/>
<line x1="629.4" y1="632.0" x2="632.4" y2="632.0" stroke="#666" stroke-width="1.2"/>
<line x1="629.4" y1="620.5" x2="632.4" y2="620.5" stroke="#666" stroke-width="1.2"/>
<line x1="629.4" y1="609.0" x2="632.4" y2="609.0" stroke="#666" stroke-width="1.2"/>
<line x1="629.4" y1="597.5" x2="632.4" y2="597.5" stroke="#666" stroke-width="1.2"/>
<line x1="629.4" y1="586.0" x2="632.4" y2="586.0" stroke="#666" stroke-width="1.2"/>
<line x1="629.4" y1="574.5" x2="632.4" y2="574.5" stroke="#666" stroke-width="1.2"/>
<line x1="629.4" y1="563.0" x2="632.4" y2="563.0" stroke="#666" stroke-width="1.2"/>
<line x1="629.4" y1="551.5" x2="632.4" y2="551.5" stroke="#666" stroke-width="1.2"/>
<line x1="629.4" y1="540.0" x2="632.4" y2="540.0" stroke="#666" stroke-width="1.2"/>
<line x1="629.4" y1="528.5" x2="632.4" y2="528.5" stroke="#666" stroke-width="1.2"/>
<line x1="629.4" y1="517.0" x2="632.4" y2="517.0" stroke="#666" stroke-width="1.2"/>
<line x1="629.4" y1="505.5" x2="632.4" y2="505.5" stroke="#666" stroke-width="1.2"/>
<line x1="629.4" y1="494.0" x2="632.4" y2="494.0" stroke="#666" stroke-width="1.2"/>
<line x1="629.4" y1="482.5" x2="632.4" y2="482.5" stroke="#666" stroke-width="1.2"/>
<line x1="629.4" y1="471.0" x2="632.4" y2="471.0" stroke="#666" stroke-width="1.2"/>
<line x1="685.2" y1="569.4" x2="800.0" y2="569.4" stroke="#1a1a1a" stroke-width="2.4"/>
<line x1="687.2" y1="572.6" x2="798.0" y2="572.6" stroke="#f6f6f6" stroke-width="1.6" stroke-dasharray="6 3"/>
<line x1="685.2" y1="564.9" x2="685.2" y2="573.9" stroke="#1a1a1a" stroke-width="2.0"/>
<line x1="699.4" y1="566.9" x2="699.4" y2="571.9" stroke="#1a1a1a" stroke-width="2.0"/>
<line x1="716.0" y1="566.9" x2="716.0" y2="571.9" stroke="#1a1a1a" stroke-width="2.0"/>
<line x1="734.8" y1="566.9" x2="734.8" y2="571.9" stroke="#1a1a1a" stroke-width="2.0"/>
<line x1="755.9" y1="566.9" x2="755.9" y2="571.9" stroke="#1a1a1a" stroke-width="2.0"/>
<line x1="778.4" y1="566.9" x2="778.4" y2="571.9" stroke="#1a1a1a" stroke-width="2.0"/>
<line x1="800.0" y1="564.9" x2="800.0" y2="573.9" stroke="#1a1a1a" stroke-width="2.0"/>
<text x="692.3" y="564.8" font-size="15.5" font-weight="bold" text-anchor="middle" fill="#111" stroke="#111" stroke-width="0.5">5</text>
<text x="707.7" y="564.8" font-size="15.5" font-weight="bold" text-anchor="middle" fill="#111" stroke="#111" stroke-width="0.5">4</text>
<text x="725.4" y="564.8" font-size="15.5" font-weight="bold" text-anchor="middle" fill="#111" stroke="#111" stroke-width="0.5">3</text>
<text x="745.3" y="564.8" font-size="15.5" font-weight="bold" text-anchor="middle" fill="#111" stroke="#111" stroke-width="0.5">2</text>
<text x="767.1" y="564.8" font-size="15.5" font-weight="bold" text-anchor="middle" fill="#111" stroke="#111" stroke-width="0.5">1</text>
<text x="789.2" y="564.8" font-size="15.5" font-weight="bold" text-anchor="middle" fill="#111" stroke="#111" stroke-width="0.5">0</text>
<rect x="786.2" y="472.8" width="69.4" height="51.7" fill="#fff" opacity="0.35"/>
<text x="790.2" y="492.8" font-size="20.4" font-weight="bold" text-anchor="start" fill="#111" textLength="61.4" lengthAdjust="spacingAndGlyphs" stroke="#111" stroke-width="0.6">%D: 40</text>
<text x="790.2" y="517.5" font-size="20.4" font-weight="bold" text-anchor="start" fill="#111" textLength="54.1" lengthAdjust="spacingAndGlyphs" stroke="#111" stroke-width="0.6">PI: 2.7</text>
<rect x="943.0" y="459.8" width="129.3" height="218.7" fill="#d3d3d5"/>
<line x1="909.4" y1="459.8" x2="1135.0" y2="459.8" stroke="#a0a0a0" stroke-width="1.8"/>
<line x1="1135.0" y1="459.8" x2="1135.0" y2="678.5" stroke="#a0a0a0" stroke-width="1.4"/>
<path d="M945.2,678.5 L945.8,678.5 L946.4,678.5 L947.0,678.4 L947.6,678.4 L948.2,678.3 L948.8,678.1 L949.4,677.8 L950.0,677.3 L950.6,676.5 L951.2,675.3 L951.8,673.6 L952.4,671.4 L953.0,668.5 L953.6,665.0 L954.2,660.9 L954.8,656.6 L955.4,652.3 L956.0,648.3 L956.6,645.2 L957.2,643.1 L957.8,642.4 L958.4,643.1 L959.0,645.2 L959.6,648.3 L960.2,652.3 L960.8,656.6 L961.4,660.9 L962.0,665.0 L962.6,668.5 L963.2,671.4 L963.8,673.6 L964.4,675.3 L965.0,676.5 L965.6,677.3 L966.2,677.8 L966.8,678.1 L967.4,678.3 L968.0,678.4 L968.6,678.4 L969.2,678.5 L969.8,678.5 L970.4,678.5" fill="none" stroke="#2f9488" stroke-width="2.0" opacity="0.9"/>
<path d="M948.5,678.5 L949.1,678.5 L949.7,678.5 L950.3,678.4 L950.9,678.3 L951.5,678.1 L952.1,677.7 L952.7,677.1 L953.3,675.9 L953.9,674.2 L954.5,671.7 L955.1,668.3 L955.7,664.1 L956.3,659.2 L956.9,654.3 L957.5,649.7 L958.1,646.2 L958.7,644.2 L959.3,644.2 L959.9,646.2 L960.5,649.7 L961.1,654.3 L961.7,659.2 L962.3,664.1 L962.9,668.3 L963.5,671.7 L964.1,674.2 L964.7,675.9 L965.3,677.1 L965.9,677.7 L966.5,678.1 L967.1,678.3 L967.7,678.4 L968.3,678.5 L968.9,678.5 L969.5,678.5" fill="none" stroke="#4a72c0" stroke-width="2.0" opacity="0.9"/>
<path d="M944.0,678.5 L944.6,678.5 L945.2,678.5 L945.8,678.5 L946.4,678.5 L947.0,678.5 L947.6,678.5 L948.2,678.5 L948.8,678.5 L949.4,678.5 L950.0,678.5 L950.6,678.5 L951.2,678.5 L951.8,678.5 L952.4,678.5 L953.0,678.5 L953.6,678.5 L954.2,678.5 L954.8,678.5 L955.4,678.5 L956.0,678.5 L956.6,678.5 L957.2,678.4 L957.8,678.3 L958.4,677.7 L959.0,676.1 L959.6,672.5 L960.2,665.9 L960.8,655.3 L961.4,640.6 L962.0,622.4 L962.6,602.4 L963.2,582.5 L963.8,564.5 L964.4,549.6 L965.0,538.2 L965.6,530.2 L966.2,525.2 L966.8,522.3 L967.4,520.9 L968.0,520.4 L968.6,520.3 L969.2,520.3 L969.8,520.3 L970.4,520.4 L971.0,520.9 L971.6,522.3 L972.2,525.2 L972.8,530.2 L973.4,538.2 L974.0,549.6 L974.6,564.5 L975.2,582.5 L975.8,602.4 L976.4,622.4 L977.0,640.6 L977.6,655.3 L978.2,665.9 L978.8,672.5 L979.4,676.1 L980.0,677.7 L980.6,678.3 L981.2,678.4 L981.8,678.5 L982.4,678.5 L983.0,678.5 L983.6,678.5 L984.2,678.5 L984.8,678.5 L985.4,678.5 L986.0,678.5 L986.6,678.5 L987.2,678.5 L987.8,678.5 L988.4,678.5 L989.0,678.5 L989.6,678.5 L990.2,678.5 L990.8,678.5 L991.4,678.5 L992.0,678.5 L992.6,678.5 L993.2,678.5 L993.8,678.5 L994.4,678.5" fill="none" stroke="#a03cb0" stroke-width="2.0" opacity="0.9"/>
<path d="M973.6,678.5 L974.2,678.5 L974.8,678.5 L975.4,678.4 L976.0,678.4 L976.6,678.3 L977.2,678.2 L977.8,678.1 L978.4,677.8 L979.0,677.5 L979.6,676.9 L980.2,676.2 L980.8,675.1 L981.4,673.7 L982.0,671.9 L982.6,669.6 L983.2,666.6 L983.8,663.1 L984.4,659.1 L985.0,654.4 L985.6,649.3 L986.2,644.0 L986.8,638.5 L987.4,633.3 L988.0,628.5 L988.6,624.4 L989.2,621.2 L989.8,619.3 L990.4,618.6 L991.0,619.3 L991.6,621.2 L992.2,624.4 L992.8,628.5 L993.4,633.3 L994.0,638.5 L994.6,644.0 L995.2,649.3 L995.8,654.4 L996.4,659.1 L997.0,663.1 L997.6,666.6 L998.2,669.6 L998.8,671.9 L999.4,673.7 L1000.0,675.1 L1000.6,676.2 L1001.2,676.9 L1001.8,677.5 L1002.4,677.8 L1003.0,678.1 L1003.6,678.2 L1004.2,678.3 L1004.8,678.4 L1005.4,678.4 L1006.0,678.5 L1006.6,678.5 L1007.2,678.5" fill="none" stroke="#c48a80" stroke-width="2.0" opacity="0.9"/>
<path d="M984.6,678.5 L985.2,678.5 L985.8,678.5 L986.4,678.5 L987.0,678.4 L987.6,678.4 L988.2,678.3 L988.8,678.1 L989.4,677.9 L990.0,677.5 L990.6,676.9 L991.2,676.1 L991.8,675.0 L992.4,673.5 L993.0,671.5 L993.6,669.2 L994.2,666.3 L994.8,663.1 L995.4,659.6 L996.0,655.9 L996.6,652.4 L997.2,649.1 L997.8,646.4 L998.4,644.4 L999.0,643.4 L999.6,643.4 L1000.2,644.4 L1000.8,646.4 L1001.4,649.1 L1002.0,652.4 L1002.6,655.9 L1003.2,659.6 L1003.8,663.1 L1004.4,666.3 L1005.0,669.2 L1005.6,671.5 L1006.2,673.5 L1006.8,675.0 L1007.4,676.1 L1008.0,676.9 L1008.6,677.5 L1009.2,677.9 L1009.8,678.1 L1010.4,678.3 L1011.0,678.4 L1011.6,678.4 L1012.2,678.5 L1012.8,678.5 L1013.4,678.5 L1014.0,678.5" fill="none" stroke="#56542c" stroke-width="2.0" opacity="0.9"/>
<path d="M994.5,678.5 L995.1,678.5 L995.7,678.5 L996.3,678.5 L996.9,678.4 L997.5,678.4 L998.1,678.3 L998.7,678.1 L999.3,677.9 L999.9,677.5 L1000.5,677.0 L1001.1,676.2 L1001.7,675.2 L1002.3,673.7 L1002.9,671.9 L1003.5,669.7 L1004.1,667.0 L1004.7,664.0 L1005.3,660.7 L1005.9,657.2 L1006.5,653.8 L1007.1,650.8 L1007.7,648.2 L1008.3,646.4 L1008.9,645.4 L1009.5,645.4 L1010.1,646.4 L1010.7,648.2 L1011.3,650.8 L1011.9,653.8 L1012.5,657.2 L1013.1,660.7 L1013.7,664.0 L1014.3,667.0 L1014.9,669.7 L1015.5,671.9 L1016.1,673.7 L1016.7,675.2 L1017.3,676.2 L1017.9,677.0 L1018.5,677.5 L1019.1,677.9 L1019.7,678.1 L1020.3,678.3 L1020.9,678.4 L1021.5,678.4 L1022.1,678.5 L1022.7,678.5 L1023.3,678.5 L1023.9,678.5" fill="none" stroke="#56542c" stroke-width="2.0" opacity="0.9"/>
<path d="M1004.2,678.5 L1004.8,678.5 L1005.4,678.5 L1006.0,678.5 L1006.6,678.5 L1007.2,678.4 L1007.8,678.4 L1008.4,678.3 L1009.0,678.2 L1009.6,678.0 L1010.2,677.8 L1010.8,677.5 L1011.4,677.0 L1012.0,676.4 L1012.6,675.6 L1013.2,674.6 L1013.8,673.3 L1014.4,671.8 L1015.0,670.0 L1015.6,667.9 L1016.2,665.7 L1016.8,663.3 L1017.4,661.0 L1018.0,658.6 L1018.6,656.5 L1019.2,654.7 L1019.8,653.4 L1020.4,652.5 L1021.0,652.2 L1021.6,652.5 L1022.2,653.4 L1022.8,654.7 L1023.4,656.5 L1024.0,658.6 L1024.6,661.0 L1025.2,663.3 L1025.8,665.7 L1026.4,667.9 L1027.0,670.0 L1027.6,671.8 L1028.2,673.3 L1028.8,674.6 L1029.4,675.6 L1030.0,676.4 L1030.6,677.0 L1031.2,677.5 L1031.8,677.8 L1032.4,678.0 L1033.0,678.2 L1033.6,678.3 L1034.2,678.4 L1034.8,678.4 L1035.4,678.5 L1036.0,678.5 L1036.6,678.5 L1037.2,678.5 L1037.8,678.5" fill="none" stroke="#6cc04e" stroke-width="2.0" opacity="0.9"/>
<path d="M1020.0,678.5 L1020.6,678.5 L1021.2,678.5 L1021.8,678.5 L1022.4,678.5 L1023.0,678.5 L1023.6,678.5 L1024.2,678.4 L1024.8,678.4 L1025.4,678.3 L1026.0,678.2 L1026.6,678.1 L1027.2,677.9 L1027.8,677.7 L1028.4,677.3 L1029.0,676.9 L1029.6,676.4 L1030.2,675.8 L1030.8,675.1 L1031.4,674.3 L1032.0,673.4 L1032.6,672.4 L1033.2,671.5 L1033.8,670.6 L1034.4,669.7 L1035.0,669.0 L1035.6,668.5 L1036.2,668.1 L1036.8,668.0 L1037.4,668.1 L1038.0,668.5 L1038.6,669.0 L1039.2,669.7 L1039.8,670.6 L1040.4,671.5 L1041.0,672.4 L1041.6,673.4 L1042.2,674.3 L1042.8,675.1 L1043.4,675.8 L1044.0,676.4 L1044.6,676.9 L1045.2,677.3 L1045.8,677.7 L1046.4,677.9 L1047.0,678.1 L1047.6,678.2 L1048.2,678.3 L1048.8,678.4 L1049.4,678.4 L1050.0,678.5 L1050.6,678.5 L1051.2,678.5 L1051.8,678.5 L1052.4,678.5 L1053.0,678.5 L1053.6,678.5" fill="none" stroke="#a8d05a" stroke-width="2.0" opacity="0.9"/>
<path d="M1048.2,678.5 L1048.8,678.5 L1049.4,678.5 L1050.0,678.5 L1050.6,678.5 L1051.2,678.5 L1051.8,678.4 L1052.4,678.4 L1053.0,678.3 L1053.6,678.2 L1054.2,678.1 L1054.8,677.9 L1055.4,677.6 L1056.0,677.3 L1056.6,676.8 L1057.2,676.2 L1057.8,675.5 L1058.4,674.6 L1059.0,673.5 L1059.6,672.3 L1060.2,671.0 L1060.8,669.6 L1061.4,668.2 L1062.0,666.9 L1062.6,665.6 L1063.2,664.6 L1063.8,663.8 L1064.4,663.3 L1065.0,663.1 L1065.6,663.3 L1066.2,663.8 L1066.8,664.6 L1067.4,665.6 L1068.0,666.9 L1068.6,668.2 L1069.2,669.6 L1069.8,671.0 L1070.4,672.3 L1071.0,673.5 L1071.6,674.6 L1072.2,675.5 L1072.8,676.2 L1073.4,676.8 L1074.0,677.3 L1074.6,677.6 L1075.2,677.9 L1075.8,678.1 L1076.4,678.2 L1077.0,678.3 L1077.6,678.4 L1078.2,678.4 L1078.8,678.5 L1079.4,678.5 L1080.0,678.5 L1080.6,678.5 L1081.2,678.5 L1081.8,678.5" fill="none" stroke="#45acd0" stroke-width="2.0" opacity="0.9"/>
<path d="M911.0,678.4 C915.5,678.4 932.7,678.5 938.0,678.4 C943.3,678.3 941.0,679.6 943.0,677.9 C945.0,676.2 947.9,673.8 949.9,668.0 C951.9,662.2 953.5,651.5 954.8,643.3 C956.1,635.1 956.8,626.8 957.8,618.6 C958.8,610.4 959.8,606.2 960.8,593.9 C961.8,581.5 962.7,556.5 963.7,544.5 C964.7,532.5 965.7,525.9 966.7,521.8 C967.7,517.7 968.6,519.8 969.6,519.8 C970.6,519.8 971.6,517.7 972.6,521.8 C973.6,525.9 974.6,536.6 975.6,544.5 C976.6,552.4 977.5,561.0 978.5,569.2 C979.5,577.4 980.5,586.5 981.5,593.9 C982.5,601.3 983.5,608.8 984.5,613.7 C985.5,618.7 986.4,622.8 987.4,623.6 C988.4,624.4 989.4,617.8 990.4,618.6 C991.4,619.4 992.4,625.4 993.4,628.5 C994.4,631.6 995.1,635.4 996.3,637.4 C997.4,639.4 999.0,639.1 1000.3,640.4 C1001.6,641.7 1002.7,644.5 1004.2,645.3 C1005.7,646.1 1007.6,644.5 1009.2,645.3 C1010.9,646.1 1012.1,649.3 1014.1,650.3 C1016.1,651.3 1019.0,649.7 1021.0,651.2 C1023.0,652.7 1024.2,656.5 1026.0,659.1 C1027.8,661.7 1029.9,665.7 1031.9,667.0 C1033.9,668.3 1036.0,667.1 1037.8,667.0 C1039.6,666.9 1041.0,665.3 1042.8,666.1 C1044.6,666.9 1046.7,670.5 1048.7,672.0 C1050.7,673.5 1052.8,675.2 1054.6,675.0 C1056.4,674.8 1057.9,673.0 1059.6,671.0 C1061.3,669.0 1063.2,663.1 1065.0,663.1 C1066.8,663.1 1068.5,668.5 1070.4,671.0 C1072.3,673.5 1066.0,676.7 1076.4,677.9 C1086.8,679.1 1123.6,678.3 1133.0,678.4" fill="none" stroke="#e4566a" stroke-width="1.4" opacity="0.8"/>
<line x1="909.4" y1="458.8" x2="909.4" y2="679.5" stroke="#6a6a6a" stroke-width="1.5"/>
<line x1="908.4" y1="678.5" x2="1136.0" y2="678.5" stroke="#2a2a2a" stroke-width="2.2"/>
<line x1="909.4" y1="678.5" x2="909.4" y2="683.5" stroke="#222" stroke-width="2"/>
<text x="913.9" y="697.0" font-size="9" fill="#a8a8a8" text-anchor="start" textLength="8" lengthAdjust="spacingAndGlyphs">10</text>
<text x="922.4" y="691.5" font-size="6.5" fill="#a8a8a8">0</text>
<line x1="926.4" y1="678.5" x2="926.4" y2="681.0" stroke="#555" stroke-width="1.2"/>
<line x1="936.3" y1="678.5" x2="936.3" y2="681.0" stroke="#555" stroke-width="1.2"/>
<line x1="943.4" y1="678.5" x2="943.4" y2="681.0" stroke="#555" stroke-width="1.2"/>
<line x1="948.8" y1="678.5" x2="948.8" y2="681.0" stroke="#555" stroke-width="1.2"/>
<line x1="953.3" y1="678.5" x2="953.3" y2="681.0" stroke="#555" stroke-width="1.2"/>
<line x1="957.1" y1="678.5" x2="957.1" y2="681.0" stroke="#555" stroke-width="1.2"/>
<line x1="960.3" y1="678.5" x2="960.3" y2="681.0" stroke="#555" stroke-width="1.2"/>
<line x1="963.2" y1="678.5" x2="963.2" y2="681.0" stroke="#555" stroke-width="1.2"/>
<line x1="965.8" y1="678.5" x2="965.8" y2="683.5" stroke="#222" stroke-width="2"/>
<text x="970.3" y="697.0" font-size="9" fill="#a8a8a8" text-anchor="start" textLength="8" lengthAdjust="spacingAndGlyphs">10</text>
<text x="978.8" y="691.5" font-size="6.5" fill="#a8a8a8">1</text>
<line x1="982.8" y1="678.5" x2="982.8" y2="681.0" stroke="#555" stroke-width="1.2"/>
<line x1="992.7" y1="678.5" x2="992.7" y2="681.0" stroke="#555" stroke-width="1.2"/>
<line x1="999.8" y1="678.5" x2="999.8" y2="681.0" stroke="#555" stroke-width="1.2"/>
<line x1="1005.2" y1="678.5" x2="1005.2" y2="681.0" stroke="#555" stroke-width="1.2"/>
<line x1="1009.7" y1="678.5" x2="1009.7" y2="681.0" stroke="#555" stroke-width="1.2"/>
<line x1="1013.5" y1="678.5" x2="1013.5" y2="681.0" stroke="#555" stroke-width="1.2"/>
<line x1="1016.7" y1="678.5" x2="1016.7" y2="681.0" stroke="#555" stroke-width="1.2"/>
<line x1="1019.6" y1="678.5" x2="1019.6" y2="681.0" stroke="#555" stroke-width="1.2"/>
<line x1="1022.2" y1="678.5" x2="1022.2" y2="683.5" stroke="#222" stroke-width="2"/>
<text x="1026.7" y="697.0" font-size="9" fill="#a8a8a8" text-anchor="start" textLength="8" lengthAdjust="spacingAndGlyphs">10</text>
<text x="1035.2" y="691.5" font-size="6.5" fill="#a8a8a8">2</text>
<line x1="1039.2" y1="678.5" x2="1039.2" y2="681.0" stroke="#555" stroke-width="1.2"/>
<line x1="1049.1" y1="678.5" x2="1049.1" y2="681.0" stroke="#555" stroke-width="1.2"/>
<line x1="1056.2" y1="678.5" x2="1056.2" y2="681.0" stroke="#555" stroke-width="1.2"/>
<line x1="1061.6" y1="678.5" x2="1061.6" y2="681.0" stroke="#555" stroke-width="1.2"/>
<line x1="1066.1" y1="678.5" x2="1066.1" y2="681.0" stroke="#555" stroke-width="1.2"/>
<line x1="1069.9" y1="678.5" x2="1069.9" y2="681.0" stroke="#555" stroke-width="1.2"/>
<line x1="1073.1" y1="678.5" x2="1073.1" y2="681.0" stroke="#555" stroke-width="1.2"/>
<line x1="1076.0" y1="678.5" x2="1076.0" y2="681.0" stroke="#555" stroke-width="1.2"/>
<line x1="1078.6" y1="678.5" x2="1078.6" y2="683.5" stroke="#222" stroke-width="2"/>
<text x="1083.1" y="697.0" font-size="9" fill="#a8a8a8" text-anchor="start" textLength="8" lengthAdjust="spacingAndGlyphs">10</text>
<text x="1091.6" y="691.5" font-size="6.5" fill="#a8a8a8">3</text>
<line x1="1095.6" y1="678.5" x2="1095.6" y2="681.0" stroke="#555" stroke-width="1.2"/>
<line x1="1105.5" y1="678.5" x2="1105.5" y2="681.0" stroke="#555" stroke-width="1.2"/>
<line x1="1112.6" y1="678.5" x2="1112.6" y2="681.0" stroke="#555" stroke-width="1.2"/>
<line x1="1118.0" y1="678.5" x2="1118.0" y2="681.0" stroke="#555" stroke-width="1.2"/>
<line x1="1122.5" y1="678.5" x2="1122.5" y2="681.0" stroke="#555" stroke-width="1.2"/>
<line x1="1126.3" y1="678.5" x2="1126.3" y2="681.0" stroke="#555" stroke-width="1.2"/>
<line x1="1129.5" y1="678.5" x2="1129.5" y2="681.0" stroke="#555" stroke-width="1.2"/>
<line x1="1132.4" y1="678.5" x2="1132.4" y2="681.0" stroke="#555" stroke-width="1.2"/>
<line x1="1135.0" y1="678.5" x2="1135.0" y2="683.5" stroke="#222" stroke-width="2"/>
<text x="1139.5" y="697.0" font-size="9" fill="#a8a8a8" text-anchor="start" textLength="8" lengthAdjust="spacingAndGlyphs">10</text>
<text x="1148.0" y="691.5" font-size="6.5" fill="#a8a8a8">4</text>
<line x1="903.4" y1="677.0" x2="909.4" y2="677.0" stroke="#555" stroke-width="2.2"/>
<text x="900.4" y="679.0" font-size="6" fill="#a0a0a0" text-anchor="end">0</text>
<line x1="903.4" y1="631.0" x2="909.4" y2="631.0" stroke="#555" stroke-width="2.2"/>
<text x="900.4" y="633.0" font-size="6" fill="#a0a0a0" text-anchor="end">10</text>
<line x1="903.4" y1="588.0" x2="909.4" y2="588.0" stroke="#555" stroke-width="2.2"/>
<text x="900.4" y="590.0" font-size="6" fill="#a0a0a0" text-anchor="end">20</text>
<line x1="903.4" y1="545.0" x2="909.4" y2="545.0" stroke="#555" stroke-width="2.2"/>
<text x="900.4" y="547.0" font-size="6" fill="#a0a0a0" text-anchor="end">30</text>
<line x1="903.4" y1="500.0" x2="909.4" y2="500.0" stroke="#555" stroke-width="2.2"/>
<text x="900.4" y="502.0" font-size="6" fill="#a0a0a0" text-anchor="end">40</text>
<line x1="906.4" y1="677.0" x2="909.4" y2="677.0" stroke="#666" stroke-width="1.2"/>
<line x1="906.4" y1="665.5" x2="909.4" y2="665.5" stroke="#666" stroke-width="1.2"/>
<line x1="906.4" y1="654.0" x2="909.4" y2="654.0" stroke="#666" stroke-width="1.2"/>
<line x1="906.4" y1="642.5" x2="909.4" y2="642.5" stroke="#666" stroke-width="1.2"/>
<line x1="906.4" y1="631.0" x2="909.4" y2="631.0" stroke="#666" stroke-width="1.2"/>
<line x1="906.4" y1="619.5" x2="909.4" y2="619.5" stroke="#666" stroke-width="1.2"/>
<line x1="906.4" y1="608.0" x2="909.4" y2="608.0" stroke="#666" stroke-width="1.2"/>
<line x1="906.4" y1="596.5" x2="909.4" y2="596.5" stroke="#666" stroke-width="1.2"/>
<line x1="906.4" y1="585.0" x2="909.4" y2="585.0" stroke="#666" stroke-width="1.2"/>
<line x1="906.4" y1="573.5" x2="909.4" y2="573.5" stroke="#666" stroke-width="1.2"/>
<line x1="906.4" y1="562.0" x2="909.4" y2="562.0" stroke="#666" stroke-width="1.2"/>
<line x1="906.4" y1="550.5" x2="909.4" y2="550.5" stroke="#666" stroke-width="1.2"/>
<line x1="906.4" y1="539.0" x2="909.4" y2="539.0" stroke="#666" stroke-width="1.2"/>
<line x1="906.4" y1="527.5" x2="909.4" y2="527.5" stroke="#666" stroke-width="1.2"/>
<line x1="906.4" y1="516.0" x2="909.4" y2="516.0" stroke="#666" stroke-width="1.2"/>
<line x1="906.4" y1="504.5" x2="909.4" y2="504.5" stroke="#666" stroke-width="1.2"/>
<line x1="906.4" y1="493.0" x2="909.4" y2="493.0" stroke="#666" stroke-width="1.2"/>
<line x1="906.4" y1="481.5" x2="909.4" y2="481.5" stroke="#666" stroke-width="1.2"/>
<line x1="906.4" y1="470.0" x2="909.4" y2="470.0" stroke="#666" stroke-width="1.2"/>
<line x1="941.0" y1="568.7" x2="1072.7" y2="568.7" stroke="#1a1a1a" stroke-width="2.4"/>
<line x1="943.0" y1="571.9" x2="1070.7" y2="571.9" stroke="#f6f6f6" stroke-width="1.6" stroke-dasharray="6 3"/>
<line x1="941.0" y1="564.2" x2="941.0" y2="573.2" stroke="#1a1a1a" stroke-width="2.0"/>
<line x1="959.8" y1="566.2" x2="959.8" y2="571.2" stroke="#1a1a1a" stroke-width="2.0"/>
<line x1="977.2" y1="566.2" x2="977.2" y2="571.2" stroke="#1a1a1a" stroke-width="2.0"/>
<line x1="996.5" y1="566.2" x2="996.5" y2="571.2" stroke="#1a1a1a" stroke-width="2.0"/>
<line x1="1015.8" y1="566.2" x2="1015.8" y2="571.2" stroke="#1a1a1a" stroke-width="2.0"/>
<line x1="1035.0" y1="566.2" x2="1035.0" y2="571.2" stroke="#1a1a1a" stroke-width="2.0"/>
<line x1="1053.4" y1="566.2" x2="1053.4" y2="571.2" stroke="#1a1a1a" stroke-width="2.0"/>
<line x1="1072.7" y1="564.2" x2="1072.7" y2="573.2" stroke="#1a1a1a" stroke-width="2.0"/>
<text x="950.4" y="564.1" font-size="15.5" font-weight="bold" text-anchor="middle" fill="#111" stroke="#111" stroke-width="0.5">6</text>
<text x="968.5" y="564.1" font-size="15.5" font-weight="bold" text-anchor="middle" fill="#111" stroke="#111" stroke-width="0.5">5</text>
<text x="986.9" y="564.1" font-size="15.5" font-weight="bold" text-anchor="middle" fill="#111" stroke="#111" stroke-width="0.5">4</text>
<text x="1006.1" y="564.1" font-size="15.5" font-weight="bold" text-anchor="middle" fill="#111" stroke="#111" stroke-width="0.5">3</text>
<text x="1025.4" y="564.1" font-size="15.5" font-weight="bold" text-anchor="middle" fill="#111" stroke="#111" stroke-width="0.5">2</text>
<text x="1044.2" y="564.1" font-size="15.5" font-weight="bold" text-anchor="middle" fill="#111" stroke="#111" stroke-width="0.5">1</text>
<text x="1063.1" y="564.1" font-size="15.5" font-weight="bold" text-anchor="middle" fill="#111" stroke="#111" stroke-width="0.5">0</text>
<rect x="1064.9" y="472.8" width="68.8" height="51.7" fill="#fff" opacity="0.35"/>
<text x="1068.9" y="492.8" font-size="20.4" font-weight="bold" text-anchor="start" fill="#111" textLength="60.8" lengthAdjust="spacingAndGlyphs" stroke="#111" stroke-width="0.6">%D: 55</text>
<text x="1068.9" y="517.5" font-size="20.4" font-weight="bold" text-anchor="start" fill="#111" textLength="54.1" lengthAdjust="spacingAndGlyphs" stroke="#111" stroke-width="0.6">PI: 2,9</text>
<rect x="1330.0" y="461.7" width="16.0" height="220.5" fill="#d3d3d5"/>
<line x1="1190.4" y1="461.7" x2="1412.4" y2="461.7" stroke="#555" stroke-width="1.8"/>
<line x1="1412.4" y1="461.7" x2="1412.4" y2="682.2" stroke="#555" stroke-width="1.8"/>
<path d="M1191.4,682.2 L1192.0,682.2 L1192.6,682.2 L1193.2,682.2 L1193.8,682.2 L1194.4,682.2 L1195.0,682.2 L1195.6,682.2 L1196.2,682.2 L1196.8,682.2 L1197.4,682.2 L1198.0,682.2 L1198.6,682.2 L1199.2,682.2 L1199.8,682.2 L1200.4,682.2 L1201.0,682.2 L1201.6,682.2 L1202.2,682.2 L1202.8,682.2 L1203.4,682.2 L1204.0,682.2 L1204.6,682.2 L1205.2,682.2 L1205.8,682.2 L1206.4,682.2 L1207.0,682.2 L1207.6,682.2 L1208.2,682.2 L1208.8,682.2 L1209.4,682.2 L1210.0,682.2 L1210.6,682.2 L1211.2,682.2 L1211.8,682.2 L1212.4,682.2 L1213.0,682.2 L1213.6,682.2 L1214.2,682.2 L1214.8,682.2 L1215.4,682.2 L1216.0,682.2 L1216.6,682.2 L1217.2,682.2 L1217.8,682.2 L1218.4,682.2 L1219.0,682.2 L1219.6,682.2 L1220.2,682.2 L1220.8,682.2 L1221.4,682.2 L1222.0,682.2 L1222.6,682.2 L1223.2,682.2 L1223.8,682.2 L1224.4,682.2 L1225.0,682.2 L1225.6,682.2 L1226.2,682.2 L1226.8,682.2 L1227.4,682.2 L1228.0,682.2 L1228.6,682.2 L1229.2,682.2 L1229.8,682.2 L1230.4,682.2 L1231.0,682.2 L1231.6,682.2 L1232.2,682.2 L1232.8,682.2 L1233.4,682.2 L1234.0,682.2 L1234.6,682.2 L1235.2,682.2 L1235.8,682.2 L1236.4,682.2 L1237.0,682.2 L1237.6,682.2 L1238.2,682.2 L1238.8,682.2 L1239.4,682.2 L1240.0,682.2 L1240.6,682.2 L1241.2,682.2 L1241.8,682.2 L1242.4,682.2 L1243.0,682.2 L1243.6,682.2 L1244.2,682.2 L1244.8,682.2 L1245.4,682.2 L1246.0,682.2 L1246.6,682.2 L1247.2,682.2 L1247.8,682.2 L1248.4,682.2 L1249.0,682.2 L1249.6,682.2 L1250.2,682.2 L1250.8,682.2 L1251.4,682.2 L1252.0,682.2 L1252.6,682.2 L1253.2,682.2 L1253.8,682.2 L1254.4,682.2 L1255.0,682.2 L1255.6,682.2 L1256.2,682.2 L1256.8,682.2 L1257.4,682.2 L1258.0,682.2 L1258.6,682.2 L1259.2,682.2 L1259.8,682.2 L1260.4,682.2 L1261.0,682.2 L1261.6,682.2 L1262.2,682.2 L1262.8,682.2 L1263.4,682.2 L1264.0,682.2 L1264.6,682.2 L1265.2,682.2 L1265.8,682.2 L1266.4,682.2 L1267.0,682.2 L1267.6,682.2 L1268.2,682.2 L1268.8,682.2 L1269.4,682.2 L1270.0,682.2 L1270.6,682.2 L1271.2,682.2 L1271.8,682.2 L1272.4,682.2 L1273.0,682.2 L1273.6,682.2 L1274.2,682.2 L1274.8,682.2 L1275.4,682.2 L1276.0,682.2 L1276.6,682.2 L1277.2,682.2 L1277.8,682.2 L1278.4,682.2 L1279.0,682.2 L1279.6,682.2 L1280.2,682.2 L1280.8,682.2 L1281.4,682.2 L1282.0,682.2 L1282.6,682.2 L1283.2,682.2 L1283.8,682.2 L1284.4,682.2 L1285.0,682.2 L1285.6,682.2 L1286.2,682.2 L1286.8,682.2 L1287.4,682.2 L1288.0,682.2 L1288.6,682.2 L1289.2,682.1 L1289.8,682.1 L1290.4,682.1 L1291.0,682.1 L1291.6,682.1 L1292.2,682.0 L1292.8,682.0 L1293.4,681.9 L1294.0,681.9 L1294.6,681.8 L1295.2,681.7 L1295.8,681.6 L1296.4,681.4 L1297.0,681.3 L1297.6,681.1 L1298.2,681.0 L1298.8,680.8 L1299.4,680.6 L1300.0,680.5 L1300.6,680.3 L1301.2,680.2 L1301.8,680.2 L1302.4,680.1 L1303.0,680.1 L1303.6,680.1 L1304.2,680.1 L1304.8,680.2 L1305.4,680.2 L1306.0,680.3 L1306.6,680.3 L1307.2,680.4 L1307.8,680.4 L1308.4,680.4 L1309.0,680.3 L1309.6,680.3 L1310.2,680.2 L1310.8,680.1 L1311.4,679.9 L1312.0,679.8 L1312.6,679.5 L1313.2,679.3 L1313.8,679.0 L1314.4,678.7 L1315.0,678.3 L1315.6,677.8 L1316.2,677.2 L1316.8,676.6 L1317.4,675.8 L1318.0,674.8 L1318.6,673.7 L1319.2,672.4 L1319.8,670.8 L1320.4,668.9 L1321.0,666.8 L1321.6,664.2 L1322.2,661.3 L1322.8,657.9 L1323.4,654.1 L1324.0,649.7 L1324.6,644.8 L1325.2,639.3 L1325.8,633.2 L1326.4,626.6 L1327.0,619.4 L1327.6,611.6 L1328.2,603.4 L1328.8,594.7 L1329.4,585.7 L1330.0,576.4 L1330.6,567.0 L1331.2,557.6 L1331.8,548.3 L1332.4,539.3 L1333.0,530.7 L1333.6,522.7 L1334.2,515.4 L1334.8,509.1 L1335.4,503.7 L1336.0,499.5 L1336.6,496.4 L1337.2,494.7 L1337.8,494.2 L1338.4,495.1 L1339.0,497.1 L1339.6,500.4 L1340.2,504.8 L1340.8,510.2 L1341.4,516.5 L1342.0,523.7 L1342.6,531.6 L1343.2,539.9 L1343.8,548.7 L1344.4,557.8 L1345.0,566.9 L1345.6,576.1 L1346.2,585.1 L1346.8,593.8 L1347.4,602.3 L1348.0,610.4 L1348.6,618.0 L1349.2,625.1 L1349.8,631.6 L1350.4,637.6 L1351.0,643.1 L1351.6,648.0 L1352.2,652.5 L1352.8,656.4 L1353.4,659.8 L1354.0,662.8 L1354.6,665.5 L1355.2,667.7 L1355.8,669.7 L1356.4,671.3 L1357.0,672.7 L1357.6,673.9 L1358.2,675.0 L1358.8,675.8 L1359.4,676.5 L1360.0,677.2 L1360.6,677.7 L1361.2,678.1 L1361.8,678.5 L1362.4,678.8 L1363.0,679.1 L1363.6,679.4 L1364.2,679.6 L1364.8,679.8 L1365.4,680.0 L1366.0,680.2 L1366.6,680.3 L1367.2,680.4 L1367.8,680.6 L1368.4,680.7 L1369.0,680.8 L1369.6,680.9 L1370.2,681.0 L1370.8,681.1 L1371.4,681.2 L1372.0,681.3 L1372.6,681.3 L1373.2,681.4 L1373.8,681.5 L1374.4,681.5 L1375.0,681.6 L1375.6,681.6 L1376.2,681.7 L1376.8,681.7 L1377.4,681.8 L1378.0,681.8 L1378.6,681.8 L1379.2,681.9 L1379.8,681.9 L1380.4,681.9 L1381.0,682.0 L1381.6,682.0 L1382.2,682.0 L1382.8,682.0 L1383.4,682.0 L1384.0,682.1 L1384.6,682.1 L1385.2,682.1 L1385.8,682.1 L1386.4,682.1 L1387.0,682.1 L1387.6,682.1 L1388.2,682.1 L1388.8,682.1 L1389.4,682.1 L1390.0,682.2 L1390.6,682.2 L1391.2,682.2 L1391.8,682.2 L1392.4,682.2 L1393.0,682.2 L1393.6,682.2 L1394.2,682.2 L1394.8,682.2 L1395.4,682.2 L1396.0,682.2 L1396.6,682.2 L1397.2,682.2 L1397.8,682.2 L1398.4,682.2 L1399.0,682.2 L1399.6,682.2 L1400.2,682.2 L1400.8,682.2 L1401.4,682.2 L1402.0,682.2 L1402.6,682.2 L1403.2,682.2 L1403.8,682.2 L1404.4,682.2 L1405.0,682.2 L1405.6,682.2 L1406.2,682.2 L1406.8,682.2 L1407.4,682.2 L1408.0,682.2 L1408.6,682.2 L1409.2,682.2 L1409.8,682.2 L1410.4,682.2 L1411.0,682.2" fill="none" stroke="#3a3a3a" stroke-width="1.7"/>
<path d="M1315.7,682.0 L1316.3,681.9 L1316.9,681.8 L1317.5,681.6 L1318.1,681.3 L1318.7,681.0 L1319.3,680.6 L1319.9,680.0 L1320.5,679.3 L1321.1,678.4 L1321.7,677.2 L1322.3,675.6 L1322.9,673.8 L1323.5,671.5 L1324.1,668.7 L1324.7,665.3 L1325.3,661.3 L1325.9,656.6 L1326.5,651.3 L1327.1,645.1 L1327.7,638.1 L1328.3,630.4 L1328.9,621.9 L1329.5,612.7 L1330.1,603.0 L1330.7,592.7 L1331.3,582.1 L1331.9,571.4 L1332.5,560.8 L1333.1,550.5 L1333.7,540.7 L1334.3,531.7 L1334.9,523.7 L1335.5,517.0 L1336.1,511.7 L1336.7,507.9 L1337.3,505.9 L1337.9,505.6 L1338.5,506.9 L1339.1,509.9 L1339.7,514.4 L1340.3,520.4 L1340.9,527.5 L1341.5,535.7 L1342.1,544.8 L1342.7,554.5 L1343.3,564.7 L1343.9,575.0 L1344.5,585.4 L1345.1,595.5 L1345.7,605.3 L1346.3,614.7 L1346.9,623.4 L1347.5,631.5 L1348.1,638.9 L1348.7,645.6 L1349.3,651.5 L1349.9,656.7 L1350.5,661.2 L1351.1,665.1 L1351.7,668.4 L1352.3,671.2 L1352.9,673.4 L1353.5,675.3 L1354.1,676.9 L1354.7,678.1 L1355.3,679.1 L1355.9,679.8 L1356.5,680.4 L1357.1,680.9 L1357.7,681.2 L1358.3,681.5 L1358.9,681.7 L1359.5,681.8" fill="none" stroke="#8a8a8a" stroke-width="1.3"/>
<line x1="1190.4" y1="460.7" x2="1190.4" y2="683.2" stroke="#6a6a6a" stroke-width="1.5"/>
<line x1="1189.4" y1="682.2" x2="1413.4" y2="682.2" stroke="#2a2a2a" stroke-width="2.2"/>
<line x1="1190.4" y1="682.2" x2="1190.4" y2="687.2" stroke="#222" stroke-width="2"/>
<text x="1194.9" y="700.7" font-size="9" fill="#a8a8a8" text-anchor="start" textLength="8" lengthAdjust="spacingAndGlyphs">10</text>
<text x="1203.4" y="695.2" font-size="6.5" fill="#a8a8a8">0</text>
<line x1="1207.1" y1="682.2" x2="1207.1" y2="684.7" stroke="#555" stroke-width="1.2"/>
<line x1="1216.9" y1="682.2" x2="1216.9" y2="684.7" stroke="#555" stroke-width="1.2"/>
<line x1="1223.8" y1="682.2" x2="1223.8" y2="684.7" stroke="#555" stroke-width="1.2"/>
<line x1="1229.2" y1="682.2" x2="1229.2" y2="684.7" stroke="#555" stroke-width="1.2"/>
<line x1="1233.6" y1="682.2" x2="1233.6" y2="684.7" stroke="#555" stroke-width="1.2"/>
<line x1="1237.3" y1="682.2" x2="1237.3" y2="684.7" stroke="#555" stroke-width="1.2"/>
<line x1="1240.5" y1="682.2" x2="1240.5" y2="684.7" stroke="#555" stroke-width="1.2"/>
<line x1="1243.4" y1="682.2" x2="1243.4" y2="684.7" stroke="#555" stroke-width="1.2"/>
<line x1="1245.9" y1="682.2" x2="1245.9" y2="687.2" stroke="#222" stroke-width="2"/>
<text x="1250.4" y="700.7" font-size="9" fill="#a8a8a8" text-anchor="start" textLength="8" lengthAdjust="spacingAndGlyphs">10</text>
<text x="1258.9" y="695.2" font-size="6.5" fill="#a8a8a8">1</text>
<line x1="1262.6" y1="682.2" x2="1262.6" y2="684.7" stroke="#555" stroke-width="1.2"/>
<line x1="1272.4" y1="682.2" x2="1272.4" y2="684.7" stroke="#555" stroke-width="1.2"/>
<line x1="1279.3" y1="682.2" x2="1279.3" y2="684.7" stroke="#555" stroke-width="1.2"/>
<line x1="1284.7" y1="682.2" x2="1284.7" y2="684.7" stroke="#555" stroke-width="1.2"/>
<line x1="1289.1" y1="682.2" x2="1289.1" y2="684.7" stroke="#555" stroke-width="1.2"/>
<line x1="1292.8" y1="682.2" x2="1292.8" y2="684.7" stroke="#555" stroke-width="1.2"/>
<line x1="1296.0" y1="682.2" x2="1296.0" y2="684.7" stroke="#555" stroke-width="1.2"/>
<line x1="1298.9" y1="682.2" x2="1298.9" y2="684.7" stroke="#555" stroke-width="1.2"/>
<line x1="1301.4" y1="682.2" x2="1301.4" y2="687.2" stroke="#222" stroke-width="2"/>
<text x="1305.9" y="700.7" font-size="9" fill="#a8a8a8" text-anchor="start" textLength="8" lengthAdjust="spacingAndGlyphs">10</text>
<text x="1314.4" y="695.2" font-size="6.5" fill="#a8a8a8">2</text>
<line x1="1318.1" y1="682.2" x2="1318.1" y2="684.7" stroke="#555" stroke-width="1.2"/>
<line x1="1327.9" y1="682.2" x2="1327.9" y2="684.7" stroke="#555" stroke-width="1.2"/>
<line x1="1334.8" y1="682.2" x2="1334.8" y2="684.7" stroke="#555" stroke-width="1.2"/>
<line x1="1340.2" y1="682.2" x2="1340.2" y2="684.7" stroke="#555" stroke-width="1.2"/>
<line x1="1344.6" y1="682.2" x2="1344.6" y2="684.7" stroke="#555" stroke-width="1.2"/>
<line x1="1348.3" y1="682.2" x2="1348.3" y2="684.7" stroke="#555" stroke-width="1.2"/>
<line x1="1351.5" y1="682.2" x2="1351.5" y2="684.7" stroke="#555" stroke-width="1.2"/>
<line x1="1354.4" y1="682.2" x2="1354.4" y2="684.7" stroke="#555" stroke-width="1.2"/>
<line x1="1356.9" y1="682.2" x2="1356.9" y2="687.2" stroke="#222" stroke-width="2"/>
<text x="1361.4" y="700.7" font-size="9" fill="#a8a8a8" text-anchor="start" textLength="8" lengthAdjust="spacingAndGlyphs">10</text>
<text x="1369.9" y="695.2" font-size="6.5" fill="#a8a8a8">3</text>
<line x1="1373.6" y1="682.2" x2="1373.6" y2="684.7" stroke="#555" stroke-width="1.2"/>
<line x1="1383.4" y1="682.2" x2="1383.4" y2="684.7" stroke="#555" stroke-width="1.2"/>
<line x1="1390.3" y1="682.2" x2="1390.3" y2="684.7" stroke="#555" stroke-width="1.2"/>
<line x1="1395.7" y1="682.2" x2="1395.7" y2="684.7" stroke="#555" stroke-width="1.2"/>
<line x1="1400.1" y1="682.2" x2="1400.1" y2="684.7" stroke="#555" stroke-width="1.2"/>
<line x1="1403.8" y1="682.2" x2="1403.8" y2="684.7" stroke="#555" stroke-width="1.2"/>
<line x1="1407.0" y1="682.2" x2="1407.0" y2="684.7" stroke="#555" stroke-width="1.2"/>
<line x1="1409.9" y1="682.2" x2="1409.9" y2="684.7" stroke="#555" stroke-width="1.2"/>
<line x1="1412.4" y1="682.2" x2="1412.4" y2="687.2" stroke="#222" stroke-width="2"/>
<text x="1416.9" y="700.7" font-size="9" fill="#a8a8a8" text-anchor="start" textLength="8" lengthAdjust="spacingAndGlyphs">10</text>
<text x="1425.4" y="695.2" font-size="6.5" fill="#a8a8a8">4</text>
<line x1="1184.4" y1="681.3" x2="1190.4" y2="681.3" stroke="#555" stroke-width="2.2"/>
<text x="1181.4" y="683.3" font-size="6" fill="#a0a0a0" text-anchor="end">0</text>
<line x1="1184.4" y1="625.7" x2="1190.4" y2="625.7" stroke="#555" stroke-width="2.2"/>
<text x="1181.4" y="627.7" font-size="6" fill="#a0a0a0" text-anchor="end">20</text>
<line x1="1184.4" y1="570.3" x2="1190.4" y2="570.3" stroke="#555" stroke-width="2.2"/>
<text x="1181.4" y="572.3" font-size="6" fill="#a0a0a0" text-anchor="end">40</text>
<line x1="1184.4" y1="514.3" x2="1190.4" y2="514.3" stroke="#555" stroke-width="2.2"/>
<text x="1181.4" y="516.3" font-size="6" fill="#a0a0a0" text-anchor="end">60</text>
<line x1="1187.4" y1="681.3" x2="1190.4" y2="681.3" stroke="#666" stroke-width="1.2"/>
<line x1="1187.4" y1="667.4" x2="1190.4" y2="667.4" stroke="#666" stroke-width="1.2"/>
<line x1="1187.4" y1="653.5" x2="1190.4" y2="653.5" stroke="#666" stroke-width="1.2"/>
<line x1="1187.4" y1="639.6" x2="1190.4" y2="639.6" stroke="#666" stroke-width="1.2"/>
<line x1="1187.4" y1="625.7" x2="1190.4" y2="625.7" stroke="#666" stroke-width="1.2"/>
<line x1="1187.4" y1="611.8" x2="1190.4" y2="611.8" stroke="#666" stroke-width="1.2"/>
<line x1="1187.4" y1="597.9" x2="1190.4" y2="597.9" stroke="#666" stroke-width="1.2"/>
<line x1="1187.4" y1="584.0" x2="1190.4" y2="584.0" stroke="#666" stroke-width="1.2"/>
<line x1="1187.4" y1="570.1" x2="1190.4" y2="570.1" stroke="#666" stroke-width="1.2"/>
<line x1="1187.4" y1="556.2" x2="1190.4" y2="556.2" stroke="#666" stroke-width="1.2"/>
<line x1="1187.4" y1="542.3" x2="1190.4" y2="542.3" stroke="#666" stroke-width="1.2"/>
<line x1="1187.4" y1="528.4" x2="1190.4" y2="528.4" stroke="#666" stroke-width="1.2"/>
<line x1="1187.4" y1="514.5" x2="1190.4" y2="514.5" stroke="#666" stroke-width="1.2"/>
<line x1="1187.4" y1="500.6" x2="1190.4" y2="500.6" stroke="#666" stroke-width="1.2"/>
<line x1="1187.4" y1="486.7" x2="1190.4" y2="486.7" stroke="#666" stroke-width="1.2"/>
<line x1="1187.4" y1="472.8" x2="1190.4" y2="472.8" stroke="#666" stroke-width="1.2"/>
<text x="1337.0" y="492.0" font-size="8.5" font-weight="bold" text-anchor="middle" fill="#1a1a1a" textLength="45" lengthAdjust="spacingAndGlyphs" stroke="#1a1a1a" stroke-width="0.6">Undivided</text>
<line x1="1328.6" y1="504.6" x2="1347.0" y2="504.6" stroke="#222" stroke-width="2.0"/>
<line x1="1328.6" y1="501.1" x2="1328.6" y2="508.1" stroke="#222" stroke-width="1.8"/>
<line x1="1347.0" y1="501.1" x2="1347.0" y2="508.1" stroke="#222" stroke-width="1.8"/>
<line x1="1337.8" y1="495.6" x2="1337.8" y2="504.6" stroke="#444" stroke-width="1.4"/>
<text x="24.0" y="756.8" font-size="29.5" font-weight="bold" text-anchor="start" fill="#000" textLength="20.8" lengthAdjust="spacingAndGlyphs">B</text>
<line x1="100.3" y1="833.0" x2="100.3" y2="1126.7" stroke="#000" stroke-width="3.4"/>
<line x1="98.6" y1="1125.2" x2="622.6" y2="1125.2" stroke="#000" stroke-width="3.6"/>
<line x1="85.4" y1="1125.2" x2="100.3" y2="1125.2" stroke="#000" stroke-width="3.4"/>
<text x="83.2" y="1135.4" font-size="29.7" font-weight="bold" text-anchor="end" fill="#000" textLength="15.8" lengthAdjust="spacingAndGlyphs" stroke="#000" stroke-width="0.4">0</text>
<line x1="85.4" y1="1067.0" x2="100.3" y2="1067.0" stroke="#000" stroke-width="3.4"/>
<text x="83.2" y="1077.2" font-size="29.7" font-weight="bold" text-anchor="end" fill="#000" textLength="31.61" lengthAdjust="spacingAndGlyphs" stroke="#000" stroke-width="0.4">20</text>
<line x1="85.4" y1="1008.8" x2="100.3" y2="1008.8" stroke="#000" stroke-width="3.4"/>
<text x="83.2" y="1019.0" font-size="29.7" font-weight="bold" text-anchor="end" fill="#000" textLength="31.61" lengthAdjust="spacingAndGlyphs" stroke="#000" stroke-width="0.4">40</text>
<line x1="85.4" y1="950.5" x2="100.3" y2="950.5" stroke="#000" stroke-width="3.4"/>
<text x="83.2" y="960.7" font-size="29.7" font-weight="bold" text-anchor="end" fill="#000" textLength="31.61" lengthAdjust="spacingAndGlyphs" stroke="#000" stroke-width="0.4">60</text>
<line x1="85.4" y1="892.3" x2="100.3" y2="892.3" stroke="#000" stroke-width="3.4"/>
<text x="83.2" y="902.5" font-size="29.7" font-weight="bold" text-anchor="end" fill="#000" textLength="31.61" lengthAdjust="spacingAndGlyphs" stroke="#000" stroke-width="0.4">80</text>
<line x1="85.4" y1="834.1" x2="100.3" y2="834.1" stroke="#000" stroke-width="3.4"/>
<text x="83.2" y="844.3" font-size="29.7" font-weight="bold" text-anchor="end" fill="#000" textLength="47.41" lengthAdjust="spacingAndGlyphs" stroke="#000" stroke-width="0.4">100</text>
<text transform="translate(26.9,1153.7) rotate(-90)" font-size="39" fill="#000" stroke="#000" stroke-width="0.5" textLength="334" lengthAdjust="spacingAndGlyphs">Percent divided cells</text>
<line x1="136.8" y1="1045.7" x2="136.8" y2="1105.1" stroke="#555" stroke-width="1.6"/>
<line x1="127.8" y1="1045.7" x2="145.8" y2="1045.7" stroke="#555" stroke-width="1.8"/>
<line x1="127.8" y1="1105.1" x2="145.8" y2="1105.1" stroke="#555" stroke-width="1.8"/>
<circle cx="136.8" cy="1024.8" r="5.8" fill="#000"/>
<circle cx="136.8" cy="1080.1" r="5.8" fill="#000"/>
<circle cx="124.4" cy="1103.9" r="5.8" fill="#000"/>
<circle cx="150.0" cy="1095.2" r="5.8" fill="#000"/>
<line x1="118.8" y1="1084.2" x2="154.8" y2="1084.2" stroke="#000" stroke-width="2.4"/>
<line x1="193.2" y1="895.8" x2="193.2" y2="1044.0" stroke="#7a7a7a" stroke-width="1.6"/>
<line x1="184.2" y1="895.8" x2="202.2" y2="895.8" stroke="#7a7a7a" stroke-width="1.8"/>
<line x1="184.2" y1="1044.0" x2="202.2" y2="1044.0" stroke="#7a7a7a" stroke-width="1.8"/>
<circle cx="193.2" cy="863.2" r="5.8" fill="#000"/>
<circle cx="193.2" cy="962.2" r="5.8" fill="#000"/>
<circle cx="180.9" cy="1037.0" r="5.8" fill="#000"/>
<circle cx="205.6" cy="1033.5" r="5.8" fill="#000"/>
<line x1="175.2" y1="987.5" x2="211.2" y2="987.5" stroke="#000" stroke-width="2.4"/>
<line x1="249.7" y1="1011.4" x2="249.7" y2="1065.2" stroke="#7a7a7a" stroke-width="1.6"/>
<line x1="240.7" y1="1011.4" x2="258.7" y2="1011.4" stroke="#7a7a7a" stroke-width="1.8"/>
<line x1="240.7" y1="1065.2" x2="258.7" y2="1065.2" stroke="#7a7a7a" stroke-width="1.8"/>
<circle cx="236.4" cy="1019.5" r="5.8" fill="#000"/>
<circle cx="262.0" cy="1014.0" r="5.8" fill="#000"/>
<circle cx="236.4" cy="1064.4" r="5.8" fill="#000"/>
<circle cx="262.0" cy="1062.6" r="5.8" fill="#000"/>
<line x1="231.7" y1="1043.1" x2="267.7" y2="1043.1" stroke="#000" stroke-width="2.4"/>
<line x1="305.0" y1="1106.3" x2="305.0" y2="1115.0" stroke="#555" stroke-width="1.6"/>
<line x1="300.0" y1="1106.3" x2="310.0" y2="1106.3" stroke="#555" stroke-width="1.8"/>
<line x1="300.0" y1="1115.0" x2="310.0" y2="1115.0" stroke="#555" stroke-width="1.8"/>
<circle cx="293.0" cy="1116.5" r="5.8" fill="#000"/>
<circle cx="301.7" cy="1105.7" r="5.8" fill="#000"/>
<circle cx="309.7" cy="1113.8" r="5.8" fill="#000"/>
<circle cx="318.5" cy="1105.7" r="5.8" fill="#000"/>
<line x1="297.0" y1="1110.6" x2="313.0" y2="1110.6" stroke="#000" stroke-width="2.4"/>
<line x1="417.0" y1="989.8" x2="417.0" y2="1045.7" stroke="#555" stroke-width="1.6"/>
<line x1="408.0" y1="989.8" x2="426.0" y2="989.8" stroke="#555" stroke-width="1.8"/>
<line x1="408.0" y1="1045.7" x2="426.0" y2="1045.7" stroke="#555" stroke-width="1.8"/>
<circle cx="404.7" cy="990.4" r="5.8" fill="#000"/>
<circle cx="429.9" cy="991.0" r="5.8" fill="#000"/>
<circle cx="417.0" cy="1022.2" r="5.8" fill="#000"/>
<circle cx="404.7" cy="1048.6" r="5.8" fill="#000"/>
<circle cx="429.9" cy="1044.0" r="5.8" fill="#000"/>
<line x1="399.0" y1="1022.2" x2="435.0" y2="1022.2" stroke="#000" stroke-width="2.4"/>
<line x1="472.6" y1="874.9" x2="472.6" y2="989.8" stroke="#7a7a7a" stroke-width="1.6"/>
<line x1="463.6" y1="874.9" x2="481.6" y2="874.9" stroke="#7a7a7a" stroke-width="1.8"/>
<line x1="463.6" y1="989.8" x2="481.6" y2="989.8" stroke="#7a7a7a" stroke-width="1.8"/>
<circle cx="472.6" cy="892.3" r="5.8" fill="#000"/>
<circle cx="460.3" cy="914.4" r="5.8" fill="#000"/>
<circle cx="485.9" cy="910.1" r="5.8" fill="#000"/>
<circle cx="472.6" cy="940.9" r="5.8" fill="#000"/>
<circle cx="472.6" cy="1017.5" r="5.8" fill="#000"/>
<line x1="454.6" y1="940.9" x2="490.6" y2="940.9" stroke="#000" stroke-width="2.4"/>
<line x1="529.0" y1="1008.5" x2="529.0" y2="1066.1" stroke="#555" stroke-width="1.6"/>
<line x1="520.0" y1="1008.5" x2="538.0" y2="1008.5" stroke="#555" stroke-width="1.8"/>
<line x1="520.0" y1="1066.1" x2="538.0" y2="1066.1" stroke="#555" stroke-width="1.8"/>
<circle cx="515.8" cy="1012.3" r="5.8" fill="#000"/>
<circle cx="541.4" cy="1015.7" r="5.8" fill="#000"/>
<circle cx="529.0" cy="1029.1" r="5.8" fill="#000"/>
<circle cx="515.8" cy="1072.2" r="5.8" fill="#000"/>
<circle cx="541.4" cy="1064.4" r="5.8" fill="#000"/>
<line x1="511.0" y1="1042.2" x2="547.0" y2="1042.2" stroke="#000" stroke-width="2.4"/>
<line x1="585.0" y1="1109.2" x2="585.0" y2="1115.0" stroke="#555" stroke-width="1.6"/>
<line x1="580.0" y1="1109.2" x2="590.0" y2="1109.2" stroke="#555" stroke-width="1.8"/>
<line x1="580.0" y1="1115.0" x2="590.0" y2="1115.0" stroke="#555" stroke-width="1.8"/>
<circle cx="572.0" cy="1115.0" r="5.8" fill="#000"/>
<circle cx="580.0" cy="1106.3" r="5.8" fill="#000"/>
<circle cx="585.0" cy="1112.1" r="5.8" fill="#000"/>
<circle cx="590.0" cy="1109.2" r="5.8" fill="#000"/>
<circle cx="598.0" cy="1116.5" r="5.8" fill="#000"/>
<line x1="577.0" y1="1112.1" x2="593.0" y2="1112.1" stroke="#000" stroke-width="2.4"/>
<text transform="translate(151.5,1166.3) rotate(-45)" font-size="37" text-anchor="end" fill="#000" stroke="#000" stroke-width="0.45">CpG</text>
<text transform="translate(211.5,1158.7) rotate(-45)" font-size="37" text-anchor="end" fill="#000" stroke="#000" stroke-width="0.45">CpG + anti-Ig</text>
<text transform="translate(275.8,1159.1) rotate(-45)" font-size="37" text-anchor="end" fill="#000" stroke="#000" stroke-width="0.45">CpG + ICs</text>
<text transform="translate(325.1,1166.4) rotate(-45)" font-size="37" text-anchor="end" fill="#000" stroke="#000" stroke-width="0.45">ICs</text>
<text transform="translate(429.5,1166.2) rotate(-45)" font-size="37" text-anchor="end" fill="#000" stroke="#000" stroke-width="0.45">CpG</text>
<text transform="translate(479.3,1162.9) rotate(-45)" font-size="37" text-anchor="end" fill="#000" stroke="#000" stroke-width="0.45">CpG + anti-Ig</text>
<text transform="translate(543.2,1162.4) rotate(-45)" font-size="37" text-anchor="end" fill="#000" stroke="#000" stroke-width="0.45">CpG + ICs</text>
<text transform="translate(597.0,1166.2) rotate(-45)" font-size="37" text-anchor="end" fill="#000" stroke="#000" stroke-width="0.45">ICs</text>
<line x1="116.8" y1="1322.7" x2="301.0" y2="1322.7" stroke="#000" stroke-width="3"/>
<line x1="419.0" y1="1322.7" x2="601.0" y2="1322.7" stroke="#000" stroke-width="3"/>
<text x="214.3" y="1361.1" font-size="38" text-anchor="middle" fill="#000" stroke="#000" stroke-width="0.5">MC</text>
<text x="508.8" y="1361.6" font-size="38" text-anchor="middle" fill="#000" stroke="#000" stroke-width="0.5">HD</text>
<text x="666.0" y="756.7" font-size="29.5" font-weight="bold" text-anchor="start" fill="#000" textLength="21.3" lengthAdjust="spacingAndGlyphs">C</text>
<line x1="784.9" y1="832.0" x2="784.9" y2="1127.7" stroke="#000" stroke-width="3.4"/>
<line x1="783.2" y1="1126.2" x2="1399.2" y2="1126.2" stroke="#000" stroke-width="3.6"/>
<line x1="769.0" y1="1126.2" x2="784.9" y2="1126.2" stroke="#000" stroke-width="3.4"/>
<text x="765.1" y="1136.5" font-size="30" font-weight="bold" text-anchor="end" fill="#000" textLength="16.15" lengthAdjust="spacingAndGlyphs" stroke="#000" stroke-width="0.4">0</text>
<line x1="769.0" y1="1067.6" x2="784.9" y2="1067.6" stroke="#000" stroke-width="3.4"/>
<text x="765.1" y="1077.9" font-size="30" font-weight="bold" text-anchor="end" fill="#000" textLength="32.29" lengthAdjust="spacingAndGlyphs" stroke="#000" stroke-width="0.4">20</text>
<line x1="769.0" y1="1009.0" x2="784.9" y2="1009.0" stroke="#000" stroke-width="3.4"/>
<text x="765.1" y="1019.3" font-size="30" font-weight="bold" text-anchor="end" fill="#000" textLength="32.29" lengthAdjust="spacingAndGlyphs" stroke="#000" stroke-width="0.4">40</text>
<line x1="769.0" y1="950.4" x2="784.9" y2="950.4" stroke="#000" stroke-width="3.4"/>
<text x="765.1" y="960.7" font-size="30" font-weight="bold" text-anchor="end" fill="#000" textLength="32.29" lengthAdjust="spacingAndGlyphs" stroke="#000" stroke-width="0.4">60</text>
<line x1="769.0" y1="891.8" x2="784.9" y2="891.8" stroke="#000" stroke-width="3.4"/>
<text x="765.1" y="902.1" font-size="30" font-weight="bold" text-anchor="end" fill="#000" textLength="32.29" lengthAdjust="spacingAndGlyphs" stroke="#000" stroke-width="0.4">80</text>
<line x1="769.0" y1="833.2" x2="784.9" y2="833.2" stroke="#000" stroke-width="3.4"/>
<text x="765.1" y="843.5" font-size="30" font-weight="bold" text-anchor="end" fill="#000" textLength="48.44" lengthAdjust="spacingAndGlyphs" stroke="#000" stroke-width="0.4">100</text>
<text transform="translate(693.4,1151.2) rotate(-90)" font-size="39" fill="#000" stroke="#000" stroke-width="0.5" textLength="333" lengthAdjust="spacingAndGlyphs">Percent divided cells</text>
<path d="M825.2,808.8 V787.6 H935.2 V808.8" fill="none" stroke="#000" stroke-width="3"/>
<path d="M825.2,851.2 V833.2 H876 V851.2" fill="none" stroke="#000" stroke-width="3"/>
<text x="880.2" y="793.0" font-size="40" font-weight="bold" text-anchor="middle" fill="#000">*</text>
<text x="850.5" y="837.0" font-size="40" font-weight="bold" text-anchor="middle" fill="#000" textLength="31" lengthAdjust="spacingAndGlyphs">**</text>
<line x1="820.9" y1="1072.3" x2="820.9" y2="1119.2" stroke="#555" stroke-width="1.6"/>
<line x1="811.9" y1="1072.3" x2="829.9" y2="1072.3" stroke="#555" stroke-width="1.8"/>
<line x1="811.9" y1="1119.2" x2="829.9" y2="1119.2" stroke="#555" stroke-width="1.8"/>
<circle cx="816.9" cy="1087.2" r="5.8" fill="#000"/>
<circle cx="808.2" cy="1097.8" r="5.8" fill="#000"/>
<circle cx="832.6" cy="1097.8" r="5.8" fill="#000"/>
<circle cx="820.9" cy="1101.3" r="5.8" fill="#000"/>
<circle cx="819.9" cy="1123.3" r="5.8" fill="#000"/>
<line x1="802.9" y1="1107.2" x2="838.9" y2="1107.2" stroke="#000" stroke-width="2.4"/>
<line x1="874.9" y1="862.5" x2="874.9" y2="1079.0" stroke="#444" stroke-width="1.6"/>
<line x1="865.9" y1="862.5" x2="883.9" y2="862.5" stroke="#444" stroke-width="1.8"/>
<line x1="865.9" y1="1079.0" x2="883.9" y2="1079.0" stroke="#444" stroke-width="1.8"/>
<circle cx="874.9" cy="906.2" r="5.8" fill="#000"/>
<circle cx="862.2" cy="923.2" r="5.8" fill="#000"/>
<circle cx="886.6" cy="926.4" r="5.8" fill="#000"/>
<circle cx="874.9" cy="998.2" r="5.8" fill="#000"/>
<circle cx="874.9" cy="1058.8" r="5.8" fill="#000"/>
<circle cx="874.9" cy="1102.2" r="5.8" fill="#000"/>
<line x1="856.9" y1="1016.0" x2="892.9" y2="1016.0" stroke="#000" stroke-width="2.4"/>
<line x1="928.9" y1="949.5" x2="928.9" y2="1055.0" stroke="#555" stroke-width="1.6"/>
<line x1="919.9" y1="949.5" x2="937.9" y2="949.5" stroke="#555" stroke-width="1.8"/>
<line x1="919.9" y1="1055.0" x2="937.9" y2="1055.0" stroke="#555" stroke-width="1.8"/>
<circle cx="928.9" cy="938.7" r="5.8" fill="#000"/>
<circle cx="928.9" cy="967.4" r="5.8" fill="#000"/>
<circle cx="917.3" cy="1003.4" r="5.8" fill="#000"/>
<circle cx="940.5" cy="999.3" r="5.8" fill="#000"/>
<circle cx="928.9" cy="1049.7" r="5.8" fill="#000"/>
<circle cx="928.9" cy="1069.7" r="5.8" fill="#000"/>
<line x1="910.9" y1="1014.9" x2="946.9" y2="1014.9" stroke="#000" stroke-width="2.4"/>
<line x1="982.6" y1="977.4" x2="982.6" y2="1105.4" stroke="#444" stroke-width="1.6"/>
<line x1="973.6" y1="977.4" x2="991.6" y2="977.4" stroke="#444" stroke-width="1.8"/>
<line x1="973.6" y1="1105.4" x2="991.6" y2="1105.4" stroke="#444" stroke-width="1.8"/>
<circle cx="970.9" cy="972.1" r="5.8" fill="#000"/>
<circle cx="995.1" cy="969.4" r="5.8" fill="#000"/>
<circle cx="982.6" cy="1053.5" r="5.8" fill="#000"/>
<circle cx="982.6" cy="1082.8" r="5.8" fill="#000"/>
<circle cx="982.6" cy="1096.9" r="5.8" fill="#000"/>
<circle cx="982.6" cy="1114.5" r="5.8" fill="#000"/>
<line x1="964.6" y1="1070.5" x2="1000.6" y2="1070.5" stroke="#000" stroke-width="2.4"/>
<line x1="1037.0" y1="1108.6" x2="1037.0" y2="1114.5" stroke="#555" stroke-width="1.6"/>
<line x1="1032.0" y1="1108.6" x2="1042.0" y2="1108.6" stroke="#555" stroke-width="1.8"/>
<line x1="1032.0" y1="1114.5" x2="1042.0" y2="1114.5" stroke="#555" stroke-width="1.8"/>
<circle cx="1026.0" cy="1115.9" r="5.8" fill="#000"/>
<circle cx="1032.0" cy="1107.2" r="5.8" fill="#000"/>
<circle cx="1037.0" cy="1111.5" r="5.8" fill="#000"/>
<circle cx="1041.0" cy="1108.6" r="5.8" fill="#000"/>
<circle cx="1046.0" cy="1115.9" r="5.8" fill="#000"/>
<circle cx="1050.0" cy="1110.1" r="5.8" fill="#000"/>
<line x1="1029.0" y1="1111.5" x2="1045.0" y2="1111.5" stroke="#000" stroke-width="2.4"/>
<line x1="1145.7" y1="914.9" x2="1145.7" y2="1002.8" stroke="#777" stroke-width="1.6"/>
<line x1="1136.7" y1="914.9" x2="1154.7" y2="914.9" stroke="#777" stroke-width="1.8"/>
<line x1="1136.7" y1="1002.8" x2="1154.7" y2="1002.8" stroke="#777" stroke-width="1.8"/>
<circle cx="1145.7" cy="914.9" r="5.8" fill="#000"/>
<circle cx="1133.8" cy="935.5" r="5.8" fill="#000"/>
<circle cx="1158.1" cy="943.1" r="5.8" fill="#000"/>
<circle cx="1145.7" cy="956.0" r="5.8" fill="#000"/>
<circle cx="1145.7" cy="986.4" r="5.8" fill="#000"/>
<circle cx="1145.7" cy="1025.4" r="5.8" fill="#000"/>
<line x1="1127.7" y1="964.2" x2="1163.7" y2="964.2" stroke="#000" stroke-width="2.4"/>
<line x1="1200.6" y1="885.6" x2="1200.6" y2="994.6" stroke="#777" stroke-width="1.6"/>
<line x1="1191.6" y1="885.6" x2="1209.6" y2="885.6" stroke="#777" stroke-width="1.8"/>
<line x1="1191.6" y1="994.6" x2="1209.6" y2="994.6" stroke="#777" stroke-width="1.8"/>
<circle cx="1188.4" cy="888.9" r="5.8" fill="#000"/>
<circle cx="1200.6" cy="897.7" r="5.8" fill="#000"/>
<circle cx="1188.4" cy="939.3" r="5.8" fill="#000"/>
<circle cx="1200.6" cy="950.7" r="5.8" fill="#000"/>
<circle cx="1212.9" cy="950.7" r="5.8" fill="#000"/>
<circle cx="1200.6" cy="1024.2" r="5.8" fill="#000"/>
<line x1="1182.6" y1="947.8" x2="1218.6" y2="947.8" stroke="#000" stroke-width="2.4"/>
<line x1="1254.7" y1="949.8" x2="1254.7" y2="1032.4" stroke="#888" stroke-width="1.6"/>
<line x1="1245.7" y1="949.8" x2="1263.7" y2="949.8" stroke="#888" stroke-width="1.8"/>
<line x1="1245.7" y1="1032.4" x2="1263.7" y2="1032.4" stroke="#888" stroke-width="1.8"/>
<circle cx="1254.7" cy="915.8" r="5.8" fill="#000"/>
<circle cx="1254.7" cy="979.1" r="5.8" fill="#000"/>
<circle cx="1242.1" cy="997.6" r="5.8" fill="#000"/>
<circle cx="1267.7" cy="1005.2" r="5.8" fill="#000"/>
<circle cx="1254.7" cy="1009.6" r="5.8" fill="#000"/>
<circle cx="1254.7" cy="1044.7" r="5.8" fill="#000"/>
<line x1="1236.7" y1="996.4" x2="1272.7" y2="996.4" stroke="#000" stroke-width="2.4"/>
<line x1="1309.3" y1="907.9" x2="1309.3" y2="1054.4" stroke="#444" stroke-width="1.6"/>
<line x1="1300.3" y1="907.9" x2="1318.3" y2="907.9" stroke="#444" stroke-width="1.8"/>
<line x1="1300.3" y1="1054.4" x2="1318.3" y2="1054.4" stroke="#444" stroke-width="1.8"/>
<circle cx="1309.3" cy="903.5" r="5.8" fill="#000"/>
<circle cx="1309.3" cy="948.3" r="5.8" fill="#000"/>
<circle cx="1309.3" cy="965.6" r="5.8" fill="#000"/>
<circle cx="1309.3" cy="982.6" r="5.8" fill="#000"/>
<circle cx="1309.3" cy="1040.6" r="5.8" fill="#000"/>
<circle cx="1309.3" cy="1077.3" r="5.8" fill="#000"/>
<line x1="1291.3" y1="1001.1" x2="1327.3" y2="1001.1" stroke="#000" stroke-width="2.4"/>
<line x1="1363.0" y1="1108.6" x2="1363.0" y2="1114.5" stroke="#555" stroke-width="1.6"/>
<line x1="1358.0" y1="1108.6" x2="1368.0" y2="1108.6" stroke="#555" stroke-width="1.8"/>
<line x1="1358.0" y1="1114.5" x2="1368.0" y2="1114.5" stroke="#555" stroke-width="1.8"/>
<circle cx="1348.0" cy="1114.5" r="5.8" fill="#000"/>
<circle cx="1356.0" cy="1107.2" r="5.8" fill="#000"/>
<circle cx="1363.0" cy="1111.5" r="5.8" fill="#000"/>
<circle cx="1367.0" cy="1107.2" r="5.8" fill="#000"/>
<circle cx="1373.0" cy="1114.5" r="5.8" fill="#000"/>
<circle cx="1379.0" cy="1110.1" r="5.8" fill="#000"/>
<line x1="1355.0" y1="1111.5" x2="1371.0" y2="1111.5" stroke="#000" stroke-width="2.4"/>
<text transform="translate(832.5,1171.0) rotate(-45)" font-size="37" text-anchor="end" fill="#000" stroke="#000" stroke-width="0.45">CpG</text>
<text transform="translate(890.0,1161.7) rotate(-45)" font-size="37" text-anchor="end" fill="#000" stroke="#000" stroke-width="0.45">CpG + anti-Ig</text>
<text transform="translate(947.4,1162.2) rotate(-45)" font-size="37" text-anchor="end" fill="#000" stroke="#000" stroke-width="0.45">CpG + ICs</text>
<text transform="translate(1005.3,1163.4) rotate(-45)" font-size="37" text-anchor="end" fill="#000" stroke="#000" stroke-width="0.45">CpG + IVIg</text>
<text transform="translate(1059.7,1165.1) rotate(-45)" font-size="37" text-anchor="end" fill="#000" stroke="#000" stroke-width="0.45">ICs</text>
<text transform="translate(1160.6,1171.6) rotate(-45)" font-size="37" text-anchor="end" fill="#000" stroke="#000" stroke-width="0.45">CpG</text>
<text transform="translate(1222.1,1162.0) rotate(-45)" font-size="37" text-anchor="end" fill="#000" stroke="#000" stroke-width="0.45">CpG + anti-Ig</text>
<text transform="translate(1279.8,1163.2) rotate(-45)" font-size="37" text-anchor="end" fill="#000" stroke="#000" stroke-width="0.45">CpG + ICs</text>
<text transform="translate(1338.0,1162.0) rotate(-45)" font-size="37" text-anchor="end" fill="#000" stroke="#000" stroke-width="0.45">CpG + IVIg</text>
<text transform="translate(1392.9,1166.8) rotate(-45)" font-size="37" text-anchor="end" fill="#000" stroke="#000" stroke-width="0.45">ICs</text>
<line x1="782.7" y1="1320.0" x2="1043.0" y2="1320.0" stroke="#000" stroke-width="3"/>
<line x1="1122.0" y1="1320.0" x2="1384.0" y2="1320.0" stroke="#000" stroke-width="3"/>
<text x="832.7" y="1365.0" font-size="37.4" text-anchor="start" fill="#000" stroke="#000" stroke-width="0.5">V</text>
<text x="856.9" y="1373.8" font-size="27" text-anchor="start" fill="#000" stroke="#000" stroke-width="0.5">H</text>
<text x="875.9" y="1365.0" font-size="37.4" text-anchor="start" fill="#000" textLength="74.3" lengthAdjust="spacingAndGlyphs" stroke="#000" stroke-width="0.5">1-69</text>
<text x="948.9" y="1355.2" font-size="25.6" text-anchor="start" fill="#000" textLength="40.8" lengthAdjust="spacingAndGlyphs" stroke="#000" stroke-width="0.5">pos</text>
<text x="1172.4" y="1365.0" font-size="37.4" text-anchor="start" fill="#000" stroke="#000" stroke-width="0.5">V</text>
<text x="1196.6" y="1373.8" font-size="27" text-anchor="start" fill="#000" stroke="#000" stroke-width="0.5">H</text>
<text x="1215.6" y="1365.0" font-size="37.4" text-anchor="start" fill="#000" textLength="74.3" lengthAdjust="spacingAndGlyphs" stroke="#000" stroke-width="0.5">1-69</text>
<text x="1288.6" y="1355.2" font-size="25.6" text-anchor="start" fill="#000" textLength="43.9" lengthAdjust="spacingAndGlyphs" stroke="#000" stroke-width="0.5">neg</text>
<text x="24.0" y="1423.8" font-size="29.5" font-weight="bold" text-anchor="start" fill="#000" textLength="21.5" lengthAdjust="spacingAndGlyphs">D</text>
<text transform="translate(93.6,1806) rotate(-90)" font-size="38" fill="#000" stroke="#000" stroke-width="0.5" textLength="333.6" lengthAdjust="spacingAndGlyphs">Percent divided cells</text>
<text transform="translate(1359.5,1446) rotate(90)" font-size="38" fill="#000" stroke="#000" stroke-width="0.5" textLength="313.4" lengthAdjust="spacingAndGlyphs">Mean of differences</text>
<line x1="169.4" y1="1484.7" x2="423.8" y2="1484.7" stroke="#000" stroke-width="2.6"/>
<line x1="169.4" y1="1740.3" x2="423.8" y2="1740.3" stroke="#000" stroke-width="2.6"/>
<line x1="169.4" y1="1483.4" x2="169.4" y2="1741.6" stroke="#000" stroke-width="2.6"/>
<line x1="334.9" y1="1484.7" x2="334.9" y2="1743.3" stroke="#000" stroke-width="2.2"/>
<line x1="423.8" y1="1483.4" x2="423.8" y2="1741.6" stroke="#000" stroke-width="2.6"/>
<line x1="157.4" y1="1740.3" x2="169.4" y2="1740.3" stroke="#000" stroke-width="2.6"/>
<text x="155.4" y="1749.2" font-size="28" font-weight="bold" text-anchor="end" fill="#000" textLength="13.64" lengthAdjust="spacingAndGlyphs" stroke="#000" stroke-width="0.4">0</text>
<line x1="157.4" y1="1676.4" x2="169.4" y2="1676.4" stroke="#000" stroke-width="2.6"/>
<text x="155.4" y="1685.3" font-size="28" font-weight="bold" text-anchor="end" fill="#000" textLength="27.28" lengthAdjust="spacingAndGlyphs" stroke="#000" stroke-width="0.4">20</text>
<line x1="157.4" y1="1612.5" x2="169.4" y2="1612.5" stroke="#000" stroke-width="2.6"/>
<text x="155.4" y="1621.4" font-size="28" font-weight="bold" text-anchor="end" fill="#000" textLength="27.28" lengthAdjust="spacingAndGlyphs" stroke="#000" stroke-width="0.4">40</text>
<line x1="157.4" y1="1548.6" x2="169.4" y2="1548.6" stroke="#000" stroke-width="2.6"/>
<text x="155.4" y="1557.5" font-size="28" font-weight="bold" text-anchor="end" fill="#000" textLength="27.28" lengthAdjust="spacingAndGlyphs" stroke="#000" stroke-width="0.4">60</text>
<line x1="157.4" y1="1484.7" x2="169.4" y2="1484.7" stroke="#000" stroke-width="2.6"/>
<text x="155.4" y="1493.6" font-size="28" font-weight="bold" text-anchor="end" fill="#000" textLength="27.28" lengthAdjust="spacingAndGlyphs" stroke="#000" stroke-width="0.4">80</text>
<line x1="423.8" y1="1713.1" x2="432.8" y2="1713.1" stroke="#000" stroke-width="2.6"/>
<text x="436.1" y="1722.7" font-size="28" font-weight="bold" text-anchor="start" fill="#000" textLength="13.64" lengthAdjust="spacingAndGlyphs" stroke="#000" stroke-width="0.4">0</text>
<line x1="423.8" y1="1649.7" x2="432.8" y2="1649.7" stroke="#000" stroke-width="2.6"/>
<text x="436.1" y="1659.3" font-size="28" font-weight="bold" text-anchor="start" fill="#000" textLength="27.28" lengthAdjust="spacingAndGlyphs" stroke="#000" stroke-width="0.4">20</text>
<line x1="423.8" y1="1586.3" x2="432.8" y2="1586.3" stroke="#000" stroke-width="2.6"/>
<text x="436.1" y="1595.9" font-size="28" font-weight="bold" text-anchor="start" fill="#000" textLength="27.28" lengthAdjust="spacingAndGlyphs" stroke="#000" stroke-width="0.4">40</text>
<line x1="423.8" y1="1522.9" x2="432.8" y2="1522.9" stroke="#000" stroke-width="2.6"/>
<text x="436.1" y="1532.5" font-size="28" font-weight="bold" text-anchor="start" fill="#000" textLength="27.28" lengthAdjust="spacingAndGlyphs" stroke="#000" stroke-width="0.4">60</text>
<line x1="171.4" y1="1587.9" x2="422.8" y2="1587.9" stroke="#555" stroke-width="2.6" stroke-dasharray="2.2 2.2"/>
<line x1="171.4" y1="1713.1" x2="422.8" y2="1713.1" stroke="#555" stroke-width="2.6" stroke-dasharray="2.2 2.2"/>
<line x1="220.0" y1="1738.7" x2="296.6" y2="1714.7" stroke="#000" stroke-width="2.4"/>
<circle cx="220.0" cy="1738.7" r="5" fill="#000"/>
<circle cx="296.6" cy="1714.7" r="5.3" fill="#000"/>
<line x1="220.0" y1="1714.7" x2="296.6" y2="1666.8" stroke="#000" stroke-width="2.4"/>
<circle cx="220.0" cy="1714.7" r="5" fill="#000"/>
<circle cx="296.6" cy="1666.8" r="5.3" fill="#000"/>
<line x1="220.0" y1="1711.5" x2="296.6" y2="1602.9" stroke="#000" stroke-width="2.4"/>
<circle cx="220.0" cy="1711.5" r="5" fill="#000"/>
<circle cx="296.6" cy="1602.9" r="5.3" fill="#000"/>
<line x1="220.0" y1="1708.3" x2="296.6" y2="1523.0" stroke="#000" stroke-width="2.4"/>
<circle cx="220.0" cy="1708.3" r="5" fill="#000"/>
<circle cx="296.6" cy="1523.0" r="5.3" fill="#000"/>
<line x1="220.0" y1="1705.2" x2="296.6" y2="1519.8" stroke="#000" stroke-width="2.4"/>
<circle cx="220.0" cy="1705.2" r="5" fill="#000"/>
<circle cx="296.6" cy="1519.8" r="5.3" fill="#000"/>
<line x1="220.0" y1="1698.8" x2="296.6" y2="1500.7" stroke="#000" stroke-width="2.4"/>
<circle cx="220.0" cy="1698.8" r="5" fill="#000"/>
<circle cx="296.6" cy="1500.7" r="5.3" fill="#000"/>
<line x1="373.1" y1="1505.7" x2="373.1" y2="1669.9" stroke="#333" stroke-width="1.6"/>
<line x1="360.1" y1="1505.7" x2="386.1" y2="1505.7" stroke="#333" stroke-width="1.8"/>
<line x1="360.1" y1="1669.9" x2="386.1" y2="1669.9" stroke="#333" stroke-width="1.8"/>
<circle cx="373.1" cy="1505.7" r="5.3" fill="#000"/>
<circle cx="373.1" cy="1524.7" r="5.3" fill="#000"/>
<circle cx="373.1" cy="1534.6" r="5.3" fill="#000"/>
<circle cx="373.1" cy="1607.7" r="5.3" fill="#000"/>
<circle cx="373.1" cy="1666.2" r="5.3" fill="#000"/>
<circle cx="373.1" cy="1689.7" r="5.3" fill="#000"/>
<line x1="348.5" y1="1587.9" x2="400.3" y2="1587.9" stroke="#000" stroke-width="2.6"/>
<text x="176.8" y="1520.5" font-size="34.6" fill="#000" textLength="99" lengthAdjust="spacingAndGlyphs"><tspan font-style="italic">p</tspan>=0.01</text>
<text transform="translate(235.0,1769.5) rotate(-45)" font-size="37" text-anchor="end" fill="#000" stroke="#000" stroke-width="0.45">CpG</text>
<text transform="translate(311.6,1765.0) rotate(-45)" font-size="37" text-anchor="end" fill="#000" stroke="#000" stroke-width="0.45">CpG + anti-Ig</text>
<line x1="623.1" y1="1481.0" x2="878.7" y2="1481.0" stroke="#000" stroke-width="2.6"/>
<line x1="623.1" y1="1737.8" x2="878.7" y2="1737.8" stroke="#000" stroke-width="2.6"/>
<line x1="623.1" y1="1479.7" x2="623.1" y2="1739.1" stroke="#000" stroke-width="2.6"/>
<line x1="789.3" y1="1481.0" x2="789.3" y2="1740.8" stroke="#000" stroke-width="2.2"/>
<line x1="878.7" y1="1479.7" x2="878.7" y2="1739.1" stroke="#000" stroke-width="2.6"/>
<line x1="611.1" y1="1737.8" x2="623.1" y2="1737.8" stroke="#000" stroke-width="2.6"/>
<text x="609.1" y="1746.7" font-size="28" font-weight="bold" text-anchor="end" fill="#000" textLength="13.64" lengthAdjust="spacingAndGlyphs" stroke="#000" stroke-width="0.4">0</text>
<line x1="611.1" y1="1673.6" x2="623.1" y2="1673.6" stroke="#000" stroke-width="2.6"/>
<text x="609.1" y="1682.5" font-size="28" font-weight="bold" text-anchor="end" fill="#000" textLength="27.28" lengthAdjust="spacingAndGlyphs" stroke="#000" stroke-width="0.4">20</text>
<line x1="611.1" y1="1609.4" x2="623.1" y2="1609.4" stroke="#000" stroke-width="2.6"/>
<text x="609.1" y="1618.3" font-size="28" font-weight="bold" text-anchor="end" fill="#000" textLength="27.28" lengthAdjust="spacingAndGlyphs" stroke="#000" stroke-width="0.4">40</text>
<line x1="611.1" y1="1545.2" x2="623.1" y2="1545.2" stroke="#000" stroke-width="2.6"/>
<text x="609.1" y="1554.1" font-size="28" font-weight="bold" text-anchor="end" fill="#000" textLength="27.28" lengthAdjust="spacingAndGlyphs" stroke="#000" stroke-width="0.4">60</text>
<line x1="611.1" y1="1481.0" x2="623.1" y2="1481.0" stroke="#000" stroke-width="2.6"/>
<text x="609.1" y="1489.9" font-size="28" font-weight="bold" text-anchor="end" fill="#000" textLength="27.28" lengthAdjust="spacingAndGlyphs" stroke="#000" stroke-width="0.4">80</text>
<line x1="878.7" y1="1711.4" x2="887.7" y2="1711.4" stroke="#000" stroke-width="2.6"/>
<text x="891.0" y="1721.0" font-size="28" font-weight="bold" text-anchor="start" fill="#000" textLength="13.64" lengthAdjust="spacingAndGlyphs" stroke="#000" stroke-width="0.4">0</text>
<line x1="878.7" y1="1647.2" x2="887.7" y2="1647.2" stroke="#000" stroke-width="2.6"/>
<text x="891.0" y="1656.8" font-size="28" font-weight="bold" text-anchor="start" fill="#000" textLength="27.28" lengthAdjust="spacingAndGlyphs" stroke="#000" stroke-width="0.4">20</text>
<line x1="878.7" y1="1583.0" x2="887.7" y2="1583.0" stroke="#000" stroke-width="2.6"/>
<text x="891.0" y="1592.6" font-size="28" font-weight="bold" text-anchor="start" fill="#000" textLength="27.28" lengthAdjust="spacingAndGlyphs" stroke="#000" stroke-width="0.4">40</text>
<line x1="878.7" y1="1518.8" x2="887.7" y2="1518.8" stroke="#000" stroke-width="2.6"/>
<text x="891.0" y="1528.4" font-size="28" font-weight="bold" text-anchor="start" fill="#000" textLength="27.28" lengthAdjust="spacingAndGlyphs" stroke="#000" stroke-width="0.4">60</text>
<line x1="625.1" y1="1605.7" x2="877.7" y2="1605.7" stroke="#555" stroke-width="2.6" stroke-dasharray="2.2 2.2"/>
<line x1="625.1" y1="1711.4" x2="877.7" y2="1711.4" stroke="#555" stroke-width="2.6" stroke-dasharray="2.2 2.2"/>
<line x1="675.0" y1="1736.2" x2="751.5" y2="1676.8" stroke="#000" stroke-width="2.4"/>
<circle cx="675.0" cy="1736.2" r="5" fill="#000"/>
<circle cx="751.5" cy="1676.8" r="5.3" fill="#000"/>
<line x1="675.0" y1="1712.1" x2="751.5" y2="1654.3" stroke="#000" stroke-width="2.4"/>
<circle cx="675.0" cy="1712.1" r="5" fill="#000"/>
<circle cx="751.5" cy="1654.3" r="5.3" fill="#000"/>
<line x1="675.0" y1="1708.9" x2="751.5" y2="1604.6" stroke="#000" stroke-width="2.4"/>
<circle cx="675.0" cy="1708.9" r="5" fill="#000"/>
<circle cx="751.5" cy="1604.6" r="5.3" fill="#000"/>
<line x1="675.0" y1="1705.7" x2="751.5" y2="1599.8" stroke="#000" stroke-width="2.4"/>
<circle cx="675.0" cy="1705.7" r="5" fill="#000"/>
<circle cx="751.5" cy="1599.8" r="5.3" fill="#000"/>
<line x1="675.0" y1="1702.5" x2="751.5" y2="1564.5" stroke="#000" stroke-width="2.4"/>
<circle cx="675.0" cy="1702.5" r="5" fill="#000"/>
<circle cx="751.5" cy="1564.5" r="5.3" fill="#000"/>
<line x1="675.0" y1="1696.1" x2="751.5" y2="1532.4" stroke="#000" stroke-width="2.4"/>
<circle cx="675.0" cy="1696.1" r="5" fill="#000"/>
<circle cx="751.5" cy="1532.4" r="5.3" fill="#000"/>
<line x1="828.1" y1="1559.3" x2="828.1" y2="1651.4" stroke="#333" stroke-width="1.6"/>
<line x1="815.1" y1="1559.3" x2="841.1" y2="1559.3" stroke="#333" stroke-width="1.8"/>
<line x1="815.1" y1="1651.4" x2="841.1" y2="1651.4" stroke="#333" stroke-width="1.8"/>
<circle cx="828.1" cy="1537.8" r="5.3" fill="#000"/>
<circle cx="828.1" cy="1579.8" r="5.3" fill="#000"/>
<circle cx="818.1" cy="1605.7" r="5.3" fill="#000"/>
<circle cx="839.1" cy="1605.7" r="5.3" fill="#000"/>
<circle cx="818.1" cy="1653.9" r="5.3" fill="#000"/>
<circle cx="839.1" cy="1652.6" r="5.3" fill="#000"/>
<line x1="803.4" y1="1605.7" x2="854.0" y2="1605.7" stroke="#000" stroke-width="2.6"/>
<text x="631.7" y="1519.3" font-size="34.6" fill="#000" textLength="121" lengthAdjust="spacingAndGlyphs"><tspan font-style="italic">p</tspan>=0.002</text>
<text transform="translate(692.8,1765.5) rotate(-45)" font-size="37" text-anchor="end" fill="#000" stroke="#000" stroke-width="0.45">CpG</text>
<text transform="translate(782.8,1762.3) rotate(-45)" font-size="37" text-anchor="end" fill="#000" stroke="#000" stroke-width="0.45">CpG + ICs</text>
<line x1="1051.9" y1="1479.8" x2="1307.5" y2="1479.8" stroke="#000" stroke-width="2.6"/>
<line x1="1051.9" y1="1732.9" x2="1307.5" y2="1732.9" stroke="#000" stroke-width="2.6"/>
<line x1="1051.9" y1="1478.5" x2="1051.9" y2="1734.2" stroke="#000" stroke-width="2.6"/>
<line x1="1216.8" y1="1479.8" x2="1216.8" y2="1735.9" stroke="#000" stroke-width="2.2"/>
<line x1="1307.5" y1="1478.5" x2="1307.5" y2="1734.2" stroke="#000" stroke-width="2.6"/>
<line x1="1039.9" y1="1732.9" x2="1051.9" y2="1732.9" stroke="#000" stroke-width="2.6"/>
<text x="1037.9" y="1741.8" font-size="28" font-weight="bold" text-anchor="end" fill="#000" textLength="13.64" lengthAdjust="spacingAndGlyphs" stroke="#000" stroke-width="0.4">0</text>
<line x1="1039.9" y1="1669.6" x2="1051.9" y2="1669.6" stroke="#000" stroke-width="2.6"/>
<text x="1037.9" y="1678.5" font-size="28" font-weight="bold" text-anchor="end" fill="#000" textLength="27.28" lengthAdjust="spacingAndGlyphs" stroke="#000" stroke-width="0.4">20</text>
<line x1="1039.9" y1="1606.3" x2="1051.9" y2="1606.3" stroke="#000" stroke-width="2.6"/>
<text x="1037.9" y="1615.2" font-size="28" font-weight="bold" text-anchor="end" fill="#000" textLength="27.28" lengthAdjust="spacingAndGlyphs" stroke="#000" stroke-width="0.4">40</text>
<line x1="1039.9" y1="1543.1" x2="1051.9" y2="1543.1" stroke="#000" stroke-width="2.6"/>
<text x="1037.9" y="1552.0" font-size="28" font-weight="bold" text-anchor="end" fill="#000" textLength="27.28" lengthAdjust="spacingAndGlyphs" stroke="#000" stroke-width="0.4">60</text>
<line x1="1039.9" y1="1479.8" x2="1051.9" y2="1479.8" stroke="#000" stroke-width="2.6"/>
<text x="1037.9" y="1488.7" font-size="28" font-weight="bold" text-anchor="end" fill="#000" textLength="27.28" lengthAdjust="spacingAndGlyphs" stroke="#000" stroke-width="0.4">80</text>
<line x1="1307.5" y1="1706.5" x2="1316.5" y2="1706.5" stroke="#000" stroke-width="2.6"/>
<text x="1319.8" y="1716.1" font-size="28" font-weight="bold" text-anchor="start" fill="#000" textLength="13.64" lengthAdjust="spacingAndGlyphs" stroke="#000" stroke-width="0.4">0</text>
<line x1="1307.5" y1="1643.5" x2="1316.5" y2="1643.5" stroke="#000" stroke-width="2.6"/>
<text x="1319.8" y="1653.1" font-size="28" font-weight="bold" text-anchor="start" fill="#000" textLength="27.28" lengthAdjust="spacingAndGlyphs" stroke="#000" stroke-width="0.4">20</text>
<line x1="1307.5" y1="1580.5" x2="1316.5" y2="1580.5" stroke="#000" stroke-width="2.6"/>
<text x="1319.8" y="1590.1" font-size="28" font-weight="bold" text-anchor="start" fill="#000" textLength="27.28" lengthAdjust="spacingAndGlyphs" stroke="#000" stroke-width="0.4">40</text>
<line x1="1307.5" y1="1517.5" x2="1316.5" y2="1517.5" stroke="#000" stroke-width="2.6"/>
<text x="1319.8" y="1527.1" font-size="28" font-weight="bold" text-anchor="start" fill="#000" textLength="27.28" lengthAdjust="spacingAndGlyphs" stroke="#000" stroke-width="0.4">60</text>
<line x1="1053.9" y1="1648.9" x2="1306.5" y2="1648.9" stroke="#555" stroke-width="2.6" stroke-dasharray="2.2 2.2"/>
<line x1="1053.9" y1="1706.5" x2="1306.5" y2="1706.5" stroke="#555" stroke-width="2.6" stroke-dasharray="2.2 2.2"/>
<line x1="1102.5" y1="1731.3" x2="1179.1" y2="1720.2" stroke="#000" stroke-width="2.4"/>
<circle cx="1102.5" cy="1731.3" r="5" fill="#000"/>
<circle cx="1179.1" cy="1720.2" r="5.3" fill="#000"/>
<line x1="1102.5" y1="1707.6" x2="1179.1" y2="1701.3" stroke="#000" stroke-width="2.4"/>
<circle cx="1102.5" cy="1707.6" r="5" fill="#000"/>
<circle cx="1179.1" cy="1701.3" r="5.3" fill="#000"/>
<line x1="1102.5" y1="1704.4" x2="1179.1" y2="1685.4" stroke="#000" stroke-width="2.4"/>
<circle cx="1102.5" cy="1704.4" r="5" fill="#000"/>
<circle cx="1179.1" cy="1685.4" r="5.3" fill="#000"/>
<line x1="1102.5" y1="1701.3" x2="1179.1" y2="1653.8" stroke="#000" stroke-width="2.4"/>
<circle cx="1102.5" cy="1701.3" r="5" fill="#000"/>
<circle cx="1179.1" cy="1653.8" r="5.3" fill="#000"/>
<line x1="1102.5" y1="1698.1" x2="1179.1" y2="1566.8" stroke="#000" stroke-width="2.4"/>
<circle cx="1102.5" cy="1698.1" r="5" fill="#000"/>
<circle cx="1179.1" cy="1566.8" r="5.3" fill="#000"/>
<line x1="1102.5" y1="1691.8" x2="1179.1" y2="1563.6" stroke="#000" stroke-width="2.4"/>
<circle cx="1102.5" cy="1691.8" r="5" fill="#000"/>
<circle cx="1179.1" cy="1563.6" r="5.3" fill="#000"/>
<line x1="1255.6" y1="1584.7" x2="1255.6" y2="1713.1" stroke="#888" stroke-width="1.6"/>
<line x1="1242.6" y1="1584.7" x2="1268.6" y2="1584.7" stroke="#888" stroke-width="1.8"/>
<line x1="1242.6" y1="1713.1" x2="1268.6" y2="1713.1" stroke="#888" stroke-width="1.8"/>
<circle cx="1255.6" cy="1565.0" r="5.3" fill="#000"/>
<circle cx="1255.6" cy="1581.8" r="5.3" fill="#000"/>
<circle cx="1255.6" cy="1658.8" r="5.3" fill="#000"/>
<circle cx="1255.6" cy="1685.5" r="5.3" fill="#000"/>
<circle cx="1255.6" cy="1695.9" r="5.3" fill="#000"/>
<circle cx="1255.6" cy="1705.7" r="5.3" fill="#000"/>
<line x1="1230.9" y1="1648.9" x2="1281.6" y2="1648.9" stroke="#000" stroke-width="2.6"/>
<text x="1065.4" y="1514.3" font-size="34.6" fill="#000" textLength="120" lengthAdjust="spacingAndGlyphs"><tspan font-style="italic">p</tspan>=0.066</text>
<text transform="translate(1119.8,1760.8) rotate(-45)" font-size="37" text-anchor="end" fill="#000" stroke="#000" stroke-width="0.45">CpG</text>
<text transform="translate(1202.3,1755.6) rotate(-45)" font-size="37" text-anchor="end" fill="#000" stroke="#000" stroke-width="0.45">CpG + IVIg</text>
</svg>
</body></html>
